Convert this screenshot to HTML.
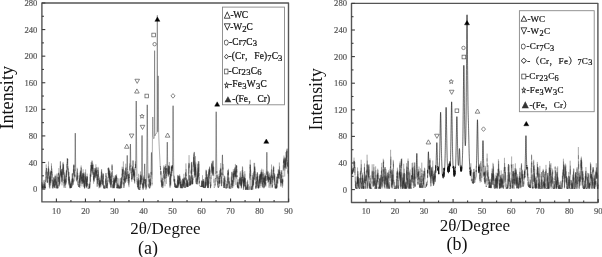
<!DOCTYPE html>
<html><head><meta charset="utf-8"><title>XRD patterns</title>
<style>
html,body{margin:0;padding:0;background:#fff;}
body{width:602px;height:257px;overflow:hidden;}
svg{display:block;}
text{font-family:'Liberation Serif','Noto Serif CJK SC',serif;}
.tk{font-size:8.6px;fill:#555;stroke:#555;stroke-width:0.18;}
.lg{fill:#111;stroke:#111;stroke-width:0.22;}
.ax{fill:#111;}
.dl{fill:none;stroke:#1a1a1a;stroke-width:0.5;stroke-linejoin:round;}
.mk{fill:none;stroke:#555;stroke-width:0.7;}
.pk2{fill:none;stroke:#222;stroke-width:0.3;stroke-linejoin:round;}
.pk3{fill:none;stroke:#222;stroke-width:0.18;stroke-linejoin:round;}
.dl2{fill:none;stroke:#2a2a2a;stroke-width:0.22;stroke-linejoin:round;}
.pk{fill:none;stroke:#111;stroke-width:0.5;stroke-linejoin:round;}
.sy{fill:#333;stroke:#333;stroke-width:3;}
</style></head>
<body>
<svg width="602" height="257" viewBox="0 0 602 257">
<rect width="602" height="257" fill="#fff"/>
<rect x="41.9" y="3.0" width="246.60" height="198.90" fill="none" stroke="#555" stroke-width="1.4" stroke-linejoin="round"/>
<line x1="41.9" y1="189.10" x2="45.30" y2="189.10" stroke="#3c3c3c" stroke-width="1.1"/>
<text x="37.40" y="192.10" text-anchor="end" class="tk">0</text>
<line x1="41.9" y1="175.81" x2="43.90" y2="175.81" stroke="#3c3c3c" stroke-width="1.1"/>
<line x1="41.9" y1="162.51" x2="45.30" y2="162.51" stroke="#3c3c3c" stroke-width="1.1"/>
<text x="37.40" y="165.51" text-anchor="end" class="tk">40</text>
<line x1="41.9" y1="149.22" x2="43.90" y2="149.22" stroke="#3c3c3c" stroke-width="1.1"/>
<line x1="41.9" y1="135.92" x2="45.30" y2="135.92" stroke="#3c3c3c" stroke-width="1.1"/>
<text x="37.40" y="138.92" text-anchor="end" class="tk">80</text>
<line x1="41.9" y1="122.63" x2="43.90" y2="122.63" stroke="#3c3c3c" stroke-width="1.1"/>
<line x1="41.9" y1="109.34" x2="45.30" y2="109.34" stroke="#3c3c3c" stroke-width="1.1"/>
<text x="37.40" y="112.34" text-anchor="end" class="tk">120</text>
<line x1="41.9" y1="96.04" x2="43.90" y2="96.04" stroke="#3c3c3c" stroke-width="1.1"/>
<line x1="41.9" y1="82.75" x2="45.30" y2="82.75" stroke="#3c3c3c" stroke-width="1.1"/>
<text x="37.40" y="85.75" text-anchor="end" class="tk">160</text>
<line x1="41.9" y1="69.45" x2="43.90" y2="69.45" stroke="#3c3c3c" stroke-width="1.1"/>
<line x1="41.9" y1="56.16" x2="45.30" y2="56.16" stroke="#3c3c3c" stroke-width="1.1"/>
<text x="37.40" y="59.16" text-anchor="end" class="tk">200</text>
<line x1="41.9" y1="42.87" x2="43.90" y2="42.87" stroke="#3c3c3c" stroke-width="1.1"/>
<line x1="41.9" y1="29.57" x2="45.30" y2="29.57" stroke="#3c3c3c" stroke-width="1.1"/>
<text x="37.40" y="32.57" text-anchor="end" class="tk">240</text>
<line x1="41.9" y1="16.28" x2="43.90" y2="16.28" stroke="#3c3c3c" stroke-width="1.1"/>
<line x1="41.9" y1="2.98" x2="45.30" y2="2.98" stroke="#3c3c3c" stroke-width="1.1"/>
<text x="37.40" y="5.98" text-anchor="end" class="tk">280</text>
<line x1="56.41" y1="201.9" x2="56.41" y2="198.50" stroke="#3c3c3c" stroke-width="1.1"/>
<text x="56.41" y="213.90" text-anchor="middle" class="tk">10</text>
<line x1="70.92" y1="201.9" x2="70.92" y2="199.90" stroke="#3c3c3c" stroke-width="1.1"/>
<line x1="85.44" y1="201.9" x2="85.44" y2="198.50" stroke="#3c3c3c" stroke-width="1.1"/>
<text x="85.44" y="213.90" text-anchor="middle" class="tk">20</text>
<line x1="99.95" y1="201.9" x2="99.95" y2="199.90" stroke="#3c3c3c" stroke-width="1.1"/>
<line x1="114.46" y1="201.9" x2="114.46" y2="198.50" stroke="#3c3c3c" stroke-width="1.1"/>
<text x="114.46" y="213.90" text-anchor="middle" class="tk">30</text>
<line x1="128.97" y1="201.9" x2="128.97" y2="199.90" stroke="#3c3c3c" stroke-width="1.1"/>
<line x1="143.49" y1="201.9" x2="143.49" y2="198.50" stroke="#3c3c3c" stroke-width="1.1"/>
<text x="143.49" y="213.90" text-anchor="middle" class="tk">40</text>
<line x1="158.00" y1="201.9" x2="158.00" y2="199.90" stroke="#3c3c3c" stroke-width="1.1"/>
<line x1="172.51" y1="201.9" x2="172.51" y2="198.50" stroke="#3c3c3c" stroke-width="1.1"/>
<text x="172.51" y="213.90" text-anchor="middle" class="tk">50</text>
<line x1="187.03" y1="201.9" x2="187.03" y2="199.90" stroke="#3c3c3c" stroke-width="1.1"/>
<line x1="201.54" y1="201.9" x2="201.54" y2="198.50" stroke="#3c3c3c" stroke-width="1.1"/>
<text x="201.54" y="213.90" text-anchor="middle" class="tk">60</text>
<line x1="216.05" y1="201.9" x2="216.05" y2="199.90" stroke="#3c3c3c" stroke-width="1.1"/>
<line x1="230.56" y1="201.9" x2="230.56" y2="198.50" stroke="#3c3c3c" stroke-width="1.1"/>
<text x="230.56" y="213.90" text-anchor="middle" class="tk">70</text>
<line x1="245.07" y1="201.9" x2="245.07" y2="199.90" stroke="#3c3c3c" stroke-width="1.1"/>
<line x1="259.59" y1="201.9" x2="259.59" y2="198.50" stroke="#3c3c3c" stroke-width="1.1"/>
<text x="259.59" y="213.90" text-anchor="middle" class="tk">80</text>
<line x1="274.10" y1="201.9" x2="274.10" y2="199.90" stroke="#3c3c3c" stroke-width="1.1"/>
<line x1="288.61" y1="201.9" x2="288.61" y2="198.50" stroke="#3c3c3c" stroke-width="1.1"/>
<text x="288.61" y="213.90" text-anchor="middle" class="tk">90</text>
<rect x="351.5" y="3.35" width="246.40" height="199.10" fill="none" stroke="#555" stroke-width="1.4" stroke-linejoin="round"/>
<line x1="351.5" y1="189.60" x2="354.90" y2="189.60" stroke="#3c3c3c" stroke-width="1.1"/>
<text x="347.00" y="192.60" text-anchor="end" class="tk">0</text>
<line x1="351.5" y1="176.30" x2="353.50" y2="176.30" stroke="#3c3c3c" stroke-width="1.1"/>
<line x1="351.5" y1="163.00" x2="354.90" y2="163.00" stroke="#3c3c3c" stroke-width="1.1"/>
<text x="347.00" y="166.00" text-anchor="end" class="tk">40</text>
<line x1="351.5" y1="149.70" x2="353.50" y2="149.70" stroke="#3c3c3c" stroke-width="1.1"/>
<line x1="351.5" y1="136.40" x2="354.90" y2="136.40" stroke="#3c3c3c" stroke-width="1.1"/>
<text x="347.00" y="139.40" text-anchor="end" class="tk">80</text>
<line x1="351.5" y1="123.10" x2="353.50" y2="123.10" stroke="#3c3c3c" stroke-width="1.1"/>
<line x1="351.5" y1="109.80" x2="354.90" y2="109.80" stroke="#3c3c3c" stroke-width="1.1"/>
<text x="347.00" y="112.80" text-anchor="end" class="tk">120</text>
<line x1="351.5" y1="96.50" x2="353.50" y2="96.50" stroke="#3c3c3c" stroke-width="1.1"/>
<line x1="351.5" y1="83.20" x2="354.90" y2="83.20" stroke="#3c3c3c" stroke-width="1.1"/>
<text x="347.00" y="86.20" text-anchor="end" class="tk">160</text>
<line x1="351.5" y1="69.90" x2="353.50" y2="69.90" stroke="#3c3c3c" stroke-width="1.1"/>
<line x1="351.5" y1="56.60" x2="354.90" y2="56.60" stroke="#3c3c3c" stroke-width="1.1"/>
<text x="347.00" y="59.60" text-anchor="end" class="tk">200</text>
<line x1="351.5" y1="43.30" x2="353.50" y2="43.30" stroke="#3c3c3c" stroke-width="1.1"/>
<line x1="351.5" y1="30.00" x2="354.90" y2="30.00" stroke="#3c3c3c" stroke-width="1.1"/>
<text x="347.00" y="33.00" text-anchor="end" class="tk">240</text>
<line x1="351.5" y1="16.70" x2="353.50" y2="16.70" stroke="#3c3c3c" stroke-width="1.1"/>
<line x1="351.5" y1="3.40" x2="354.90" y2="3.40" stroke="#3c3c3c" stroke-width="1.1"/>
<text x="347.00" y="6.40" text-anchor="end" class="tk">280</text>
<line x1="366.01" y1="202.45" x2="366.01" y2="199.05" stroke="#3c3c3c" stroke-width="1.1"/>
<text x="366.01" y="214.45" text-anchor="middle" class="tk">10</text>
<line x1="380.52" y1="202.45" x2="380.52" y2="200.45" stroke="#3c3c3c" stroke-width="1.1"/>
<line x1="395.04" y1="202.45" x2="395.04" y2="199.05" stroke="#3c3c3c" stroke-width="1.1"/>
<text x="395.04" y="214.45" text-anchor="middle" class="tk">20</text>
<line x1="409.55" y1="202.45" x2="409.55" y2="200.45" stroke="#3c3c3c" stroke-width="1.1"/>
<line x1="424.06" y1="202.45" x2="424.06" y2="199.05" stroke="#3c3c3c" stroke-width="1.1"/>
<text x="424.06" y="214.45" text-anchor="middle" class="tk">30</text>
<line x1="438.57" y1="202.45" x2="438.57" y2="200.45" stroke="#3c3c3c" stroke-width="1.1"/>
<line x1="453.09" y1="202.45" x2="453.09" y2="199.05" stroke="#3c3c3c" stroke-width="1.1"/>
<text x="453.09" y="214.45" text-anchor="middle" class="tk">40</text>
<line x1="467.60" y1="202.45" x2="467.60" y2="200.45" stroke="#3c3c3c" stroke-width="1.1"/>
<line x1="482.11" y1="202.45" x2="482.11" y2="199.05" stroke="#3c3c3c" stroke-width="1.1"/>
<text x="482.11" y="214.45" text-anchor="middle" class="tk">50</text>
<line x1="496.62" y1="202.45" x2="496.62" y2="200.45" stroke="#3c3c3c" stroke-width="1.1"/>
<line x1="511.14" y1="202.45" x2="511.14" y2="199.05" stroke="#3c3c3c" stroke-width="1.1"/>
<text x="511.14" y="214.45" text-anchor="middle" class="tk">60</text>
<line x1="525.65" y1="202.45" x2="525.65" y2="200.45" stroke="#3c3c3c" stroke-width="1.1"/>
<line x1="540.16" y1="202.45" x2="540.16" y2="199.05" stroke="#3c3c3c" stroke-width="1.1"/>
<text x="540.16" y="214.45" text-anchor="middle" class="tk">70</text>
<line x1="554.67" y1="202.45" x2="554.67" y2="200.45" stroke="#3c3c3c" stroke-width="1.1"/>
<line x1="569.19" y1="202.45" x2="569.19" y2="199.05" stroke="#3c3c3c" stroke-width="1.1"/>
<text x="569.19" y="214.45" text-anchor="middle" class="tk">80</text>
<line x1="583.70" y1="202.45" x2="583.70" y2="200.45" stroke="#3c3c3c" stroke-width="1.1"/>
<line x1="598.21" y1="202.45" x2="598.21" y2="199.05" stroke="#3c3c3c" stroke-width="1.1"/>
<text x="598.21" y="214.45" text-anchor="middle" class="tk">90</text>
<polyline points="41.90,182.65 41.94,182.29 41.99,182.86 42.03,186.07 42.07,184.27 42.12,188.04 42.16,188.25 42.20,182.42 42.25,188.16 42.29,188.17 42.34,185.95 42.38,188.39 42.42,187.90 42.47,187.94 42.51,185.83 42.55,188.05 42.60,188.11 42.64,185.15 42.68,188.11 42.73,186.23 42.77,188.10 42.81,188.21 42.86,183.42 42.90,188.32 42.94,186.62 42.99,188.22 43.03,188.27 43.08,188.12 43.12,187.95 43.16,188.27 43.21,188.31 43.25,188.29 43.29,188.40 43.34,188.25 43.38,188.25 43.42,187.95 43.47,188.38 43.51,188.06 43.55,187.97 43.60,186.14 43.64,187.15 43.69,188.25 43.73,187.99 43.77,181.44 43.82,180.35 43.86,187.95 43.90,184.17 43.95,186.79 43.99,186.95 44.03,186.44 44.08,184.37 44.12,185.81 44.16,188.27 44.21,187.99 44.25,188.08 44.29,179.75 44.34,188.16 44.38,182.15 44.43,184.76 44.47,187.68 44.51,188.11 44.56,188.21 44.60,187.96 44.64,183.68 44.69,187.94 44.73,188.13 44.77,185.45 44.82,188.32 44.86,185.92 44.90,188.37 44.95,188.16 44.99,188.21 45.03,188.34 45.08,188.31 45.12,187.22 45.17,187.96 45.21,188.13 45.25,187.98 45.30,182.49 45.34,188.14 45.38,187.95 45.43,186.85 45.47,188.24 45.51,179.53 45.56,182.07 45.60,180.72 45.64,181.73 45.69,177.38 45.73,178.37 45.77,172.35 45.82,173.49 45.86,180.21 45.91,177.90 45.95,173.83 45.99,170.27 46.04,172.53 46.08,174.95 46.12,173.46 46.17,170.87 46.21,164.38 46.25,173.00 46.30,171.79 46.34,168.35 46.38,169.35 46.43,168.88 46.47,169.25 46.51,169.12 46.56,168.07 46.60,173.96 46.65,168.24 46.69,174.55 46.73,176.71 46.78,177.66 46.82,173.87 46.86,173.38 46.91,180.82 46.95,175.79 46.99,177.48 47.04,182.49 47.08,179.82 47.12,177.52 47.17,174.23 47.21,179.46 47.26,181.95 47.30,182.49 47.34,182.85 47.39,176.79 47.43,183.08 47.47,180.92 47.52,182.14 47.56,178.35 47.60,176.31 47.65,173.84 47.69,171.96 47.73,177.66 47.78,178.92 47.82,171.67 47.86,173.10 47.91,173.58 47.95,173.93 48.00,171.43 48.04,175.78 48.08,173.79 48.13,171.72 48.17,169.57 48.21,168.64 48.26,171.68 48.30,169.54 48.34,168.92 48.39,166.32 48.43,167.14 48.47,172.02 48.52,166.78 48.56,161.55 48.60,175.25 48.65,167.88 48.69,172.08 48.74,176.48 48.78,170.81 48.82,168.90 48.87,178.21 48.91,174.47 48.95,171.65 49.00,178.66 49.04,176.36 49.08,178.24 49.13,184.89 49.17,176.96 49.21,182.50 49.26,178.04 49.30,186.61 49.34,187.13 49.39,184.55 49.43,175.60 49.48,181.04 49.52,180.51 49.56,184.61 49.61,188.07 49.65,188.38 49.69,186.32 49.74,181.70 49.78,176.13 49.82,187.95 49.87,188.37 49.91,179.49 49.95,178.28 50.00,181.59 50.04,186.09 50.09,177.68 50.13,185.10 50.17,172.11 50.22,181.82 50.26,183.45 50.30,182.65 50.35,170.49 50.39,177.10 50.43,177.37 50.48,182.81 50.52,177.38 50.56,178.70 50.61,172.80 50.65,180.72 50.69,172.18 50.74,180.93 50.78,180.56 50.83,176.43 50.87,176.30 50.91,182.82 50.96,181.65 51.00,179.41 51.04,172.94 51.09,170.95 51.13,171.27 51.17,172.20 51.22,170.65 51.26,174.60 51.30,171.07 51.35,172.33 51.39,172.51 51.43,163.32 51.48,170.05 51.52,165.82 51.57,173.84 51.61,171.28 51.65,172.79 51.70,172.42 51.74,172.10 51.78,170.79 51.83,172.41 51.87,175.47 51.91,168.48 51.96,177.88 52.00,172.15 52.04,178.95 52.09,181.63 52.13,174.06 52.17,184.73 52.22,184.07 52.26,179.47 52.31,183.59 52.35,187.87 52.39,183.78 52.44,179.89 52.48,183.66 52.52,185.65 52.57,185.15 52.61,188.24 52.65,184.91 52.70,188.28 52.74,188.22 52.78,188.31 52.83,187.99 52.87,187.94 52.91,188.23 52.96,188.04 53.00,188.07 53.05,187.97 53.09,188.07 53.13,188.27 53.18,182.69 53.22,183.12 53.26,186.72 53.31,182.43 53.35,183.47 53.39,187.54 53.44,181.67 53.48,184.62 53.52,184.49 53.57,180.82 53.61,185.97 53.66,181.07 53.70,177.26 53.74,177.58 53.79,182.06 53.83,177.66 53.87,186.71 53.92,179.56 53.96,184.07 54.00,177.60 54.05,182.39 54.09,181.88 54.13,181.86 54.18,187.36 54.22,188.08 54.26,187.49 54.31,185.24 54.35,180.09 54.40,186.15 54.44,183.98 54.48,186.96 54.53,186.56 54.57,184.42 54.61,187.82 54.66,183.13 54.70,179.33 54.74,181.13 54.79,188.11 54.83,181.29 54.87,180.85 54.92,178.79 54.96,182.53 55.00,176.38 55.05,178.74 55.09,180.48 55.14,174.61 55.18,178.28 55.22,182.44 55.27,176.44 55.31,181.27 55.35,178.83 55.40,175.90 55.44,184.35 55.48,179.52 55.53,179.16 55.57,181.90 55.61,182.65 55.66,185.97 55.70,183.95 55.74,185.07 55.79,181.18 55.83,184.30 55.88,180.63 55.92,182.83 55.96,184.87 56.01,184.40 56.05,188.24 56.09,181.29 56.14,184.20 56.18,187.95 56.22,188.00 56.27,187.58 56.31,188.28 56.35,182.67 56.40,188.36 56.44,182.43 56.49,182.17 56.53,183.13 56.57,179.57 56.62,178.03 56.66,184.59 56.70,186.82 56.75,180.83 56.79,176.39 56.83,177.58 56.88,177.42 56.92,177.98 56.96,174.41 57.01,184.01 57.05,181.91 57.09,173.35 57.14,187.90 57.18,188.25 57.23,188.05 57.27,186.71 57.31,186.55 57.36,188.42 57.40,186.79 57.44,184.60 57.49,187.97 57.53,188.22 57.57,188.04 57.62,188.01 57.66,188.37 57.70,188.06 57.75,186.02 57.79,188.12 57.83,184.48 57.88,188.26 57.92,188.28 57.97,176.95 58.01,188.26 58.05,186.31 58.10,184.87 58.14,185.36 58.18,186.01 58.23,177.41 58.27,181.71 58.31,181.66 58.36,177.60 58.40,178.71 58.44,181.51 58.49,181.91 58.53,175.98 58.57,172.94 58.62,175.55 58.66,173.26 58.71,173.19 58.75,178.97 58.79,172.59 58.84,175.09 58.88,168.06 58.92,174.20 58.97,179.41 59.01,177.07 59.05,185.47 59.10,180.38 59.14,177.29 59.18,177.48 59.23,176.60 59.27,181.59 59.31,183.75 59.36,183.21 59.40,185.29 59.45,175.85 59.49,185.63 59.53,186.51 59.58,174.98 59.62,183.28 59.66,179.29 59.71,179.86 59.75,182.73 59.79,179.61 59.84,174.22 59.88,179.53 59.92,184.01 59.97,184.17 60.01,178.90 60.06,174.15 60.10,169.05 60.14,166.95 60.19,165.07 60.23,164.49 60.27,161.45 60.32,167.86 60.36,166.18 60.40,175.53 60.45,166.97 60.49,161.30 60.53,168.33 60.58,165.32 60.62,168.96 60.66,168.10 60.71,172.34 60.75,169.34 60.80,174.69 60.84,170.92 60.88,175.61 60.93,175.23 60.97,169.79 61.01,177.08 61.06,172.00 61.10,171.18 61.14,177.68 61.19,178.33 61.23,177.98 61.27,172.00 61.32,175.56 61.36,174.14 61.40,169.19 61.45,177.26 61.49,171.95 61.54,176.52 61.58,177.62 61.62,181.86 61.67,180.52 61.71,169.05 61.75,177.22 61.80,181.41 61.84,173.82 61.88,176.29 61.93,175.84 61.97,175.58 62.01,185.37 62.06,184.62 62.10,179.11 62.14,176.67 62.19,177.15 62.23,173.52 62.28,180.46 62.32,171.39 62.36,182.50 62.41,173.43 62.45,171.13 62.49,170.28 62.54,169.34 62.58,170.69 62.62,170.39 62.67,174.89 62.71,169.30 62.75,170.05 62.80,167.70 62.84,170.93 62.89,173.37 62.93,163.16 62.97,174.61 63.02,168.82 63.06,162.26 63.10,161.93 63.15,173.72 63.19,164.34 63.23,169.44 63.28,165.85 63.32,164.99 63.36,164.39 63.41,175.05 63.45,171.74 63.49,166.69 63.54,167.48 63.58,164.38 63.63,168.43 63.67,167.88 63.71,169.31 63.76,171.74 63.80,180.86 63.84,169.84 63.89,176.63 63.93,180.87 63.97,181.10 64.02,183.53 64.06,182.03 64.10,187.99 64.15,179.73 64.19,187.40 64.23,179.94 64.28,185.86 64.32,181.26 64.37,178.39 64.41,181.28 64.45,182.38 64.50,181.19 64.54,182.05 64.58,181.34 64.63,172.30 64.67,183.42 64.71,181.51 64.76,179.85 64.80,177.89 64.84,175.13 64.89,177.80 64.93,173.60 64.97,181.53 65.02,176.60 65.06,177.66 65.11,182.77 65.15,179.99 65.19,181.55 65.24,183.35 65.28,184.55 65.32,178.75 65.37,185.51 65.41,179.60 65.45,179.51 65.50,181.34 65.54,181.39 65.58,188.02 65.63,183.07 65.67,180.85 65.72,180.25 65.76,178.31 65.80,180.17 65.85,182.88 65.89,184.25 65.93,184.64 65.98,181.49 66.02,182.20 66.06,175.92 66.11,182.47 66.15,183.64 66.19,182.06 66.24,170.41 66.28,177.92 66.32,182.27 66.37,171.42 66.41,177.00 66.46,174.42 66.50,176.81 66.54,171.00 66.59,169.69 66.63,174.53 66.67,170.57 66.72,175.07 66.76,164.11 66.80,172.12 66.85,171.11 66.89,170.87 66.93,170.57 66.98,165.56 67.02,167.82 67.06,162.62 67.11,162.54 67.15,159.55 67.20,158.12 67.24,165.22 67.28,161.90 67.33,165.05 67.37,162.07 67.41,158.53 67.46,159.20 67.50,162.97 67.54,158.78 67.59,160.48 67.63,158.89 67.67,170.22 67.72,165.38 67.76,158.96 67.80,169.34 67.85,166.00 67.89,166.31 67.94,169.04 67.98,168.70 68.02,167.76 68.07,169.93 68.11,172.28 68.15,168.97 68.20,168.71 68.24,169.53 68.28,180.32 68.33,168.88 68.37,172.90 68.41,175.63 68.46,171.69 68.50,172.85 68.54,173.07 68.59,179.65 68.63,183.56 68.68,172.19 68.72,176.14 68.76,180.35 68.81,180.71 68.85,180.28 68.89,176.97 68.94,184.72 68.98,183.66 69.02,171.91 69.07,185.64 69.11,179.14 69.15,180.19 69.20,180.51 69.24,176.33 69.29,182.50 69.33,176.72 69.37,181.07 69.42,183.75 69.46,184.27 69.50,183.83 69.55,178.85 69.59,178.78 69.63,182.87 69.68,186.60 69.72,187.56 69.76,185.40 69.81,180.27 69.85,182.97 69.89,187.32 69.94,181.07 69.98,188.33 70.03,187.97 70.07,188.26 70.11,183.88 70.16,187.91 70.20,188.32 70.24,187.15 70.29,188.03 70.33,183.99 70.37,185.68 70.42,187.83 70.46,184.17 70.50,187.94 70.55,182.73 70.59,187.98 70.63,187.88 70.68,187.26 70.72,185.23 70.77,187.36 70.81,186.11 70.85,187.92 70.90,188.03 70.94,182.27 70.98,184.26 71.03,188.08 71.07,186.50 71.11,187.92 71.16,188.02 71.20,187.40 71.24,185.34 71.29,183.09 71.33,184.85 71.37,187.45 71.42,187.78 71.46,187.86 71.51,187.33 71.55,181.21 71.59,185.23 71.64,185.08 71.68,187.49 71.72,183.55 71.77,186.44 71.81,184.09 71.85,181.18 71.90,179.27 71.94,183.69 71.98,183.46 72.03,179.66 72.07,181.95 72.12,173.56 72.16,180.26 72.20,184.73 72.25,178.20 72.29,180.19 72.33,178.43 72.38,177.77 72.42,173.94 72.46,173.65 72.51,179.86 72.55,185.31 72.59,186.20 72.64,172.93 72.68,180.33 72.72,178.07 72.77,182.24 72.81,180.27 72.86,178.54 72.90,183.11 72.94,181.90 72.99,179.68 73.03,184.99 73.07,184.49 73.12,178.73 73.16,181.78 73.20,180.37 73.25,184.47 73.29,176.41 73.33,175.59 73.38,168.86 73.42,175.12 73.46,174.78 73.51,169.94 73.55,171.85 73.60,165.56 73.64,170.39 73.68,170.29 73.73,166.55 73.77,164.77 73.81,167.26 73.86,164.36 73.90,173.96 73.94,169.69 73.99,168.67 74.03,165.06 74.07,176.11 74.12,166.52 74.16,173.11 74.20,170.52 74.25,172.81 74.29,181.39 74.34,177.00 74.38,174.54 74.42,177.40 74.47,177.17 74.51,174.44 74.55,175.50 74.60,175.13 74.64,171.89 74.68,174.75 74.73,176.69 74.77,174.28 74.81,169.29 74.86,171.46 74.90,166.98 74.94,162.28 74.99,159.62 75.03,154.80 75.08,149.93 75.12,144.83 75.16,139.98 75.21,135.99 75.25,133.55 75.29,133.15 75.34,134.89 75.38,138.37 75.42,142.94 75.47,147.95 75.51,152.88 75.55,157.83 75.60,161.99 75.64,167.15 75.69,170.98 75.73,173.67 75.77,175.50 75.82,174.63 75.86,177.18 75.90,175.27 75.95,176.77 75.99,178.47 76.03,179.00 76.08,179.14 76.12,179.45 76.16,179.35 76.21,179.77 76.25,180.03 76.29,179.97 76.34,180.25 76.38,180.08 76.43,180.30 76.47,177.75 76.51,180.67 76.56,180.80 76.60,180.91 76.64,180.99 76.69,179.57 76.73,176.54 76.77,178.40 76.82,177.95 76.86,174.83 76.90,171.52 76.95,172.68 76.99,182.04 77.03,174.68 77.08,173.54 77.12,174.05 77.17,172.97 77.21,167.79 77.25,172.48 77.30,173.57 77.34,174.10 77.38,179.43 77.43,178.80 77.47,180.39 77.51,168.97 77.56,174.75 77.60,179.61 77.64,177.12 77.69,176.29 77.73,178.88 77.77,173.16 77.82,176.76 77.86,175.33 77.91,181.94 77.95,184.65 77.99,181.99 78.04,182.41 78.08,180.16 78.12,185.34 78.17,181.37 78.21,185.43 78.25,185.41 78.30,184.24 78.34,185.83 78.38,186.08 78.43,185.93 78.47,186.24 78.52,185.97 78.56,186.21 78.60,186.11 78.65,186.27 78.69,186.67 78.73,186.67 78.78,185.81 78.82,186.87 78.86,184.53 78.91,186.68 78.95,187.01 78.99,186.84 79.04,186.80 79.08,186.86 79.12,185.69 79.17,184.35 79.21,186.42 79.26,187.14 79.30,185.53 79.34,175.58 79.39,183.02 79.43,177.73 79.47,184.40 79.52,187.57 79.56,180.42 79.60,179.19 79.65,180.33 79.69,182.02 79.73,182.15 79.78,178.70 79.82,183.87 79.86,181.23 79.91,174.77 79.95,187.89 80.00,179.52 80.04,172.76 80.08,185.90 80.13,185.44 80.17,181.09 80.21,178.89 80.26,171.78 80.30,179.60 80.34,182.65 80.39,170.41 80.43,176.33 80.47,174.79 80.52,175.07 80.56,179.11 80.60,177.14 80.65,172.30 80.69,171.46 80.74,179.81 80.78,173.48 80.82,177.60 80.87,170.83 80.91,174.40 80.95,174.93 81.00,172.55 81.04,167.39 81.08,173.13 81.13,165.51 81.17,172.16 81.21,173.58 81.26,173.98 81.30,174.37 81.34,175.48 81.39,167.68 81.43,181.02 81.48,176.99 81.52,177.95 81.56,177.51 81.61,178.94 81.65,175.67 81.69,183.78 81.74,175.32 81.78,175.12 81.82,181.76 81.87,178.41 81.91,186.42 81.95,176.39 82.00,176.65 82.04,174.73 82.09,180.88 82.13,173.08 82.17,177.79 82.22,176.88 82.26,178.12 82.30,181.13 82.35,184.16 82.39,179.91 82.43,182.48 82.48,176.24 82.52,183.70 82.56,183.53 82.61,177.47 82.65,181.15 82.69,175.45 82.74,175.94 82.78,173.51 82.83,174.18 82.87,176.54 82.91,177.41 82.96,176.68 83.00,173.19 83.04,176.30 83.09,169.90 83.13,169.29 83.17,179.20 83.22,173.89 83.26,182.07 83.30,179.24 83.35,172.76 83.39,182.72 83.43,179.71 83.48,179.15 83.52,184.27 83.57,182.30 83.61,175.98 83.65,177.69 83.70,174.10 83.74,179.30 83.78,186.66 83.83,178.46 83.87,182.97 83.91,176.17 83.96,182.65 84.00,172.56 84.04,186.94 84.09,182.99 84.13,173.69 84.17,180.12 84.22,182.72 84.26,181.42 84.31,180.09 84.35,188.27 84.39,185.56 84.44,181.13 84.48,182.97 84.52,188.42 84.57,184.99 84.61,183.17 84.65,188.36 84.70,180.48 84.74,179.47 84.78,188.09 84.83,184.38 84.87,184.96 84.92,186.52 84.96,183.25 85.00,186.18 85.05,176.39 85.09,177.28 85.13,184.25 85.18,183.36 85.22,174.81 85.26,179.30 85.31,172.38 85.35,179.37 85.39,178.72 85.44,177.17 85.48,181.54 85.52,179.49 85.57,176.96 85.61,169.39 85.66,180.12 85.70,178.42 85.74,183.45 85.79,180.70 85.83,183.60 85.87,183.68 85.92,183.54 85.96,184.65 86.00,177.31 86.05,178.38 86.09,186.51 86.13,176.16 86.18,179.30 86.22,182.35 86.26,185.69 86.31,181.23 86.35,180.52 86.40,187.54 86.44,188.17 86.48,178.52 86.53,186.90 86.57,182.73 86.61,186.70 86.66,186.91 86.70,180.73 86.74,187.73 86.79,178.75 86.83,182.10 86.87,176.58 86.92,184.08 86.96,183.96 87.00,183.38 87.05,181.23 87.09,176.01 87.14,185.76 87.18,173.65 87.22,179.48 87.27,181.78 87.31,181.84 87.35,176.56 87.40,177.92 87.44,178.10 87.48,180.28 87.53,177.03 87.57,181.26 87.61,185.44 87.66,183.19 87.70,185.15 87.74,186.42 87.79,183.83 87.83,188.14 87.88,188.37 87.92,187.94 87.96,187.90 88.01,188.37 88.05,188.12 88.09,188.15 88.14,187.93 88.18,188.11 88.22,188.23 88.27,187.93 88.31,188.10 88.35,188.32 88.40,188.34 88.44,188.00 88.49,187.94 88.53,188.38 88.57,188.34 88.62,188.41 88.66,188.17 88.70,188.08 88.75,188.26 88.79,188.31 88.83,188.21 88.88,188.04 88.92,188.26 88.96,188.13 89.01,185.99 89.05,188.27 89.09,188.00 89.14,183.90 89.18,187.94 89.23,188.13 89.27,188.32 89.31,188.11 89.36,187.97 89.40,184.35 89.44,188.41 89.49,186.83 89.53,187.98 89.57,183.68 89.62,185.50 89.66,188.35 89.70,183.50 89.75,182.47 89.79,188.30 89.83,186.53 89.88,185.29 89.92,185.46 89.97,186.57 90.01,177.15 90.05,184.96 90.10,183.60 90.14,182.41 90.18,181.79 90.23,174.42 90.27,177.49 90.31,172.90 90.36,181.30 90.40,174.37 90.44,176.56 90.49,174.84 90.53,182.09 90.57,177.17 90.62,174.96 90.66,175.52 90.71,171.92 90.75,170.62 90.79,169.16 90.84,169.89 90.88,174.69 90.92,167.84 90.97,172.99 91.01,165.16 91.05,172.20 91.10,164.87 91.14,176.74 91.18,162.08 91.23,166.55 91.27,164.96 91.32,167.82 91.36,167.42 91.40,168.37 91.45,162.62 91.49,166.55 91.53,166.71 91.58,167.76 91.62,170.98 91.66,168.99 91.71,166.59 91.75,170.25 91.79,160.61 91.84,168.47 91.88,166.23 91.92,165.19 91.97,170.91 92.01,165.04 92.06,168.37 92.10,166.87 92.14,168.39 92.19,167.63 92.23,164.98 92.27,167.49 92.32,168.96 92.36,160.69 92.40,168.39 92.45,167.83 92.49,169.13 92.53,167.60 92.58,173.56 92.62,164.69 92.66,162.70 92.71,172.49 92.75,165.00 92.80,166.86 92.84,169.72 92.88,174.03 92.93,174.70 92.97,169.66 93.01,164.02 93.06,166.51 93.10,165.25 93.14,174.97 93.19,174.66 93.23,174.29 93.27,167.65 93.32,176.97 93.36,177.29 93.40,172.46 93.45,175.39 93.49,180.00 93.54,172.14 93.58,183.70 93.62,177.73 93.67,176.99 93.71,179.09 93.75,177.41 93.80,175.70 93.84,181.35 93.88,176.08 93.93,179.57 93.97,179.04 94.01,180.87 94.06,178.59 94.10,179.17 94.14,178.51 94.19,181.84 94.23,178.57 94.28,177.98 94.32,171.87 94.36,175.65 94.41,178.32 94.45,173.98 94.49,173.66 94.54,176.69 94.58,176.93 94.62,167.96 94.67,174.38 94.71,172.59 94.75,177.37 94.80,173.79 94.84,178.95 94.89,172.47 94.93,170.06 94.97,176.77 95.02,175.09 95.06,171.38 95.10,168.46 95.15,170.13 95.19,173.95 95.23,172.55 95.28,170.18 95.32,168.96 95.36,171.67 95.41,172.20 95.45,168.74 95.49,167.89 95.54,169.87 95.58,172.08 95.63,177.71 95.67,170.28 95.71,170.82 95.76,173.09 95.80,175.89 95.84,172.61 95.89,164.30 95.93,177.87 95.97,175.34 96.02,170.85 96.06,176.40 96.10,173.77 96.15,170.75 96.19,172.63 96.23,172.32 96.28,171.12 96.32,173.79 96.37,167.31 96.41,173.59 96.45,173.49 96.50,171.66 96.54,171.62 96.58,167.51 96.63,169.78 96.67,172.32 96.71,173.51 96.76,175.95 96.80,169.56 96.84,176.32 96.89,170.71 96.93,180.11 96.97,173.87 97.02,178.12 97.06,181.95 97.11,186.98 97.15,178.04 97.19,176.50 97.24,179.70 97.28,186.34 97.32,173.92 97.37,182.33 97.41,184.02 97.45,179.01 97.50,183.49 97.54,175.13 97.58,179.63 97.63,180.16 97.67,178.30 97.72,179.45 97.76,176.46 97.80,169.91 97.85,170.87 97.89,170.27 97.93,170.74 97.98,173.01 98.02,166.86 98.06,171.22 98.11,167.80 98.15,171.32 98.19,174.05 98.24,176.89 98.28,170.73 98.32,177.80 98.37,174.48 98.41,171.75 98.46,175.12 98.50,179.97 98.54,178.83 98.59,173.57 98.63,182.15 98.67,178.43 98.72,181.07 98.76,178.41 98.80,185.09 98.85,180.79 98.89,184.53 98.93,183.14 98.98,188.35 99.02,187.68 99.06,186.75 99.11,185.12 99.15,184.80 99.20,185.95 99.24,181.95 99.28,185.62 99.33,181.34 99.37,186.79 99.41,183.14 99.46,183.54 99.50,180.57 99.54,187.72 99.59,181.83 99.63,187.11 99.67,179.93 99.72,185.17 99.76,176.55 99.80,181.31 99.85,177.93 99.89,180.78 99.94,179.75 99.98,186.06 100.02,183.66 100.07,187.62 100.11,181.59 100.15,184.85 100.20,180.27 100.24,180.63 100.28,182.01 100.33,184.52 100.37,182.04 100.41,183.87 100.46,184.67 100.50,183.67 100.55,180.90 100.59,183.12 100.63,183.64 100.68,184.94 100.72,187.31 100.76,183.58 100.81,182.68 100.85,180.58 100.89,184.81 100.94,184.60 100.98,186.26 101.02,179.34 101.07,184.03 101.11,175.41 101.15,181.91 101.20,180.53 101.24,179.24 101.29,176.56 101.33,171.71 101.37,179.47 101.42,179.06 101.46,169.86 101.50,169.68 101.55,169.96 101.59,178.24 101.63,169.12 101.68,177.29 101.72,171.73 101.76,181.20 101.81,178.88 101.85,183.90 101.89,179.23 101.94,175.31 101.98,178.48 102.03,178.38 102.07,177.79 102.11,178.84 102.16,184.24 102.20,184.23 102.24,183.51 102.29,184.54 102.33,180.07 102.37,181.63 102.42,182.55 102.46,181.28 102.50,182.60 102.55,184.88 102.59,179.82 102.63,181.26 102.68,178.92 102.72,183.34 102.77,173.26 102.81,178.16 102.85,179.06 102.90,175.83 102.94,183.76 102.98,186.29 103.03,181.34 103.07,174.15 103.11,178.99 103.16,185.22 103.20,180.75 103.24,180.29 103.29,173.35 103.33,179.28 103.37,174.28 103.42,182.06 103.46,181.95 103.51,182.29 103.55,184.84 103.59,188.34 103.64,188.08 103.68,180.97 103.72,188.04 103.77,184.90 103.81,188.08 103.85,187.96 103.90,188.32 103.94,187.99 103.98,188.34 104.03,188.11 104.07,188.20 104.12,185.57 104.16,187.95 104.20,188.22 104.25,185.39 104.29,187.90 104.33,187.96 104.38,188.07 104.42,188.18 104.46,187.67 104.51,188.26 104.55,186.13 104.59,187.13 104.64,188.25 104.68,188.17 104.72,188.39 104.77,188.08 104.81,188.38 104.86,187.91 104.90,188.34 104.94,188.14 104.99,187.69 105.03,188.37 105.07,187.93 105.12,188.33 105.16,188.03 105.20,184.75 105.25,187.56 105.29,186.64 105.33,186.66 105.38,186.08 105.42,188.15 105.46,188.03 105.51,185.52 105.55,178.43 105.60,184.27 105.64,183.29 105.68,179.54 105.73,185.57 105.77,178.17 105.81,176.41 105.86,173.17 105.90,176.98 105.94,175.49 105.99,179.71 106.03,180.68 106.07,185.73 106.12,172.96 106.16,181.69 106.20,183.30 106.25,182.35 106.29,180.79 106.34,182.15 106.38,181.82 106.42,181.47 106.47,176.39 106.51,188.06 106.55,182.79 106.60,187.91 106.64,184.68 106.68,185.59 106.73,184.81 106.77,187.93 106.81,188.02 106.86,185.36 106.90,187.91 106.95,188.22 106.99,188.12 107.03,187.94 107.08,185.46 107.12,188.41 107.16,182.78 107.21,185.13 107.25,185.68 107.29,183.66 107.34,184.90 107.38,188.01 107.42,188.30 107.47,181.47 107.51,182.35 107.55,185.40 107.60,182.46 107.64,184.40 107.69,180.86 107.73,180.00 107.77,180.13 107.82,181.90 107.86,177.09 107.90,181.48 107.95,179.08 107.99,172.71 108.03,173.78 108.08,171.23 108.12,168.08 108.16,170.10 108.21,168.12 108.25,169.43 108.29,170.51 108.34,171.38 108.38,167.78 108.43,167.49 108.47,174.75 108.51,169.49 108.56,167.77 108.60,170.82 108.64,177.57 108.69,171.15 108.73,178.06 108.77,169.98 108.82,174.76 108.86,168.91 108.90,175.29 108.95,168.03 108.99,167.77 109.03,176.54 109.08,171.74 109.12,169.59 109.17,177.91 109.21,182.23 109.25,174.59 109.30,177.54 109.34,176.75 109.38,174.83 109.43,183.63 109.47,172.97 109.51,179.16 109.56,177.49 109.60,170.87 109.64,174.45 109.69,176.23 109.73,182.56 109.77,170.65 109.82,178.49 109.86,173.14 109.91,176.11 109.95,171.29 109.99,179.96 110.04,176.66 110.08,175.92 110.12,178.37 110.17,184.90 110.21,173.69 110.25,175.32 110.30,181.48 110.34,178.88 110.38,177.27 110.43,178.11 110.47,175.88 110.52,181.02 110.56,183.13 110.60,186.59 110.65,182.85 110.69,184.11 110.73,179.00 110.78,187.94 110.82,184.40 110.86,179.65 110.91,179.08 110.95,184.50 110.99,179.80 111.04,186.88 111.08,176.04 111.12,185.03 111.17,179.14 111.21,182.16 111.26,187.90 111.30,182.74 111.34,172.42 111.39,178.29 111.43,183.42 111.47,182.43 111.52,175.81 111.56,176.22 111.60,175.05 111.65,175.58 111.69,172.89 111.73,172.45 111.78,173.30 111.82,179.42 111.86,172.66 111.91,170.34 111.95,167.22 112.00,164.69 112.04,169.61 112.08,164.39 112.13,170.01 112.17,165.87 112.21,170.15 112.26,169.51 112.30,177.21 112.34,175.30 112.39,170.73 112.43,171.97 112.47,173.94 112.52,179.08 112.56,181.73 112.60,182.13 112.65,182.07 112.69,181.04 112.74,186.19 112.78,184.41 112.82,186.68 112.87,188.31 112.91,188.12 112.95,185.88 113.00,187.51 113.04,184.54 113.08,188.11 113.13,184.51 113.17,188.23 113.21,186.56 113.26,187.93 113.30,182.54 113.35,185.47 113.39,180.39 113.43,188.09 113.48,182.34 113.52,180.25 113.56,178.02 113.61,178.50 113.65,180.58 113.69,180.98 113.74,185.97 113.78,187.25 113.82,175.68 113.87,177.19 113.91,184.04 113.95,188.02 114.00,178.49 114.04,179.88 114.09,184.56 114.13,182.90 114.17,183.73 114.22,180.22 114.26,184.20 114.30,179.33 114.35,182.00 114.39,180.36 114.43,186.39 114.48,182.32 114.52,188.27 114.56,180.37 114.61,187.95 114.65,182.71 114.69,183.16 114.74,178.98 114.78,183.51 114.83,177.02 114.87,177.82 114.91,182.88 114.96,178.45 115.00,178.01 115.04,178.11 115.09,185.29 115.13,178.20 115.17,178.46 115.22,179.65 115.26,182.69 115.30,175.68 115.35,175.36 115.39,181.51 115.43,181.24 115.48,176.96 115.52,175.57 115.57,177.74 115.61,181.44 115.65,179.16 115.70,178.19 115.74,181.65 115.78,182.34 115.83,176.41 115.87,175.54 115.91,176.01 115.96,177.51 116.00,178.99 116.04,177.50 116.09,178.50 116.13,180.76 116.17,174.74 116.22,176.37 116.26,181.26 116.31,180.19 116.35,178.20 116.39,176.30 116.44,183.18 116.48,180.06 116.52,176.07 116.57,178.92 116.61,174.41 116.65,179.04 116.70,187.97 116.74,188.16 116.78,176.91 116.83,187.31 116.87,188.12 116.92,187.08 116.96,187.89 117.00,188.01 117.05,187.65 117.09,188.17 117.13,183.38 117.18,187.94 117.22,188.29 117.26,188.35 117.31,188.18 117.35,188.34 117.39,188.19 117.44,187.45 117.48,188.08 117.52,184.55 117.57,187.94 117.61,188.05 117.66,188.03 117.70,187.47 117.74,178.00 117.79,186.80 117.83,183.26 117.87,184.57 117.92,188.18 117.96,186.99 118.00,184.52 118.05,188.03 118.09,187.86 118.13,185.04 118.18,188.02 118.22,188.18 118.26,188.07 118.31,188.37 118.35,188.35 118.40,188.14 118.44,187.88 118.48,185.12 118.53,184.76 118.57,187.95 118.61,188.35 118.66,188.16 118.70,188.31 118.74,187.52 118.79,188.29 118.83,185.91 118.87,187.96 118.92,181.94 118.96,181.63 119.00,178.51 119.05,185.81 119.09,188.19 119.14,187.50 119.18,187.63 119.22,188.36 119.27,185.32 119.31,185.50 119.35,188.24 119.40,188.37 119.44,186.63 119.48,188.32 119.53,188.02 119.57,187.93 119.61,187.91 119.66,185.91 119.70,188.23 119.75,188.33 119.79,187.97 119.83,187.16 119.88,188.37 119.92,188.29 119.96,188.23 120.01,187.97 120.05,188.11 120.09,187.93 120.14,188.31 120.18,187.96 120.22,184.16 120.27,188.31 120.31,187.91 120.35,188.17 120.40,188.14 120.44,188.28 120.49,182.11 120.53,188.13 120.57,188.20 120.62,188.22 120.66,188.34 120.70,180.84 120.75,177.99 120.79,181.26 120.83,187.96 120.88,183.46 120.92,181.23 120.96,187.56 121.01,178.55 121.05,181.22 121.09,188.02 121.14,186.06 121.18,185.62 121.23,188.25 121.27,187.93 121.31,181.06 121.36,177.48 121.40,180.27 121.44,181.99 121.49,177.13 121.53,178.55 121.57,183.57 121.62,185.57 121.66,181.31 121.70,188.14 121.75,187.80 121.79,185.65 121.83,183.87 121.88,173.67 121.92,181.02 121.97,184.47 122.01,178.89 122.05,183.70 122.10,174.58 122.14,166.66 122.18,170.19 122.23,169.19 122.27,175.22 122.31,175.12 122.36,170.66 122.40,175.33 122.44,179.31 122.49,169.80 122.53,174.41 122.57,177.48 122.62,173.97 122.66,168.86 122.71,173.32 122.75,173.76 122.79,175.39 122.84,176.45 122.88,168.69 122.92,171.43 122.97,170.17 123.01,170.57 123.05,170.86 123.10,173.76 123.14,171.58 123.18,167.24 123.23,168.22 123.27,168.47 123.32,167.38 123.36,161.40 123.40,173.40 123.45,168.72 123.49,179.66 123.53,173.04 123.58,177.10 123.62,180.56 123.66,179.09 123.71,181.64 123.75,187.98 123.79,183.00 123.84,184.77 123.88,182.09 123.92,183.90 123.97,181.71 124.01,187.87 124.06,179.09 124.10,184.16 124.14,184.44 124.19,185.20 124.23,186.26 124.27,181.69 124.32,179.89 124.36,175.99 124.40,178.53 124.45,180.70 124.49,179.41 124.53,180.15 124.58,180.20 124.62,177.94 124.66,170.47 124.71,181.91 124.75,178.88 124.80,178.42 124.84,182.28 124.88,172.24 124.93,181.02 124.97,174.26 125.01,170.58 125.06,179.79 125.10,177.32 125.14,183.35 125.19,177.96 125.23,182.00 125.27,176.21 125.32,183.02 125.36,178.95 125.40,179.12 125.45,176.04 125.49,171.86 125.54,171.26 125.58,175.34 125.62,168.19 125.67,170.42 125.71,168.54 125.75,167.68 125.80,163.69 125.84,170.63 125.88,175.68 125.93,168.18 125.97,172.43 126.01,174.09 126.06,174.56 126.10,166.92 126.15,170.36 126.19,178.75 126.23,178.29 126.28,179.26 126.32,176.52 126.36,172.66 126.41,179.10 126.45,175.04 126.49,177.16 126.54,178.29 126.58,176.17 126.62,180.42 126.67,181.55 126.71,180.56 126.75,176.94 126.80,174.94 126.84,176.51 126.89,173.13 126.93,170.62 126.97,166.46 127.02,163.83 127.06,161.30 127.10,158.98 127.15,157.08 127.19,155.82 127.23,155.38 127.28,155.82 127.32,157.07 127.36,158.96 127.41,161.28 127.45,163.80 127.49,165.94 127.54,168.40 127.58,169.67 127.63,169.11 127.67,172.64 127.71,175.75 127.76,173.53 127.80,170.52 127.84,171.66 127.89,179.06 127.93,173.97 127.97,171.52 128.02,173.59 128.06,182.94 128.10,179.83 128.15,180.96 128.19,174.07 128.23,178.11 128.28,179.92 128.32,174.19 128.37,178.17 128.41,178.31 128.45,174.90 128.50,174.03 128.54,181.55 128.58,185.47 128.63,184.79 128.67,180.22 128.71,180.52 128.76,181.01 128.80,176.88 128.84,181.26 128.89,184.47 128.93,176.58 128.97,186.37 129.02,187.21 129.06,176.88 129.11,175.79 129.15,175.49 129.19,182.47 129.24,176.91 129.28,177.68 129.32,173.26 129.37,173.07 129.41,177.18 129.45,177.16 129.50,177.99 129.54,174.63 129.58,175.72 129.63,170.29 129.67,168.54 129.72,163.35 129.76,168.03 129.80,169.57 129.85,169.16 129.89,166.18 129.93,170.71 129.98,168.07 130.02,165.87 130.06,165.32 130.11,164.37 130.15,161.11 130.19,157.46 130.24,153.76 130.28,150.27 130.32,147.29 130.37,145.13 130.41,144.08 130.46,144.29 130.50,145.73 130.54,148.20 130.59,151.38 130.63,154.97 130.67,158.67 130.72,162.27 130.76,164.53 130.80,164.55 130.85,166.67 130.89,165.46 130.93,168.77 130.98,169.26 131.02,173.18 131.06,169.30 131.11,169.80 131.15,173.57 131.20,168.50 131.24,167.84 131.28,170.55 131.33,174.86 131.37,173.69 131.41,172.22 131.46,176.29 131.50,176.04 131.54,179.06 131.59,177.32 131.63,174.53 131.67,180.13 131.72,177.89 131.76,181.03 131.80,181.79 131.85,178.07 131.89,178.80 131.94,175.94 131.98,174.12 132.02,179.15 132.07,174.71 132.11,172.59 132.15,173.03 132.20,167.88 132.24,179.44 132.28,167.40 132.33,167.06 132.37,169.91 132.41,178.15 132.46,167.34 132.50,172.11 132.55,166.18 132.59,168.51 132.63,172.24 132.68,171.46 132.72,169.08 132.76,166.44 132.81,166.44 132.85,165.57 132.89,163.90 132.94,162.27 132.98,161.10 133.02,160.52 133.07,160.64 133.11,161.43 133.15,162.78 133.20,164.48 133.24,166.13 133.29,167.88 133.33,168.48 133.37,170.13 133.42,175.20 133.46,174.57 133.50,175.19 133.55,170.32 133.59,177.57 133.63,169.76 133.68,179.98 133.72,169.27 133.76,171.25 133.81,176.56 133.85,168.63 133.89,175.00 133.94,173.01 133.98,175.94 134.03,171.00 134.07,169.99 134.11,168.70 134.16,173.15 134.20,175.81 134.24,173.67 134.29,175.39 134.33,170.28 134.37,173.61 134.42,181.39 134.46,171.60 134.50,178.34 134.55,180.98 134.59,178.90 134.63,182.71 134.68,176.05 134.72,183.65 134.77,179.99 134.81,180.32 134.85,171.58 134.90,173.44 134.94,176.63 134.98,170.31 135.03,167.04 135.07,167.78 135.11,167.44 135.16,168.34 135.20,170.37 135.24,168.54 135.29,167.46 135.33,163.74 135.38,165.20 135.42,163.26 135.46,161.32 135.51,168.08 135.55,164.77 135.59,166.76 135.64,167.91 135.68,164.30 135.72,164.54 135.77,160.39 135.81,155.45 135.85,149.71 135.90,143.26 135.94,136.24 135.98,128.89 136.03,121.53 136.07,114.60 136.12,108.58 136.16,104.02 136.20,101.39 136.25,101.02 136.29,102.96 136.33,106.96 136.38,112.59 136.42,119.32 136.46,126.62 136.51,134.05 136.55,141.24 136.59,147.95 136.64,153.97 136.68,159.22 136.72,163.67 136.77,167.21 136.81,170.50 136.86,171.74 136.90,176.25 136.94,178.97 136.99,179.75 137.03,179.28 137.07,181.89 137.12,177.01 137.16,179.66 137.20,184.31 137.25,181.08 137.29,184.54 137.33,179.79 137.38,182.70 137.42,186.92 137.46,186.33 137.51,184.09 137.55,187.47 137.60,186.75 137.64,181.83 137.68,186.60 137.73,187.23 137.77,186.51 137.81,186.92 137.86,186.55 137.90,188.58 137.94,188.47 137.99,188.56 138.03,188.50 138.07,188.72 138.12,179.14 138.16,184.83 138.20,184.62 138.25,186.58 138.29,187.29 138.34,184.28 138.38,181.86 138.42,183.83 138.47,178.02 138.51,180.42 138.55,189.47 138.60,173.80 138.64,186.29 138.68,182.46 138.73,180.76 138.77,187.65 138.81,189.00 138.86,180.55 138.90,189.76 138.95,179.77 138.99,184.78 139.03,189.76 139.08,187.13 139.12,187.54 139.16,189.76 139.21,189.76 139.25,189.76 139.29,189.76 139.34,189.76 139.38,189.76 139.42,189.76 139.47,189.76 139.51,189.76 139.55,189.76 139.60,189.11 139.64,189.44 139.69,189.76 139.73,189.76 139.77,189.13 139.82,189.76 139.86,189.05 139.90,188.35 139.95,186.49 139.99,189.76 140.03,188.09 140.08,183.97 140.12,179.93 140.16,184.07 140.21,175.65 140.25,174.98 140.29,184.87 140.34,179.84 140.38,178.20 140.43,182.03 140.47,171.43 140.51,187.85 140.56,179.83 140.60,179.68 140.64,181.83 140.69,181.62 140.73,184.28 140.77,179.48 140.82,174.96 140.86,183.83 140.90,179.03 140.95,175.86 140.99,174.32 141.03,180.51 141.08,175.79 141.12,185.19 141.17,175.80 141.21,183.81 141.25,176.92 141.30,176.72 141.34,180.57 141.38,182.00 141.43,180.31 141.47,180.18 141.51,179.98 141.56,178.08 141.60,175.34 141.64,170.46 141.69,166.51 141.73,162.11 141.78,157.28 141.82,152.21 141.86,147.18 141.91,142.57 141.95,138.81 141.99,136.33 142.04,135.47 142.08,136.38 142.12,138.91 142.17,142.73 142.21,147.39 142.25,152.46 142.30,157.58 142.34,162.47 142.38,166.92 142.43,171.22 142.47,175.98 142.52,177.42 142.56,179.90 142.60,185.16 142.65,184.07 142.69,185.07 142.73,187.90 142.78,183.11 142.82,189.76 142.86,183.35 142.91,187.98 142.95,182.24 142.99,177.79 143.04,181.30 143.08,188.99 143.12,182.91 143.17,186.12 143.21,181.91 143.26,179.20 143.30,188.77 143.34,189.76 143.39,184.99 143.43,184.46 143.47,186.59 143.52,182.01 143.56,182.36 143.60,181.04 143.65,181.16 143.69,184.93 143.73,175.56 143.78,179.09 143.82,183.03 143.86,176.98 143.91,184.25 143.95,188.05 144.00,181.73 144.04,185.37 144.08,186.59 144.13,180.36 144.17,183.67 144.21,181.78 144.26,178.76 144.30,180.88 144.34,176.55 144.39,174.69 144.43,171.46 144.47,169.09 144.52,167.05 144.56,165.38 144.60,164.26 144.65,163.85 144.69,164.20 144.74,165.26 144.78,166.87 144.82,168.84 144.87,171.37 144.91,173.33 144.95,177.09 145.00,179.38 145.04,180.24 145.08,182.04 145.13,184.01 145.17,179.73 145.21,182.92 145.26,179.14 145.30,182.09 145.35,184.54 145.39,179.32 145.43,185.50 145.48,182.24 145.52,179.10 145.56,180.57 145.61,186.49 145.65,183.57 145.69,183.68 145.74,185.60 145.78,186.63 145.82,185.46 145.87,189.76 145.91,182.03 145.95,183.32 146.00,184.55 146.04,185.47 146.09,189.38 146.13,188.55 146.17,179.38 146.22,188.26 146.26,185.11 146.30,187.73 146.35,186.99 146.39,186.37 146.43,184.52 146.48,183.90 146.52,182.10 146.56,180.01 146.61,176.45 146.65,173.70 146.69,169.39 146.74,165.47 146.78,161.23 146.83,156.32 146.87,150.79 146.91,144.70 146.96,138.20 147.00,131.49 147.04,124.83 147.09,118.54 147.13,113.01 147.17,108.64 147.22,105.82 147.26,104.82 147.30,105.74 147.35,108.47 147.39,112.76 147.43,118.20 147.48,124.40 147.52,130.98 147.57,137.61 147.61,144.03 147.65,150.03 147.70,155.48 147.74,160.31 147.78,164.47 147.83,168.18 147.87,172.58 147.91,175.04 147.96,177.51 148.00,177.95 148.04,180.70 148.09,183.57 148.13,184.58 148.18,185.23 148.22,183.79 148.26,186.40 148.31,186.83 148.35,186.68 148.39,185.31 148.44,184.83 148.48,185.95 148.52,187.47 148.57,183.08 148.61,180.90 148.65,176.82 148.70,178.12 148.74,176.20 148.78,177.12 148.83,176.56 148.87,174.26 148.92,172.94 148.96,178.65 149.00,181.56 149.05,174.70 149.09,177.49 149.13,173.75 149.18,176.51 149.22,178.53 149.26,182.14 149.31,179.41 149.35,182.57 149.39,186.59 149.44,188.59 149.48,188.24 149.52,185.94 149.57,179.40 149.61,184.54 149.66,188.11 149.70,188.08 149.74,187.13 149.79,188.31 149.83,186.19 149.87,188.14 149.92,187.71 149.96,181.92 150.00,179.09 150.05,182.26 150.09,186.59 150.13,181.58 150.18,185.66 150.22,175.45 150.26,184.81 150.31,181.84 150.35,185.79 150.40,178.18 150.44,181.76 150.48,184.36 150.53,184.34 150.57,185.11 150.61,184.88 150.66,182.25 150.70,186.61 150.74,185.65 150.79,182.37 150.83,179.33 150.87,181.51 150.92,174.99 150.96,177.30 151.00,176.81 151.05,171.93 151.09,174.74 151.14,169.57 151.18,167.68 151.22,163.96 151.27,161.05 151.31,158.24 151.35,155.73 151.40,153.80 151.44,152.66 151.48,152.48 151.53,153.29 151.57,154.97 151.61,157.30 151.66,160.02 151.70,162.90 151.75,166.29 151.79,170.12 151.83,173.06 151.88,176.67 151.92,179.03 151.96,181.08 152.01,182.83 152.05,183.95 152.09,182.74 152.14,185.38 152.18,175.22 152.22,169.69 152.27,162.52 152.31,156.84 152.35,151.01 152.40,144.97 152.44,138.56 152.49,131.62 152.53,129.88 152.57,127.44 152.62,124.46 152.66,121.34 152.70,118.68 152.75,117.08 152.79,116.97 152.83,118.41 152.88,121.09 152.92,124.44 152.96,127.84 153.01,130.81 153.05,133.11 153.09,134.72 153.14,135.75 153.18,136.39 153.23,136.77 153.27,137.02 153.31,137.21 153.36,137.37 153.40,137.51 153.44,137.65 153.49,137.79 153.53,137.93 153.57,138.07 153.62,138.20 153.66,138.34 153.70,138.48 153.75,138.61 153.79,138.75 153.83,138.65 153.88,138.54 153.92,138.44 153.97,138.33 154.01,138.23 154.05,138.13 154.10,138.02 154.14,137.92 154.18,137.80 154.23,137.65 154.27,137.32 154.31,136.36 154.36,133.59 154.40,126.87 154.44,113.70 154.49,93.54 154.53,70.55 154.58,53.49 154.62,50.63 154.66,63.44 154.71,85.34 154.75,106.97 154.79,122.38 154.84,130.80 154.88,134.39 154.92,135.57 154.97,135.82 155.01,135.80 155.05,135.71 155.10,135.61 155.14,135.50 155.18,135.40 155.23,135.29 155.27,135.18 155.32,135.08 155.36,134.97 155.40,134.87 155.45,134.76 155.49,134.66 155.53,134.55 155.58,134.45 155.62,134.34 155.66,134.23 155.71,134.13 155.75,134.02 155.79,133.92 155.84,133.81 155.88,133.71 155.92,133.60 155.97,133.49 156.01,133.47 156.06,133.45 156.10,133.43 156.14,133.41 156.19,133.39 156.23,133.36 156.27,133.34 156.32,133.32 156.36,133.30 156.40,133.28 156.45,133.26 156.49,133.24 156.53,133.21 156.58,133.19 156.62,133.17 156.66,133.15 156.71,133.13 156.75,133.10 156.80,133.06 156.84,132.96 156.88,132.69 156.93,131.93 156.97,129.97 157.01,125.58 157.06,116.99 157.10,102.52 157.14,81.76 157.19,56.96 157.23,33.37 157.27,17.76 157.32,15.32 157.36,26.90 157.40,48.53 157.45,73.60 157.49,96.06 157.54,112.65 157.58,122.99 157.62,128.50 157.67,130.98 157.71,131.83 157.75,131.80 157.80,131.13 157.84,129.71 157.88,127.22 157.93,123.26 157.97,117.54 158.01,110.02 158.06,101.15 158.10,91.90 158.15,83.66 158.19,77.93 158.23,75.86 158.28,77.89 158.32,83.58 158.36,91.77 158.41,100.98 158.45,109.80 158.49,117.27 158.54,122.95 158.58,126.87 158.62,130.34 158.67,132.77 158.71,134.53 158.75,135.90 158.80,137.06 158.84,138.13 158.89,139.15 158.93,140.16 158.97,141.16 159.02,142.16 159.06,143.16 159.10,144.15 159.15,145.15 159.19,146.15 159.23,147.14 159.28,148.14 159.32,149.07 159.36,149.87 159.41,150.67 159.45,151.47 159.49,152.26 159.54,153.06 159.58,153.86 159.63,154.66 159.67,155.45 159.71,156.25 159.76,157.05 159.80,157.85 159.84,158.64 159.89,159.44 159.93,160.24 159.97,161.04 160.02,161.83 160.06,162.63 160.10,163.43 160.15,164.23 160.19,165.14 160.23,165.98 160.28,166.19 160.32,166.75 160.37,166.00 160.41,168.33 160.45,169.59 160.50,169.91 160.54,168.86 160.58,167.38 160.63,171.81 160.67,174.38 160.71,171.06 160.76,173.20 160.80,173.51 160.84,175.23 160.89,171.55 160.93,173.94 160.98,173.77 161.02,182.41 161.06,175.50 161.11,171.11 161.15,178.33 161.19,179.85 161.24,180.98 161.28,180.62 161.32,182.23 161.37,181.30 161.41,180.04 161.45,186.75 161.50,181.59 161.54,182.16 161.58,181.14 161.63,182.65 161.67,184.64 161.72,179.53 161.76,183.77 161.80,187.60 161.85,185.93 161.89,181.86 161.93,187.01 161.98,177.72 162.02,179.27 162.06,185.48 162.11,185.82 162.15,182.11 162.19,181.49 162.24,178.94 162.28,178.29 162.32,177.85 162.37,185.52 162.41,185.19 162.46,184.26 162.50,183.92 162.54,187.96 162.59,188.13 162.63,183.46 162.67,183.65 162.72,183.16 162.76,178.62 162.80,180.97 162.85,186.17 162.89,184.53 162.93,184.56 162.98,181.43 163.02,185.38 163.06,181.51 163.11,187.79 163.15,177.86 163.20,175.22 163.24,179.74 163.28,173.23 163.33,176.30 163.37,178.06 163.41,176.61 163.46,175.32 163.50,171.37 163.54,173.46 163.59,168.67 163.63,168.80 163.67,172.16 163.72,170.65 163.76,173.16 163.80,170.58 163.85,169.90 163.89,165.32 163.94,174.14 163.98,168.61 164.02,166.51 164.07,167.31 164.11,168.67 164.15,168.51 164.20,174.63 164.24,170.06 164.28,167.34 164.33,169.26 164.37,167.34 164.41,167.98 164.46,176.34 164.50,173.80 164.55,178.72 164.59,173.95 164.63,180.94 164.68,177.32 164.72,178.15 164.76,175.67 164.81,182.20 164.85,181.30 164.89,181.27 164.94,182.61 164.98,186.28 165.02,184.39 165.07,175.77 165.11,178.72 165.15,175.74 165.20,178.79 165.24,177.50 165.29,176.06 165.33,170.28 165.37,168.34 165.42,175.34 165.46,165.90 165.50,169.95 165.55,166.08 165.59,170.26 165.63,173.17 165.68,173.38 165.72,173.91 165.76,164.23 165.81,175.98 165.85,168.92 165.89,173.62 165.94,168.02 165.98,169.77 166.03,170.41 166.07,173.25 166.11,172.63 166.16,170.80 166.20,177.57 166.24,177.05 166.29,177.91 166.33,183.96 166.37,175.11 166.42,176.03 166.46,168.10 166.50,175.21 166.55,174.32 166.59,177.72 166.63,170.55 166.68,170.27 166.72,168.14 166.77,170.23 166.81,168.85 166.85,166.24 166.90,165.17 166.94,163.59 166.98,160.30 167.03,156.80 167.07,153.25 167.11,149.82 167.16,146.76 167.20,144.30 167.24,142.70 167.29,142.14 167.33,142.69 167.38,144.29 167.42,146.75 167.46,149.82 167.51,153.24 167.55,156.79 167.59,160.28 167.64,163.57 167.68,166.28 167.72,168.91 167.77,168.97 167.81,171.83 167.85,167.88 167.90,174.28 167.94,168.79 167.98,173.69 168.03,169.67 168.07,173.90 168.12,175.81 168.16,172.21 168.20,177.13 168.25,173.21 168.29,167.55 168.33,165.02 168.38,173.93 168.42,172.85 168.46,171.90 168.51,175.06 168.55,166.29 168.59,167.57 168.64,172.63 168.68,168.60 168.72,176.23 168.77,165.71 168.81,169.43 168.86,166.13 168.90,166.97 168.94,174.52 168.99,169.31 169.03,168.89 169.07,166.13 169.12,173.53 169.16,170.21 169.20,172.72 169.25,165.92 169.29,169.67 169.33,161.99 169.38,169.75 169.42,175.02 169.46,167.01 169.51,172.01 169.55,173.30 169.60,173.86 169.64,171.43 169.68,176.74 169.73,181.64 169.77,177.20 169.81,175.75 169.86,187.57 169.90,180.60 169.94,185.79 169.99,184.76 170.03,177.91 170.07,179.96 170.12,177.03 170.16,179.84 170.21,187.58 170.25,187.27 170.29,184.74 170.34,182.56 170.38,184.18 170.42,181.70 170.47,173.99 170.51,179.30 170.55,179.96 170.60,185.19 170.64,174.28 170.68,183.61 170.73,173.61 170.77,185.64 170.81,183.09 170.86,175.37 170.90,171.24 170.95,177.76 170.99,176.21 171.03,171.54 171.08,176.00 171.12,171.98 171.16,176.61 171.21,166.51 171.25,171.20 171.29,165.34 171.34,171.39 171.38,168.08 171.42,167.57 171.47,166.81 171.51,167.97 171.55,167.81 171.60,166.91 171.64,173.28 171.69,166.76 171.73,169.67 171.77,166.67 171.82,170.55 171.86,175.88 171.90,166.28 171.95,166.91 171.99,166.71 172.03,172.63 172.08,167.83 172.12,167.42 172.16,168.03 172.21,170.93 172.25,165.44 172.29,166.34 172.34,170.95 172.38,167.54 172.43,165.27 172.47,168.45 172.51,167.14 172.56,163.94 172.60,160.16 172.64,155.75 172.69,150.73 172.73,145.15 172.77,139.13 172.82,132.84 172.86,126.50 172.90,120.42 172.95,114.93 172.99,110.41 173.03,107.24 173.08,105.73 173.12,106.04 173.17,108.13 173.21,111.78 173.25,116.67 173.30,122.40 173.34,128.61 173.38,134.96 173.43,141.18 173.47,147.07 173.51,152.48 173.56,157.30 173.60,161.50 173.64,165.43 173.69,169.72 173.73,173.24 173.78,176.17 173.82,175.77 173.86,179.88 173.91,181.36 173.95,179.78 173.99,179.44 174.04,180.15 174.08,175.93 174.12,182.13 174.17,179.01 174.21,176.48 174.25,181.07 174.30,178.95 174.34,183.45 174.38,181.65 174.43,179.35 174.47,184.62 174.52,183.14 174.56,184.86 174.60,185.39 174.65,180.10 174.69,182.07 174.73,186.75 174.78,186.76 174.82,180.99 174.86,178.82 174.91,187.21 174.95,184.57 174.99,185.33 175.04,187.07 175.08,185.72 175.12,187.34 175.17,183.56 175.21,187.17 175.26,186.94 175.30,184.83 175.34,183.36 175.39,187.36 175.43,186.28 175.47,187.59 175.52,187.43 175.56,187.75 175.60,187.72 175.65,187.29 175.69,187.56 175.73,183.86 175.78,187.54 175.82,187.63 175.86,187.49 175.91,187.43 175.95,187.87 176.00,187.66 176.04,187.74 176.08,187.47 176.13,187.71 176.17,187.55 176.21,187.65 176.26,187.57 176.30,185.35 176.34,187.57 176.39,187.75 176.43,187.11 176.47,187.72 176.52,185.78 176.56,186.74 176.61,185.39 176.65,187.83 176.69,188.05 176.74,187.70 176.78,185.77 176.82,188.01 176.87,188.02 176.91,184.85 176.95,187.52 177.00,187.75 177.04,187.84 177.08,186.06 177.13,187.75 177.17,187.90 177.21,183.13 177.26,181.06 177.30,186.86 177.35,184.54 177.39,184.03 177.43,188.11 177.48,179.69 177.52,180.90 177.56,179.56 177.61,179.94 177.65,184.08 177.69,180.18 177.74,174.87 177.78,181.46 177.82,184.02 177.87,186.88 177.91,175.28 177.95,187.72 178.00,183.10 178.04,179.88 178.09,186.18 178.13,176.10 178.17,179.18 178.22,176.81 178.26,180.72 178.30,185.72 178.35,175.95 178.39,181.88 178.43,184.42 178.48,182.91 178.52,184.12 178.56,181.65 178.61,187.54 178.65,181.05 178.69,183.91 178.74,182.02 178.78,182.98 178.83,179.95 178.87,184.44 178.91,175.85 178.96,176.61 179.00,181.48 179.04,183.12 179.09,185.31 179.13,181.67 179.17,175.43 179.22,184.20 179.26,176.29 179.30,179.48 179.35,178.16 179.39,179.11 179.43,180.95 179.48,179.71 179.52,177.88 179.57,176.94 179.61,175.23 179.65,174.23 179.70,180.31 179.74,176.82 179.78,179.41 179.83,183.18 179.87,178.26 179.91,178.48 179.96,183.78 180.00,175.84 180.04,175.91 180.09,180.22 180.13,181.88 180.18,178.79 180.22,183.07 180.26,188.04 180.31,182.01 180.35,183.26 180.39,185.98 180.44,184.15 180.48,186.56 180.52,185.62 180.57,181.74 180.61,184.01 180.65,187.93 180.70,187.89 180.74,181.94 180.78,188.26 180.83,188.00 180.87,188.13 180.92,188.05 180.96,182.74 181.00,180.95 181.05,187.86 181.09,184.02 181.13,184.54 181.18,187.95 181.22,188.14 181.26,179.84 181.31,185.42 181.35,187.79 181.39,187.81 181.44,187.97 181.48,188.05 181.52,184.20 181.57,184.61 181.61,186.26 181.66,187.64 181.70,188.09 181.74,188.23 181.79,183.91 181.83,187.91 181.87,187.95 181.92,188.06 181.96,187.78 182.00,188.18 182.05,187.56 182.09,185.28 182.13,188.01 182.18,188.08 182.22,187.96 182.26,187.85 182.31,187.73 182.35,188.15 182.40,183.20 182.44,187.97 182.48,188.21 182.53,186.82 182.57,181.69 182.61,185.05 182.66,184.02 182.70,186.49 182.74,178.88 182.79,185.89 182.83,178.84 182.87,183.43 182.92,179.13 182.96,178.44 183.01,179.26 183.05,186.66 183.09,188.00 183.14,184.27 183.18,184.64 183.22,179.45 183.27,182.04 183.31,180.53 183.35,184.56 183.40,186.11 183.44,182.08 183.48,179.33 183.53,182.81 183.57,186.94 183.61,180.20 183.66,183.65 183.70,186.71 183.75,181.78 183.79,183.35 183.83,181.58 183.88,174.18 183.92,173.82 183.96,181.81 184.01,177.94 184.05,184.51 184.09,187.69 184.14,179.88 184.18,177.43 184.22,184.03 184.27,178.22 184.31,180.20 184.35,185.22 184.40,182.08 184.44,182.27 184.49,183.16 184.53,177.52 184.57,179.95 184.62,180.49 184.66,185.75 184.70,188.01 184.75,187.53 184.79,181.13 184.83,182.83 184.88,187.56 184.92,187.77 184.96,187.83 185.01,187.87 185.05,187.79 185.09,187.81 185.14,184.63 185.18,187.75 185.23,187.52 185.27,187.66 185.31,182.86 185.36,187.73 185.40,187.72 185.44,187.36 185.49,187.48 185.53,178.20 185.57,172.07 185.62,180.53 185.66,179.22 185.70,172.97 185.75,179.76 185.79,177.30 185.83,179.74 185.88,175.50 185.92,163.41 185.97,172.90 186.01,174.11 186.05,174.59 186.10,176.24 186.14,169.07 186.18,174.76 186.23,174.35 186.27,175.74 186.31,174.98 186.36,177.29 186.40,185.15 186.44,178.01 186.49,181.63 186.53,179.39 186.58,184.20 186.62,187.11 186.66,183.09 186.71,185.81 186.75,186.55 186.79,180.37 186.84,183.14 186.88,187.19 186.92,182.09 186.97,185.90 187.01,181.16 187.05,182.02 187.10,180.50 187.14,186.78 187.18,185.30 187.23,184.35 187.27,186.77 187.32,186.76 187.36,186.73 187.40,182.89 187.45,185.73 187.49,181.56 187.53,185.75 187.58,186.88 187.62,179.41 187.66,187.07 187.71,179.75 187.75,186.77 187.79,185.45 187.84,181.35 187.88,183.42 187.92,186.63 187.97,183.88 188.01,186.84 188.06,186.77 188.10,185.82 188.14,186.55 188.19,186.56 188.23,182.49 188.27,182.45 188.32,185.70 188.36,178.56 188.40,177.91 188.45,171.34 188.49,180.70 188.53,177.87 188.58,170.86 188.62,166.46 188.66,171.14 188.71,165.48 188.75,166.22 188.80,165.35 188.84,162.83 188.88,173.38 188.93,170.44 188.97,163.02 189.01,162.89 189.06,155.15 189.10,167.39 189.14,163.17 189.19,168.22 189.23,163.87 189.27,170.26 189.32,179.70 189.36,177.23 189.41,175.91 189.45,175.35 189.49,185.63 189.54,175.12 189.58,179.48 189.62,182.41 189.67,185.77 189.71,185.89 189.75,185.38 189.80,178.89 189.84,185.61 189.88,183.33 189.93,181.82 189.97,185.42 190.01,185.35 190.06,185.26 190.10,178.52 190.15,185.48 190.19,185.36 190.23,184.02 190.28,183.28 190.32,183.51 190.36,184.98 190.41,181.77 190.45,180.37 190.49,176.65 190.54,185.11 190.58,184.91 190.62,180.88 190.67,184.97 190.71,180.74 190.75,185.22 190.80,177.94 190.84,175.62 190.89,183.62 190.93,174.24 190.97,170.95 191.02,170.65 191.06,173.20 191.10,170.42 191.15,169.64 191.19,173.84 191.23,170.66 191.28,167.08 191.32,162.87 191.36,174.12 191.41,178.56 191.45,165.76 191.49,161.85 191.54,179.56 191.58,171.74 191.63,165.40 191.67,162.04 191.71,174.19 191.76,164.57 191.80,169.73 191.84,168.97 191.89,183.49 191.93,184.28 191.97,179.87 192.02,184.28 192.06,175.31 192.10,183.95 192.15,179.96 192.19,184.16 192.23,178.09 192.28,184.26 192.32,184.11 192.37,178.35 192.41,181.24 192.45,184.20 192.50,184.22 192.54,183.52 192.58,175.33 192.63,183.82 192.67,183.78 192.71,183.97 192.76,183.65 192.80,180.90 192.84,183.71 192.89,178.90 192.93,179.86 192.98,176.88 193.02,180.46 193.06,178.84 193.11,165.64 193.15,170.15 193.19,171.79 193.24,162.06 193.28,161.89 193.32,166.11 193.37,160.81 193.41,160.89 193.45,167.13 193.50,162.58 193.54,157.05 193.58,165.01 193.63,163.46 193.67,161.26 193.72,154.49 193.76,161.33 193.80,157.08 193.85,153.67 193.89,152.88 193.93,164.10 193.98,157.36 194.02,159.67 194.06,158.39 194.11,154.83 194.15,151.82 194.19,158.66 194.24,164.51 194.28,171.46 194.32,168.14 194.37,160.19 194.41,162.73 194.46,163.57 194.50,175.04 194.54,152.13 194.59,169.37 194.63,175.48 194.67,163.81 194.72,178.14 194.76,161.34 194.80,167.73 194.85,175.42 194.89,177.24 194.93,168.34 194.98,170.73 195.02,170.57 195.06,166.83 195.11,175.87 195.15,168.36 195.20,163.91 195.24,167.51 195.28,167.30 195.33,172.34 195.37,165.11 195.41,171.32 195.46,176.91 195.50,156.15 195.54,174.76 195.59,169.31 195.63,167.28 195.67,175.27 195.72,167.37 195.76,168.58 195.81,167.77 195.85,162.41 195.89,182.31 195.94,168.91 195.98,170.82 196.02,177.58 196.07,178.77 196.11,183.56 196.15,178.47 196.20,184.06 196.24,183.92 196.28,183.90 196.33,183.61 196.37,183.94 196.41,183.71 196.46,183.91 196.50,183.77 196.55,178.35 196.59,181.86 196.63,184.06 196.68,184.18 196.72,184.28 196.76,183.93 196.81,184.07 196.85,183.88 196.89,183.97 196.94,183.53 196.98,184.20 197.02,170.59 197.07,182.50 197.11,175.09 197.15,173.42 197.20,179.38 197.24,180.19 197.29,177.74 197.33,184.16 197.37,175.23 197.42,164.19 197.46,176.69 197.50,176.91 197.55,181.84 197.59,176.26 197.63,180.44 197.68,178.38 197.72,175.24 197.76,178.31 197.81,172.21 197.85,174.92 197.89,184.44 197.94,175.91 197.98,168.10 198.03,177.03 198.07,170.22 198.11,163.30 198.16,177.25 198.20,177.40 198.24,168.01 198.29,161.18 198.33,179.56 198.37,167.25 198.42,172.38 198.46,169.56 198.50,174.91 198.55,176.34 198.59,166.76 198.63,161.37 198.68,163.78 198.72,164.28 198.77,171.72 198.81,176.51 198.85,164.05 198.90,171.69 198.94,166.66 198.98,161.37 199.03,168.50 199.07,175.87 199.11,175.59 199.16,172.99 199.20,173.70 199.24,184.07 199.29,181.62 199.33,182.70 199.38,180.83 199.42,176.78 199.46,182.62 199.51,180.93 199.55,185.46 199.59,185.90 199.64,186.02 199.68,185.65 199.72,185.74 199.77,185.90 199.81,186.02 199.85,185.87 199.90,186.09 199.94,185.98 199.98,185.87 200.03,185.80 200.07,185.98 200.12,186.30 200.16,186.26 200.20,185.89 200.25,186.22 200.29,186.25 200.33,186.03 200.38,186.04 200.42,186.18 200.46,186.31 200.51,186.46 200.55,186.39 200.59,186.19 200.64,186.13 200.68,186.54 200.72,186.53 200.77,186.69 200.81,186.59 200.86,186.73 200.90,186.42 200.94,186.76 200.99,186.47 201.03,186.53 201.07,186.63 201.12,186.74 201.16,186.45 201.20,186.50 201.25,186.49 201.29,186.85 201.33,185.75 201.38,186.71 201.42,186.88 201.46,184.35 201.51,186.63 201.55,187.01 201.60,187.10 201.64,186.82 201.68,180.24 201.73,186.70 201.77,183.31 201.81,186.85 201.86,180.98 201.90,184.13 201.94,186.92 201.99,181.36 202.03,182.45 202.07,184.34 202.12,181.04 202.16,184.03 202.21,184.14 202.25,181.68 202.29,183.88 202.34,186.95 202.38,186.93 202.42,187.08 202.47,180.55 202.51,175.26 202.55,179.31 202.60,187.06 202.64,187.19 202.68,187.18 202.73,187.09 202.77,184.88 202.81,187.00 202.86,184.22 202.90,180.28 202.95,185.94 202.99,184.38 203.03,186.29 203.08,187.32 203.12,187.21 203.16,181.82 203.21,179.02 203.25,183.08 203.29,180.85 203.34,187.43 203.38,179.49 203.42,179.12 203.47,187.53 203.51,184.93 203.55,181.30 203.60,182.44 203.64,181.12 203.69,187.78 203.73,180.97 203.77,187.55 203.82,182.13 203.86,187.70 203.90,186.12 203.95,187.43 203.99,187.44 204.03,187.80 204.08,187.94 204.12,187.95 204.16,187.49 204.21,187.49 204.25,188.00 204.29,187.65 204.34,187.89 204.38,187.91 204.43,187.92 204.47,187.65 204.51,188.01 204.56,187.67 204.60,187.59 204.64,188.03 204.69,188.04 204.73,187.97 204.77,187.92 204.82,188.05 204.86,186.41 204.90,182.51 204.95,187.64 204.99,188.09 205.04,185.42 205.08,179.46 205.12,187.77 205.17,184.69 205.21,187.66 205.25,177.50 205.30,180.47 205.34,187.86 205.38,181.38 205.43,186.12 205.47,182.04 205.51,187.20 205.56,185.11 205.60,183.74 205.64,177.29 205.69,180.82 205.73,184.56 205.78,185.10 205.82,182.66 205.86,186.59 205.91,186.17 205.95,178.86 205.99,170.41 206.04,176.36 206.08,169.65 206.12,176.63 206.17,179.18 206.21,174.48 206.25,172.72 206.30,171.58 206.34,176.14 206.38,176.15 206.43,180.40 206.47,185.35 206.52,175.89 206.56,170.46 206.60,175.57 206.65,177.05 206.69,180.28 206.73,179.85 206.78,186.17 206.82,181.92 206.86,182.58 206.91,181.56 206.95,177.33 206.99,177.28 207.04,179.19 207.08,174.33 207.12,184.33 207.17,174.40 207.21,177.79 207.26,176.92 207.30,179.32 207.34,176.74 207.39,181.96 207.43,177.62 207.47,181.02 207.52,187.91 207.56,179.78 207.60,180.38 207.65,186.66 207.69,187.97 207.73,184.93 207.78,178.81 207.82,185.14 207.86,183.75 207.91,187.92 207.95,181.19 208.00,188.11 208.04,185.51 208.08,182.00 208.13,178.66 208.17,184.62 208.21,182.06 208.26,187.90 208.30,179.38 208.34,188.06 208.39,181.13 208.43,187.12 208.47,173.66 208.52,171.53 208.56,176.38 208.61,177.58 208.65,182.64 208.69,176.01 208.74,178.28 208.78,168.92 208.82,176.45 208.87,174.27 208.91,169.84 208.95,171.58 209.00,176.85 209.04,179.12 209.08,173.03 209.13,176.43 209.17,183.90 209.21,172.43 209.26,172.93 209.30,175.61 209.35,175.48 209.39,168.40 209.43,173.45 209.48,173.35 209.52,169.81 209.56,166.89 209.61,172.17 209.65,167.81 209.69,166.41 209.74,175.54 209.78,170.12 209.82,171.94 209.87,168.61 209.91,174.27 209.95,170.40 210.00,176.21 210.04,177.72 210.09,176.85 210.13,176.80 210.17,181.07 210.22,182.58 210.26,185.63 210.30,184.76 210.35,182.02 210.39,188.26 210.43,185.31 210.48,187.56 210.52,187.95 210.56,185.26 210.61,188.13 210.65,186.02 210.69,184.63 210.74,183.98 210.78,186.74 210.83,181.19 210.87,177.61 210.91,186.05 210.96,185.71 211.00,180.88 211.04,178.23 211.09,175.06 211.13,175.91 211.17,178.18 211.22,178.90 211.26,176.42 211.30,174.70 211.35,172.26 211.39,172.83 211.44,166.06 211.48,163.69 211.52,171.60 211.57,170.99 211.61,166.33 211.65,165.55 211.70,163.01 211.74,167.15 211.78,168.19 211.83,165.00 211.87,166.03 211.91,169.28 211.96,171.53 212.00,172.22 212.04,163.94 212.09,170.19 212.13,161.22 212.18,173.47 212.22,172.77 212.26,168.81 212.31,168.22 212.35,167.07 212.39,174.59 212.44,170.51 212.48,175.76 212.52,161.67 212.57,163.14 212.61,170.28 212.65,168.48 212.70,170.92 212.74,166.98 212.78,173.65 212.83,170.20 212.87,172.38 212.92,166.28 212.96,160.40 213.00,166.82 213.05,170.40 213.09,166.38 213.13,166.78 213.18,165.93 213.22,175.27 213.26,168.22 213.31,168.90 213.35,168.34 213.39,160.81 213.44,171.10 213.48,174.20 213.52,167.09 213.57,167.74 213.61,175.18 213.66,174.82 213.70,176.04 213.74,167.11 213.79,174.76 213.83,176.22 213.87,182.78 213.92,182.15 213.96,180.35 214.00,179.08 214.05,184.77 214.09,187.29 214.13,187.63 214.18,187.58 214.22,187.63 214.26,187.13 214.31,187.38 214.35,187.37 214.40,187.19 214.44,187.00 214.48,187.34 214.53,187.28 214.57,187.14 214.61,187.22 214.66,187.06 214.70,186.87 214.74,186.52 214.79,186.47 214.83,186.38 214.87,185.64 214.92,185.22 214.96,183.76 215.01,186.37 215.05,185.75 215.09,185.77 215.14,181.19 215.18,180.82 215.22,185.16 215.27,184.43 215.31,178.11 215.35,181.40 215.40,178.94 215.44,177.94 215.48,178.95 215.53,178.00 215.57,174.07 215.61,170.45 215.66,170.46 215.70,165.45 215.75,161.61 215.79,157.11 215.83,151.95 215.88,146.21 215.92,140.04 215.96,133.67 216.01,127.41 216.05,121.65 216.09,116.83 216.14,113.40 216.18,111.75 216.22,112.09 216.27,114.36 216.31,118.30 216.35,123.49 216.40,129.46 216.44,135.79 216.49,142.13 216.53,148.17 216.57,153.74 216.62,158.68 216.66,162.95 216.70,167.00 216.75,168.48 216.79,173.43 216.83,171.15 216.88,179.16 216.92,174.41 216.96,181.34 217.01,175.13 217.05,177.84 217.09,174.55 217.14,176.43 217.18,181.33 217.23,182.01 217.27,182.38 217.31,176.80 217.36,181.46 217.40,180.84 217.44,185.12 217.49,184.80 217.53,181.18 217.57,186.63 217.62,181.45 217.66,183.98 217.70,186.93 217.75,186.94 217.79,186.83 217.84,187.05 217.88,187.31 217.92,186.88 217.97,187.39 218.01,187.30 218.05,187.28 218.10,187.53 218.14,187.49 218.18,187.29 218.23,187.35 218.27,187.63 218.31,187.24 218.36,187.69 218.40,187.61 218.44,186.23 218.49,187.48 218.53,187.01 218.58,181.99 218.62,187.58 218.66,185.00 218.71,177.65 218.75,183.40 218.79,180.83 218.84,183.70 218.88,176.46 218.92,179.10 218.97,173.82 219.01,177.45 219.05,178.67 219.10,180.56 219.14,181.35 219.18,176.32 219.23,182.34 219.27,178.15 219.32,179.44 219.36,178.58 219.40,176.09 219.45,184.20 219.49,186.60 219.53,180.50 219.58,183.59 219.62,180.49 219.66,182.50 219.71,180.47 219.75,183.86 219.79,183.13 219.84,181.44 219.88,180.96 219.92,170.31 219.97,178.76 220.01,183.55 220.06,175.27 220.10,177.23 220.14,173.93 220.19,171.12 220.23,177.01 220.27,169.97 220.32,175.62 220.36,167.81 220.40,176.16 220.45,168.99 220.49,169.66 220.53,170.49 220.58,170.93 220.62,168.93 220.66,170.54 220.71,163.07 220.75,169.12 220.80,172.07 220.84,174.17 220.88,178.87 220.93,168.52 220.97,169.57 221.01,173.44 221.06,175.68 221.10,174.50 221.14,172.65 221.19,172.67 221.23,180.54 221.27,179.63 221.32,185.95 221.36,181.75 221.41,176.24 221.45,178.56 221.49,181.82 221.54,181.84 221.58,185.39 221.62,186.14 221.67,176.70 221.71,186.32 221.75,183.26 221.80,180.88 221.84,180.29 221.88,183.28 221.93,178.25 221.97,177.11 222.01,172.71 222.06,175.12 222.10,171.80 222.15,166.52 222.19,165.33 222.23,162.59 222.28,160.05 222.32,157.79 222.36,156.04 222.41,155.01 222.45,154.86 222.49,155.61 222.54,157.14 222.58,159.26 222.62,161.73 222.67,164.28 222.71,164.74 222.75,165.49 222.80,168.47 222.84,169.53 222.89,167.50 222.93,167.49 222.97,176.49 223.02,171.70 223.06,163.94 223.10,172.35 223.15,173.52 223.19,175.10 223.23,174.44 223.28,174.70 223.32,176.83 223.36,177.50 223.41,183.59 223.45,178.22 223.49,179.04 223.54,179.33 223.58,180.48 223.63,185.92 223.67,181.67 223.71,187.56 223.76,187.64 223.80,187.64 223.84,187.55 223.89,184.35 223.93,185.78 223.97,187.96 224.02,183.83 224.06,183.42 224.10,188.04 224.15,187.60 224.19,187.88 224.24,181.91 224.28,188.04 224.32,182.95 224.37,187.64 224.41,181.09 224.45,175.64 224.50,184.81 224.54,177.87 224.58,184.35 224.63,179.71 224.67,180.76 224.71,178.42 224.76,176.09 224.80,176.32 224.84,181.40 224.89,181.15 224.93,182.28 224.98,177.31 225.02,177.97 225.06,182.72 225.11,179.87 225.15,180.20 225.19,182.20 225.24,185.19 225.28,183.05 225.32,182.93 225.37,185.78 225.41,187.92 225.45,185.04 225.50,187.94 225.54,188.12 225.58,188.04 225.63,188.28 225.67,187.80 225.72,187.95 225.76,188.12 225.80,187.90 225.85,188.01 225.89,187.92 225.93,187.85 225.98,188.27 226.02,187.87 226.06,188.12 226.11,188.02 226.15,187.86 226.19,187.96 226.24,188.23 226.28,188.14 226.32,187.86 226.37,188.18 226.41,187.89 226.46,188.31 226.50,188.09 226.54,188.05 226.59,187.98 226.63,187.89 226.67,188.18 226.72,188.21 226.76,184.22 226.80,188.12 226.85,188.17 226.89,181.13 226.93,188.19 226.98,183.59 227.02,187.89 227.06,183.97 227.11,187.76 227.15,184.55 227.20,185.44 227.24,181.50 227.28,178.29 227.33,176.42 227.37,180.41 227.41,182.63 227.46,185.39 227.50,178.59 227.54,182.72 227.59,173.36 227.63,176.76 227.67,179.35 227.72,180.14 227.76,180.43 227.81,170.14 227.85,171.97 227.89,174.00 227.94,175.74 227.98,171.40 228.02,170.87 228.07,174.30 228.11,173.13 228.15,172.79 228.20,174.69 228.24,173.40 228.28,169.90 228.33,175.20 228.37,170.38 228.41,168.76 228.46,182.36 228.50,171.97 228.55,177.71 228.59,184.41 228.63,181.14 228.68,177.45 228.72,179.49 228.76,180.32 228.81,183.21 228.85,181.67 228.89,183.80 228.94,183.54 228.98,188.34 229.02,177.50 229.07,184.01 229.11,187.93 229.15,188.29 229.20,188.31 229.24,181.22 229.29,188.26 229.33,187.53 229.37,181.41 229.42,187.50 229.46,188.16 229.50,188.27 229.55,188.07 229.59,188.32 229.63,185.73 229.68,185.85 229.72,188.22 229.76,187.98 229.81,188.06 229.85,188.40 229.89,188.33 229.94,188.24 229.98,188.16 230.03,187.95 230.07,187.99 230.11,188.18 230.16,188.33 230.20,187.95 230.24,188.20 230.29,188.33 230.33,188.14 230.37,188.34 230.42,188.27 230.46,188.11 230.50,188.24 230.55,188.23 230.59,188.08 230.64,188.33 230.68,188.25 230.72,187.89 230.77,187.70 230.81,186.19 230.85,188.17 230.90,187.77 230.94,187.99 230.98,188.16 231.03,184.08 231.07,188.37 231.11,183.14 231.16,185.93 231.20,176.53 231.24,186.94 231.29,186.51 231.33,187.09 231.38,183.35 231.42,177.88 231.46,184.84 231.51,182.00 231.55,181.92 231.59,179.40 231.64,179.64 231.68,180.53 231.72,181.69 231.77,171.77 231.81,178.53 231.85,178.26 231.90,171.98 231.94,172.69 231.98,179.96 232.03,173.44 232.07,177.62 232.12,177.71 232.16,177.44 232.20,184.73 232.25,180.19 232.29,181.85 232.33,180.19 232.38,184.66 232.42,186.02 232.46,185.89 232.51,182.63 232.55,180.55 232.59,188.18 232.64,183.56 232.68,179.77 232.72,187.96 232.77,180.73 232.81,186.25 232.86,184.84 232.90,178.30 232.94,175.97 232.99,173.20 233.03,175.34 233.07,174.88 233.12,177.27 233.16,173.78 233.20,171.52 233.25,174.58 233.29,175.13 233.33,169.13 233.38,173.81 233.42,179.62 233.46,173.78 233.51,177.16 233.55,173.46 233.60,180.76 233.64,183.58 233.68,177.29 233.73,176.23 233.77,186.24 233.81,170.76 233.86,178.79 233.90,181.88 233.94,175.75 233.99,179.72 234.03,178.49 234.07,177.83 234.12,171.28 234.16,177.14 234.21,174.76 234.25,175.34 234.29,174.30 234.34,173.85 234.38,172.93 234.42,174.69 234.47,170.48 234.51,169.04 234.55,170.92 234.60,174.73 234.64,175.78 234.68,173.36 234.73,174.45 234.77,172.27 234.81,170.14 234.86,173.65 234.90,167.81 234.95,176.84 234.99,174.82 235.03,168.39 235.08,167.62 235.12,174.87 235.16,177.44 235.21,167.26 235.25,172.40 235.29,176.25 235.34,173.82 235.38,163.95 235.42,173.82 235.47,170.73 235.51,176.40 235.55,172.91 235.60,170.89 235.64,173.37 235.69,174.20 235.73,176.57 235.77,174.67 235.82,184.91 235.86,178.38 235.90,174.55 235.95,175.30 235.99,177.36 236.03,171.99 236.08,176.78 236.12,165.44 236.16,167.88 236.21,165.35 236.25,167.08 236.29,171.49 236.34,178.77 236.38,165.16 236.43,167.95 236.47,171.48 236.51,170.44 236.56,172.05 236.60,165.82 236.64,173.76 236.69,165.31 236.73,167.26 236.77,166.61 236.82,172.27 236.86,169.03 236.90,172.53 236.95,171.46 236.99,177.02 237.04,175.78 237.08,177.06 237.12,174.94 237.17,182.16 237.21,186.84 237.25,182.71 237.30,184.68 237.34,184.48 237.38,181.82 237.43,187.14 237.47,184.89 237.51,187.82 237.56,186.72 237.60,184.86 237.64,187.07 237.69,181.90 237.73,183.45 237.78,183.83 237.82,188.28 237.86,185.96 237.91,182.41 237.95,179.38 237.99,188.00 238.04,185.80 238.08,187.59 238.12,187.96 238.17,183.55 238.21,188.17 238.25,187.95 238.30,185.59 238.34,188.31 238.38,188.38 238.43,188.39 238.47,188.14 238.52,188.00 238.56,188.04 238.60,188.36 238.65,187.67 238.69,187.95 238.73,187.62 238.78,188.18 238.82,188.03 238.86,188.13 238.91,182.31 238.95,188.27 238.99,183.32 239.04,182.32 239.08,183.89 239.12,182.60 239.17,179.01 239.21,182.59 239.26,183.20 239.30,180.18 239.34,183.35 239.39,183.56 239.43,177.34 239.47,176.96 239.52,179.61 239.56,182.56 239.60,185.19 239.65,182.72 239.69,182.68 239.73,182.59 239.78,178.04 239.82,180.02 239.87,178.73 239.91,182.47 239.95,183.85 240.00,182.47 240.04,181.22 240.08,179.68 240.13,178.39 240.17,176.54 240.21,172.67 240.26,181.49 240.30,177.40 240.34,171.17 240.39,179.81 240.43,180.58 240.47,177.85 240.52,184.64 240.56,185.68 240.61,183.39 240.65,179.58 240.69,185.18 240.74,184.73 240.78,181.01 240.82,176.53 240.87,183.22 240.91,184.27 240.95,182.01 241.00,185.93 241.04,184.27 241.08,177.82 241.13,181.87 241.17,187.00 241.21,187.53 241.26,181.35 241.30,188.69 241.35,180.78 241.39,182.93 241.43,183.34 241.48,186.82 241.52,177.06 241.56,187.94 241.61,180.38 241.65,181.54 241.69,178.49 241.74,185.92 241.78,182.50 241.82,185.03 241.87,181.96 241.91,179.11 241.95,176.96 242.00,180.76 242.04,170.37 242.09,183.99 242.13,179.00 242.17,181.12 242.22,174.65 242.26,177.58 242.30,172.70 242.35,178.06 242.39,175.12 242.43,166.25 242.48,169.83 242.52,171.76 242.56,171.18 242.61,167.31 242.65,170.58 242.69,175.53 242.74,176.35 242.78,170.31 242.83,175.36 242.87,174.70 242.91,178.23 242.96,172.01 243.00,182.55 243.04,177.42 243.09,182.67 243.13,176.87 243.17,181.67 243.22,181.03 243.26,178.69 243.30,182.49 243.35,178.61 243.39,189.76 243.44,184.67 243.48,179.87 243.52,182.92 243.57,180.96 243.61,175.46 243.65,188.16 243.70,182.34 243.74,189.76 243.78,181.31 243.83,185.65 243.87,181.67 243.91,180.65 243.96,181.12 244.00,187.17 244.04,176.49 244.09,186.21 244.13,184.77 244.18,186.62 244.22,184.65 244.26,182.29 244.31,179.84 244.35,182.36 244.39,186.02 244.44,180.31 244.48,182.01 244.52,177.02 244.57,183.67 244.61,178.31 244.65,181.91 244.70,177.94 244.74,180.51 244.78,171.16 244.83,176.94 244.87,185.20 244.92,173.80 244.96,180.50 245.00,177.99 245.05,182.60 245.09,178.22 245.13,179.86 245.18,183.72 245.22,179.35 245.26,179.70 245.31,180.04 245.35,185.87 245.39,186.63 245.44,184.12 245.48,181.41 245.52,189.74 245.57,185.20 245.61,189.76 245.66,183.37 245.70,186.63 245.74,189.76 245.79,185.05 245.83,189.76 245.87,189.76 245.92,189.76 245.96,189.76 246.00,187.39 246.05,189.76 246.09,189.76 246.13,189.76 246.18,189.76 246.22,189.76 246.27,189.76 246.31,189.76 246.35,189.76 246.40,189.76 246.44,187.64 246.48,187.42 246.53,187.85 246.57,189.76 246.61,187.32 246.66,188.78 246.70,187.84 246.74,187.43 246.79,188.64 246.83,181.72 246.87,187.27 246.92,186.17 246.96,185.97 247.01,187.46 247.05,187.13 247.09,189.19 247.14,189.71 247.18,189.76 247.22,189.76 247.27,189.76 247.31,189.04 247.35,188.58 247.40,189.76 247.44,186.45 247.48,185.39 247.53,189.59 247.57,179.80 247.61,187.57 247.66,181.46 247.70,187.86 247.75,188.21 247.79,189.76 247.83,187.22 247.88,186.99 247.92,189.76 247.96,184.00 248.01,186.57 248.05,187.63 248.09,189.76 248.14,189.71 248.18,189.76 248.22,184.57 248.27,189.76 248.31,189.76 248.35,189.76 248.40,189.76 248.44,189.76 248.49,189.76 248.53,189.76 248.57,189.76 248.62,189.76 248.66,189.76 248.70,189.76 248.75,189.76 248.79,189.76 248.83,189.76 248.88,189.76 248.92,189.76 248.96,189.76 249.01,189.76 249.05,189.76 249.09,189.76 249.14,189.76 249.18,189.76 249.23,189.76 249.27,189.76 249.31,189.76 249.36,189.76 249.40,189.76 249.44,189.76 249.49,186.36 249.53,187.18 249.57,189.74 249.62,184.66 249.66,179.64 249.70,179.18 249.75,173.19 249.79,179.68 249.84,170.97 249.88,174.67 249.92,178.07 249.97,164.37 250.01,166.01 250.05,168.43 250.10,167.09 250.14,170.71 250.18,169.18 250.23,159.76 250.27,172.58 250.31,164.80 250.36,170.97 250.40,168.69 250.44,166.87 250.49,164.84 250.53,171.16 250.58,176.16 250.62,169.32 250.66,176.25 250.71,170.82 250.75,179.67 250.79,178.97 250.84,174.91 250.88,180.15 250.92,189.76 250.97,178.56 251.01,181.79 251.05,185.17 251.10,189.76 251.14,189.76 251.18,186.68 251.23,188.86 251.27,189.76 251.32,189.49 251.36,187.86 251.40,186.08 251.45,189.76 251.49,189.76 251.53,189.76 251.58,189.76 251.62,189.76 251.66,187.72 251.71,189.76 251.75,189.76 251.79,189.76 251.84,189.76 251.88,189.76 251.92,189.76 251.97,189.76 252.01,189.76 252.06,189.76 252.10,188.66 252.14,189.76 252.19,185.77 252.23,189.76 252.27,188.58 252.32,185.97 252.36,184.36 252.40,187.49 252.45,179.93 252.49,188.65 252.53,177.08 252.58,175.01 252.62,177.60 252.67,183.06 252.71,186.24 252.75,186.86 252.80,176.63 252.84,178.93 252.88,179.75 252.93,185.08 252.97,178.33 253.01,173.08 253.06,189.48 253.10,183.44 253.14,186.03 253.19,186.21 253.23,182.80 253.27,180.64 253.32,180.54 253.36,185.26 253.41,176.88 253.45,183.40 253.49,182.66 253.54,177.84 253.58,183.45 253.62,180.32 253.67,184.92 253.71,180.20 253.75,171.75 253.80,173.32 253.84,178.20 253.88,179.59 253.93,176.45 253.97,173.34 254.01,162.93 254.06,179.88 254.10,174.02 254.15,173.77 254.19,179.15 254.23,172.53 254.28,172.80 254.32,170.99 254.36,171.68 254.41,176.70 254.45,171.34 254.49,166.86 254.54,169.62 254.58,162.85 254.62,173.54 254.67,167.86 254.71,171.78 254.75,166.45 254.80,172.03 254.84,166.69 254.89,170.21 254.93,169.31 254.97,179.76 255.02,171.65 255.06,172.41 255.10,173.57 255.15,175.05 255.19,171.57 255.23,181.00 255.28,178.58 255.32,174.36 255.36,174.59 255.41,175.36 255.45,184.61 255.49,183.64 255.54,181.59 255.58,185.26 255.63,188.55 255.67,185.70 255.71,188.18 255.76,187.98 255.80,185.42 255.84,188.08 255.89,188.53 255.93,188.29 255.97,188.39 256.02,188.20 256.06,188.03 256.10,188.50 256.15,188.16 256.19,185.46 256.24,187.09 256.28,181.57 256.32,188.18 256.37,187.87 256.41,181.16 256.45,185.25 256.50,180.85 256.54,184.25 256.58,183.51 256.63,177.18 256.67,180.16 256.71,176.20 256.76,174.15 256.80,177.97 256.84,187.10 256.89,187.47 256.93,176.99 256.98,177.95 257.02,178.54 257.06,176.38 257.11,181.07 257.15,179.66 257.19,186.05 257.24,172.12 257.28,176.98 257.32,173.07 257.37,176.83 257.41,180.47 257.45,172.38 257.50,181.80 257.54,176.50 257.58,179.07 257.63,180.38 257.67,183.90 257.72,184.17 257.76,180.53 257.80,176.31 257.85,178.08 257.89,184.66 257.93,188.08 257.98,179.81 258.02,185.63 258.06,184.89 258.11,188.29 258.15,182.56 258.19,181.54 258.24,181.90 258.28,188.35 258.32,187.95 258.37,184.48 258.41,188.09 258.46,187.93 258.50,185.71 258.54,186.70 258.59,188.29 258.63,185.88 258.67,188.21 258.72,186.11 258.76,188.41 258.80,188.32 258.85,181.33 258.89,187.43 258.93,184.21 258.98,179.61 259.02,181.65 259.07,185.34 259.11,186.69 259.15,177.18 259.20,175.16 259.24,174.12 259.28,183.70 259.33,178.86 259.37,179.95 259.41,176.08 259.46,181.32 259.50,179.51 259.54,183.26 259.59,178.82 259.63,176.48 259.67,180.71 259.72,184.66 259.76,185.96 259.81,175.75 259.85,174.96 259.89,179.54 259.94,179.49 259.98,187.91 260.02,179.29 260.07,176.08 260.11,174.87 260.15,176.87 260.20,180.16 260.24,174.07 260.28,176.16 260.33,182.54 260.37,180.60 260.41,180.53 260.46,173.68 260.50,177.09 260.55,174.83 260.59,178.50 260.63,183.66 260.68,181.62 260.72,172.90 260.76,172.21 260.81,178.77 260.85,174.09 260.89,177.43 260.94,182.12 260.98,173.78 261.02,186.10 261.07,179.33 261.11,170.18 261.15,183.56 261.20,178.47 261.24,176.69 261.29,175.47 261.33,179.92 261.37,177.29 261.42,171.75 261.46,176.43 261.50,171.88 261.55,177.37 261.59,179.04 261.63,172.82 261.68,175.05 261.72,168.71 261.76,173.41 261.81,174.10 261.85,181.91 261.89,173.96 261.94,176.28 261.98,174.38 262.03,174.47 262.07,177.39 262.11,179.77 262.16,179.63 262.20,184.25 262.24,180.63 262.29,186.48 262.33,187.89 262.37,182.17 262.42,186.66 262.46,182.77 262.50,186.90 262.55,181.12 262.59,180.20 262.64,177.24 262.68,184.38 262.72,183.82 262.77,172.24 262.81,174.39 262.85,182.53 262.90,181.04 262.94,172.45 262.98,179.24 263.03,172.04 263.07,172.00 263.11,169.55 263.16,176.46 263.20,179.10 263.24,177.16 263.29,174.06 263.33,182.33 263.38,180.28 263.42,178.09 263.46,181.07 263.51,181.69 263.55,181.57 263.59,181.15 263.64,182.51 263.68,177.25 263.72,188.24 263.77,179.78 263.81,185.05 263.85,184.70 263.90,187.10 263.94,178.77 263.98,188.20 264.03,186.34 264.07,187.82 264.12,183.64 264.16,186.85 264.20,178.38 264.25,179.40 264.29,180.16 264.33,178.11 264.38,184.12 264.42,176.33 264.46,183.57 264.51,177.62 264.55,180.67 264.59,184.29 264.64,186.80 264.68,181.20 264.72,183.93 264.77,179.92 264.81,173.19 264.86,180.06 264.90,182.65 264.94,182.37 264.99,178.77 265.03,175.47 265.07,179.25 265.12,177.10 265.16,178.44 265.20,180.80 265.25,175.56 265.29,184.85 265.33,176.01 265.38,185.29 265.42,182.56 265.47,182.91 265.51,181.61 265.55,174.66 265.60,177.41 265.64,186.43 265.68,182.78 265.73,184.39 265.77,182.19 265.81,183.40 265.86,186.31 265.90,183.87 265.94,179.90 265.99,175.90 266.03,181.05 266.07,180.20 266.12,180.69 266.16,176.08 266.21,180.25 266.25,179.58 266.29,171.57 266.34,172.99 266.38,174.93 266.42,174.52 266.47,168.41 266.51,168.05 266.55,165.51 266.60,163.69 266.64,160.79 266.68,157.98 266.73,155.49 266.77,153.56 266.81,152.43 266.86,152.26 266.90,153.08 266.95,154.77 266.99,157.11 267.03,159.83 267.08,162.72 267.12,165.34 267.16,169.48 267.21,172.13 267.25,173.48 267.29,176.98 267.34,170.70 267.38,176.47 267.42,180.43 267.47,177.18 267.51,178.32 267.55,179.56 267.60,178.19 267.64,177.68 267.69,172.30 267.73,178.80 267.77,176.01 267.82,176.04 267.86,180.41 267.90,172.31 267.95,177.46 267.99,183.00 268.03,177.22 268.08,176.37 268.12,176.25 268.16,173.73 268.21,171.27 268.25,181.92 268.29,181.61 268.34,180.69 268.38,180.88 268.43,180.99 268.47,176.71 268.51,181.60 268.56,177.62 268.60,176.85 268.64,178.77 268.69,181.87 268.73,174.44 268.77,179.37 268.82,179.44 268.86,177.72 268.90,187.72 268.95,177.21 268.99,178.15 269.04,174.55 269.08,177.32 269.12,176.58 269.17,177.45 269.21,179.79 269.25,179.57 269.30,177.51 269.34,178.34 269.38,177.21 269.43,179.71 269.47,179.60 269.51,179.28 269.56,177.80 269.60,179.10 269.64,172.78 269.69,180.16 269.73,178.04 269.78,179.78 269.82,179.88 269.86,179.52 269.91,183.93 269.95,183.36 269.99,186.19 270.04,181.71 270.08,178.95 270.12,188.13 270.17,185.26 270.21,178.11 270.25,180.99 270.30,182.76 270.34,177.26 270.38,179.08 270.43,180.39 270.47,181.49 270.52,183.88 270.56,176.08 270.60,176.58 270.65,181.01 270.69,181.04 270.73,182.44 270.78,183.71 270.82,174.68 270.86,176.10 270.91,184.78 270.95,176.31 270.99,184.10 271.04,180.74 271.08,179.60 271.12,176.32 271.17,173.92 271.21,172.22 271.26,177.94 271.30,172.32 271.34,170.26 271.39,172.04 271.43,175.60 271.47,169.16 271.52,164.50 271.56,170.10 271.60,171.61 271.65,170.48 271.69,169.04 271.73,178.46 271.78,174.76 271.82,177.85 271.87,174.87 271.91,182.00 271.95,179.70 272.00,176.03 272.04,175.54 272.08,187.65 272.13,179.00 272.17,188.05 272.21,187.88 272.26,184.62 272.30,186.53 272.34,185.20 272.39,186.82 272.43,183.88 272.47,181.67 272.52,181.74 272.56,176.64 272.61,180.03 272.65,176.21 272.69,179.80 272.74,177.61 272.78,177.11 272.82,177.21 272.87,182.91 272.91,170.28 272.95,175.25 273.00,177.92 273.04,174.85 273.08,173.16 273.13,174.57 273.17,179.52 273.21,176.46 273.26,169.04 273.30,166.72 273.35,168.37 273.39,172.40 273.43,173.47 273.48,167.99 273.52,171.78 273.56,165.77 273.61,170.34 273.65,171.07 273.69,170.16 273.74,171.43 273.78,173.60 273.82,174.50 273.87,166.95 273.91,177.55 273.95,173.01 274.00,172.98 274.04,180.64 274.09,179.48 274.13,177.28 274.17,178.74 274.22,175.02 274.26,185.49 274.30,176.65 274.35,176.32 274.39,176.47 274.43,173.48 274.48,175.63 274.52,181.60 274.56,175.59 274.61,179.59 274.65,181.79 274.70,176.97 274.74,175.84 274.78,178.52 274.83,174.00 274.87,185.14 274.91,182.34 274.96,185.21 275.00,178.52 275.04,186.16 275.09,188.27 275.13,186.11 275.17,187.35 275.22,185.29 275.26,188.42 275.30,185.46 275.35,187.47 275.39,187.39 275.44,188.16 275.48,187.86 275.52,188.03 275.57,188.27 275.61,184.83 275.65,184.14 275.70,188.40 275.74,187.91 275.78,188.28 275.83,188.07 275.87,188.15 275.91,186.73 275.96,188.16 276.00,187.11 276.04,188.17 276.09,188.01 276.13,188.30 276.18,185.39 276.22,187.75 276.26,188.08 276.31,181.65 276.35,184.76 276.39,187.91 276.44,183.74 276.48,187.95 276.52,186.60 276.57,188.38 276.61,184.15 276.65,188.35 276.70,180.48 276.74,176.30 276.78,181.75 276.83,177.23 276.87,183.31 276.92,180.31 276.96,188.19 277.00,182.08 277.05,183.31 277.09,176.99 277.13,180.42 277.18,187.11 277.22,181.76 277.26,180.58 277.31,180.54 277.35,181.39 277.39,173.90 277.44,175.62 277.48,175.13 277.52,178.09 277.57,176.69 277.61,177.51 277.66,183.18 277.70,182.54 277.74,178.11 277.79,174.34 277.83,183.76 277.87,177.33 277.92,175.50 277.96,173.50 278.00,173.82 278.05,174.76 278.09,173.44 278.13,177.91 278.18,174.95 278.22,173.00 278.27,168.94 278.31,170.21 278.35,172.59 278.40,170.13 278.44,176.78 278.48,178.29 278.53,174.51 278.57,175.44 278.61,177.35 278.66,176.40 278.70,179.26 278.74,171.64 278.79,174.57 278.83,173.34 278.87,177.78 278.92,174.07 278.96,175.12 279.01,175.08 279.05,172.48 279.09,173.15 279.14,169.69 279.18,178.64 279.22,170.60 279.27,172.66 279.31,171.97 279.35,162.47 279.40,167.40 279.44,175.22 279.48,172.41 279.53,169.63 279.57,166.34 279.61,173.36 279.66,172.07 279.70,172.26 279.75,173.16 279.79,172.34 279.83,179.06 279.88,172.71 279.92,175.14 279.96,175.20 280.01,173.79 280.05,173.73 280.09,170.16 280.14,177.25 280.18,181.41 280.22,180.18 280.27,179.41 280.31,177.68 280.35,176.04 280.40,174.54 280.44,175.73 280.49,173.93 280.53,179.41 280.57,182.70 280.62,182.53 280.66,178.99 280.70,183.76 280.75,186.51 280.79,176.97 280.83,175.56 280.88,180.05 280.92,180.19 280.96,182.53 281.01,180.72 281.05,186.46 281.10,181.53 281.14,184.44 281.18,177.84 281.23,175.09 281.27,183.06 281.31,173.23 281.36,172.06 281.40,177.39 281.44,176.52 281.49,180.26 281.53,182.56 281.57,170.68 281.62,174.78 281.66,171.82 281.70,170.10 281.75,174.32 281.79,173.05 281.84,177.96 281.88,175.06 281.92,177.46 281.97,179.21 282.01,182.75 282.05,182.93 282.10,179.38 282.14,180.59 282.18,179.07 282.23,183.03 282.27,181.24 282.31,182.22 282.36,187.20 282.40,187.82 282.44,187.64 282.49,179.52 282.53,183.74 282.58,178.22 282.62,184.55 282.66,179.79 282.71,186.26 282.75,185.28 282.79,184.71 282.84,179.36 282.88,181.94 282.92,177.81 282.97,175.81 283.01,175.44 283.05,176.97 283.10,170.77 283.14,168.31 283.18,168.25 283.23,165.25 283.27,167.54 283.32,168.44 283.36,170.74 283.40,162.33 283.45,162.96 283.49,160.82 283.53,169.61 283.58,160.43 283.62,158.55 283.66,161.26 283.71,161.10 283.75,162.89 283.79,160.92 283.84,159.97 283.88,161.93 283.92,161.60 283.97,155.55 284.01,168.43 284.06,162.44 284.10,159.68 284.14,158.93 284.19,163.13 284.23,157.21 284.27,158.84 284.32,163.73 284.36,160.78 284.40,162.64 284.45,163.36 284.49,164.65 284.53,163.88 284.58,163.91 284.62,167.35 284.67,157.98 284.71,176.63 284.75,165.08 284.80,159.61 284.84,160.24 284.88,160.83 284.93,170.59 284.97,166.31 285.01,167.31 285.06,167.63 285.10,164.75 285.14,163.31 285.19,165.86 285.23,167.73 285.27,162.28 285.32,167.26 285.36,163.89 285.41,166.65 285.45,166.12 285.49,163.19 285.54,157.98 285.58,165.64 285.62,160.72 285.67,163.07 285.71,158.97 285.75,168.78 285.80,152.04 285.84,164.13 285.88,162.66 285.93,165.13 285.97,157.05 286.01,161.98 286.06,162.18 286.10,159.75 286.15,161.43 286.19,158.23 286.23,157.72 286.28,159.88 286.32,163.51 286.36,163.30 286.41,168.80 286.45,150.39 286.49,157.60 286.54,155.25 286.58,158.51 286.62,156.08 286.67,154.06 286.71,154.15 286.75,152.59 286.80,159.87 286.84,150.78 286.89,157.20 286.93,148.85 286.97,152.74 287.02,160.66 287.06,151.18 287.10,151.58 287.15,152.77 287.19,151.68 287.23,148.50 287.28,149.76 287.32,160.51 287.36,160.57 287.41,160.94 287.45,160.38 287.50,166.17 287.54,165.11 287.58,161.62 287.63,166.38 287.67,162.51 287.71,166.79 287.76,160.22 287.80,160.37 287.84,164.71 287.89,171.88 287.93,170.38 287.97,173.21 288.02,173.34 288.06,165.98 288.10,167.49 288.15,173.94 288.19,172.00 288.24,171.57 288.28,173.67 288.32,174.62 288.37,174.93 288.41,175.48 288.45,175.42 288.50,175.62 288.54,175.77 288.58,176.19" class="dl2"/>
<polyline points="351.50,175.20 351.54,173.03 351.59,171.09 351.63,171.82 351.67,170.12 351.72,168.96 351.76,171.21 351.80,165.76 351.85,172.18 351.89,170.77 351.94,170.52 351.98,171.52 352.02,174.15 352.07,172.12 352.11,174.37 352.15,173.14 352.20,172.14 352.24,171.97 352.28,173.43 352.33,174.19 352.37,170.11 352.41,173.45 352.46,170.53 352.50,173.95 352.54,172.25 352.59,170.15 352.63,172.90 352.68,172.82 352.72,169.74 352.76,168.59 352.81,169.07 352.85,169.13 352.89,169.93 352.94,168.70 352.98,167.98 353.02,169.37 353.07,170.88 353.11,167.88 353.15,170.81 353.20,171.35 353.24,170.64 353.29,169.00 353.33,172.37 353.37,170.83 353.42,168.39 353.46,170.34 353.50,171.04 353.55,171.58 353.59,172.26 353.63,166.69 353.68,170.41 353.72,166.83 353.76,164.17 353.81,166.04 353.85,164.26 353.89,160.78 353.94,161.88 353.98,158.88 354.03,158.66 354.07,157.63 354.11,164.85 354.16,160.91 354.20,161.99 354.24,163.32 354.29,168.17 354.33,164.57 354.37,161.07 354.42,162.50 354.46,168.08 354.50,166.73 354.55,167.19 354.59,164.56 354.63,169.85 354.68,170.06 354.72,173.06 354.77,165.66 354.81,161.98 354.85,167.66 354.90,167.36 354.94,167.17 354.98,175.25 355.03,169.59 355.07,167.29 355.11,170.57 355.16,177.04 355.20,181.06 355.24,182.56 355.29,176.75 355.33,185.69 355.37,184.09 355.42,184.69 355.46,187.63 355.51,188.17 355.55,185.07 355.59,188.14 355.64,188.10 355.68,180.81 355.72,182.16 355.77,188.24 355.81,188.42 355.85,181.61 355.90,188.66 355.94,182.82 355.98,182.86 356.03,184.26 356.07,182.63 356.11,188.54 356.16,188.64 356.20,188.63 356.25,188.77 356.29,188.34 356.33,188.79 356.38,188.63 356.42,188.78 356.46,188.83 356.51,188.78 356.55,188.66 356.59,186.86 356.64,188.89 356.68,188.58 356.72,188.39 356.77,188.58 356.81,188.47 356.86,188.71 356.90,188.48 356.94,182.37 356.99,188.39 357.03,188.75 357.07,188.78 357.12,188.56 357.16,176.32 357.20,183.99 357.25,176.77 357.29,186.19 357.33,176.37 357.38,183.05 357.42,179.96 357.46,177.76 357.51,184.19 357.55,167.48 357.60,183.53 357.64,180.91 357.68,171.14 357.73,174.69 357.77,188.86 357.81,177.04 357.86,174.01 357.90,183.48 357.94,178.82 357.99,182.26 358.03,182.44 358.07,171.39 358.12,175.03 358.16,183.60 358.20,185.76 358.25,177.08 358.29,179.78 358.34,182.63 358.38,180.34 358.42,187.65 358.47,185.35 358.51,185.55 358.55,176.79 358.60,182.76 358.64,187.55 358.68,186.66 358.73,178.70 358.77,182.38 358.81,186.92 358.86,186.62 358.90,182.21 358.94,187.63 358.99,188.10 359.03,188.70 359.08,188.43 359.12,186.87 359.16,188.50 359.21,187.64 359.25,178.11 359.29,188.78 359.34,188.55 359.38,188.71 359.42,188.78 359.47,188.63 359.51,188.82 359.55,188.67 359.60,188.20 359.64,188.67 359.69,188.82 359.73,188.86 359.77,188.52 359.82,187.84 359.86,188.18 359.90,188.40 359.95,183.30 359.99,178.32 360.03,178.74 360.08,188.60 360.12,186.78 360.16,178.25 360.21,178.36 360.25,183.18 360.29,173.18 360.34,174.63 360.38,171.79 360.43,176.67 360.47,170.82 360.51,182.36 360.56,181.81 360.60,177.46 360.64,178.88 360.69,187.46 360.73,183.64 360.77,176.52 360.82,177.54 360.86,180.16 360.90,176.76 360.95,174.71 360.99,173.64 361.03,169.49 361.08,167.79 361.12,173.91 361.17,159.78 361.21,169.36 361.25,172.16 361.30,164.21 361.34,174.26 361.38,181.43 361.43,184.00 361.47,182.68 361.51,184.74 361.56,188.78 361.60,186.95 361.64,188.46 361.69,181.46 361.73,185.78 361.77,188.42 361.82,183.04 361.86,188.11 361.91,188.83 361.95,185.69 361.99,177.97 362.04,183.12 362.08,185.32 362.12,181.30 362.17,183.61 362.21,177.79 362.25,178.95 362.30,181.59 362.34,176.49 362.38,172.70 362.43,179.24 362.47,175.25 362.51,177.67 362.56,182.59 362.60,181.79 362.65,175.47 362.69,180.56 362.73,178.05 362.78,188.65 362.82,179.25 362.86,188.54 362.91,174.24 362.95,182.10 362.99,179.93 363.04,187.52 363.08,185.36 363.12,188.54 363.17,188.80 363.21,185.90 363.26,188.88 363.30,188.40 363.34,188.43 363.39,182.65 363.43,184.65 363.47,180.85 363.52,188.76 363.56,188.43 363.60,188.51 363.65,186.24 363.69,188.47 363.73,186.30 363.78,188.65 363.82,186.10 363.86,186.10 363.91,187.83 363.95,188.62 364.00,185.34 364.04,177.64 364.08,188.76 364.13,178.70 364.17,178.59 364.21,177.31 364.26,174.24 364.30,172.15 364.34,173.42 364.39,167.03 364.43,174.43 364.47,163.50 364.52,182.74 364.56,167.59 364.60,177.64 364.65,182.69 364.69,182.42 364.74,181.63 364.78,179.47 364.82,181.31 364.87,175.37 364.91,182.27 364.95,182.97 365.00,183.10 365.04,178.80 365.08,180.75 365.13,173.77 365.17,183.17 365.21,182.20 365.26,182.70 365.30,184.20 365.34,182.56 365.39,184.83 365.43,188.49 365.48,188.60 365.52,185.71 365.56,188.79 365.61,183.53 365.65,176.30 365.69,177.23 365.74,185.47 365.78,184.62 365.82,179.90 365.87,181.05 365.91,175.07 365.95,177.62 366.00,177.86 366.04,181.21 366.09,176.84 366.13,181.31 366.17,171.19 366.22,180.69 366.26,184.02 366.30,186.23 366.35,188.02 366.39,188.58 366.43,183.70 366.48,181.27 366.52,175.39 366.56,179.76 366.61,175.41 366.65,176.56 366.69,177.32 366.74,172.19 366.78,170.33 366.83,172.62 366.87,171.25 366.91,169.32 366.96,177.00 367.00,165.18 367.04,172.41 367.09,154.71 367.13,165.81 367.17,163.96 367.22,164.07 367.26,174.53 367.30,160.57 367.35,171.91 367.39,165.62 367.43,166.29 367.48,170.19 367.52,188.79 367.57,183.78 367.61,182.41 367.65,187.88 367.70,183.64 367.74,177.22 367.78,179.47 367.83,187.53 367.87,188.51 367.91,181.62 367.96,181.05 368.00,184.76 368.04,186.23 368.09,173.47 368.13,171.23 368.17,171.66 368.22,172.30 368.26,176.63 368.31,172.20 368.35,177.71 368.39,164.55 368.44,176.59 368.48,175.03 368.52,172.84 368.57,172.58 368.61,165.31 368.65,168.76 368.70,176.74 368.74,171.81 368.78,172.20 368.83,166.60 368.87,181.34 368.91,176.24 368.96,178.47 369.00,172.75 369.05,169.56 369.09,175.06 369.13,164.37 369.18,179.89 369.22,175.64 369.26,180.58 369.31,185.25 369.35,181.95 369.39,180.98 369.44,185.79 369.48,186.97 369.52,185.25 369.57,188.37 369.61,182.53 369.66,184.80 369.70,187.94 369.74,183.76 369.79,188.80 369.83,188.70 369.87,182.67 369.92,188.69 369.96,183.81 370.00,186.08 370.05,187.54 370.09,188.41 370.13,188.39 370.18,188.41 370.22,188.53 370.26,186.87 370.31,188.65 370.35,187.72 370.40,188.44 370.44,188.41 370.48,183.72 370.53,188.68 370.57,188.64 370.61,188.53 370.66,178.06 370.70,182.36 370.74,178.55 370.79,175.37 370.83,188.53 370.87,186.82 370.92,188.69 370.96,188.38 371.00,188.67 371.05,188.60 371.09,188.56 371.14,188.62 371.18,188.79 371.22,188.62 371.27,188.63 371.31,188.41 371.35,188.47 371.40,188.46 371.44,188.59 371.48,188.71 371.53,188.51 371.57,188.59 371.61,188.61 371.66,188.60 371.70,188.41 371.74,188.72 371.79,188.84 371.83,184.27 371.88,181.53 371.92,183.59 371.96,177.43 372.01,177.06 372.05,171.45 372.09,179.40 372.14,172.10 372.18,164.32 372.22,176.45 372.27,174.08 372.31,170.55 372.35,178.25 372.40,173.11 372.44,172.93 372.49,171.60 372.53,175.14 372.57,175.22 372.62,179.20 372.66,176.47 372.70,176.94 372.75,176.58 372.79,175.99 372.83,176.72 372.88,177.86 372.92,180.72 372.96,182.36 373.01,185.85 373.05,180.89 373.09,178.51 373.14,186.68 373.18,181.22 373.23,184.30 373.27,183.85 373.31,186.87 373.36,182.29 373.40,176.86 373.44,176.24 373.49,173.39 373.53,179.39 373.57,185.60 373.62,170.88 373.66,173.79 373.70,169.96 373.75,164.23 373.79,167.94 373.83,183.29 373.88,176.03 373.92,175.83 373.97,167.27 374.01,179.18 374.05,177.91 374.10,171.88 374.14,186.28 374.18,181.09 374.23,185.66 374.27,184.83 374.31,177.99 374.36,180.44 374.40,181.62 374.44,181.52 374.49,183.54 374.53,181.96 374.57,179.34 374.62,185.65 374.66,181.48 374.71,184.73 374.75,178.58 374.79,177.95 374.84,181.48 374.88,180.71 374.92,188.71 374.97,188.68 375.01,187.80 375.05,188.61 375.10,187.38 375.14,188.73 375.18,188.53 375.23,188.63 375.27,188.31 375.32,177.33 375.36,186.83 375.40,188.79 375.45,183.18 375.49,185.95 375.53,187.24 375.58,166.78 375.62,166.37 375.66,176.72 375.71,175.68 375.75,176.24 375.79,170.75 375.84,170.90 375.88,170.34 375.92,181.71 375.97,179.14 376.01,175.57 376.06,180.37 376.10,188.87 376.14,184.43 376.19,181.16 376.23,188.73 376.27,180.78 376.32,188.57 376.36,182.04 376.40,184.51 376.45,187.05 376.49,188.57 376.53,188.49 376.58,188.60 376.62,185.45 376.66,183.72 376.71,188.47 376.75,186.80 376.80,188.56 376.84,188.72 376.88,185.94 376.93,179.39 376.97,181.08 377.01,180.00 377.06,182.02 377.10,184.50 377.14,174.50 377.19,174.54 377.23,182.82 377.27,178.30 377.32,174.81 377.36,181.59 377.40,180.37 377.45,174.61 377.49,176.35 377.54,172.65 377.58,178.87 377.62,174.62 377.67,175.30 377.71,168.73 377.75,181.36 377.80,177.85 377.84,182.22 377.88,174.57 377.93,174.23 377.97,169.98 378.01,179.24 378.06,174.99 378.10,178.80 378.14,172.91 378.19,181.96 378.23,184.49 378.28,181.06 378.32,187.06 378.36,188.52 378.41,188.55 378.45,188.36 378.49,187.02 378.54,188.75 378.58,188.50 378.62,188.54 378.67,188.53 378.71,188.66 378.75,188.46 378.80,188.68 378.84,188.74 378.89,188.74 378.93,188.71 378.97,188.65 379.02,186.51 379.06,188.56 379.10,188.64 379.15,188.59 379.19,188.58 379.23,185.16 379.28,184.41 379.32,184.21 379.36,188.63 379.41,187.66 379.45,185.57 379.49,186.43 379.54,188.29 379.58,184.41 379.63,179.06 379.67,188.68 379.71,178.21 379.76,188.10 379.80,187.60 379.84,187.60 379.89,178.98 379.93,180.49 379.97,178.01 380.02,187.32 380.06,188.49 380.10,175.30 380.15,183.73 380.19,188.72 380.23,188.60 380.28,188.48 380.32,183.32 380.37,181.85 380.41,188.72 380.45,187.98 380.50,188.83 380.54,188.84 380.58,188.80 380.63,188.45 380.67,188.42 380.71,188.45 380.76,183.75 380.80,188.43 380.84,176.95 380.89,184.56 380.93,178.17 380.97,185.75 381.02,186.03 381.06,174.39 381.11,176.29 381.15,187.45 381.19,175.09 381.24,184.16 381.28,173.40 381.32,170.79 381.37,173.32 381.41,173.74 381.45,171.96 381.50,170.49 381.54,173.43 381.58,167.13 381.63,171.95 381.67,177.62 381.72,168.69 381.76,162.82 381.80,167.70 381.85,175.22 381.89,179.73 381.93,180.53 381.98,173.54 382.02,177.89 382.06,186.95 382.11,182.89 382.15,177.72 382.19,184.95 382.24,184.96 382.28,188.20 382.32,188.38 382.37,180.76 382.41,181.25 382.46,180.05 382.50,176.54 382.54,181.81 382.59,182.16 382.63,176.93 382.67,183.54 382.72,185.77 382.76,177.13 382.80,177.44 382.85,177.81 382.89,172.55 382.93,169.13 382.98,175.25 383.02,181.41 383.06,179.67 383.11,175.53 383.15,171.77 383.20,170.15 383.24,166.94 383.28,158.75 383.33,172.26 383.37,162.02 383.41,167.24 383.46,165.36 383.50,167.86 383.54,161.67 383.59,163.61 383.63,161.69 383.67,160.18 383.72,177.71 383.76,173.36 383.80,170.00 383.85,170.76 383.89,174.09 383.94,180.98 383.98,168.98 384.02,183.77 384.07,175.80 384.11,183.05 384.15,183.07 384.20,178.22 384.24,186.87 384.28,179.62 384.33,183.13 384.37,188.57 384.41,183.93 384.46,182.12 384.50,179.51 384.54,176.79 384.59,187.64 384.63,183.87 384.68,182.62 384.72,184.65 384.76,167.54 384.81,177.79 384.85,175.85 384.89,175.33 384.94,176.60 384.98,167.34 385.02,170.38 385.07,173.91 385.11,172.16 385.15,169.02 385.20,169.96 385.24,168.04 385.29,166.99 385.33,176.27 385.37,179.56 385.42,178.19 385.46,176.31 385.50,180.62 385.55,176.98 385.59,184.75 385.63,179.60 385.68,178.09 385.72,183.65 385.76,176.02 385.81,171.62 385.85,188.58 385.89,182.19 385.94,178.80 385.98,173.70 386.03,181.49 386.07,175.54 386.11,169.36 386.16,174.66 386.20,178.92 386.24,179.60 386.29,176.53 386.33,176.49 386.37,177.89 386.42,180.70 386.46,188.41 386.50,186.46 386.55,184.60 386.59,182.64 386.63,180.98 386.68,186.35 386.72,179.85 386.77,175.51 386.81,180.18 386.85,178.67 386.90,184.27 386.94,187.09 386.98,180.35 387.03,181.15 387.07,178.36 387.11,185.23 387.16,188.48 387.20,188.62 387.24,182.76 387.29,188.80 387.33,176.89 387.37,184.38 387.42,181.65 387.46,182.07 387.51,172.59 387.55,185.52 387.59,175.43 387.64,176.61 387.68,173.09 387.72,174.97 387.77,184.62 387.81,188.18 387.85,188.40 387.90,184.20 387.94,181.47 387.98,183.89 388.03,187.19 388.07,183.25 388.12,188.42 388.16,179.14 388.20,177.26 388.25,177.31 388.29,178.26 388.33,171.93 388.38,185.53 388.42,182.43 388.46,176.35 388.51,175.89 388.55,177.32 388.59,173.62 388.64,178.37 388.68,170.29 388.72,179.26 388.77,188.48 388.81,185.25 388.86,188.35 388.90,188.59 388.94,184.20 388.99,188.58 389.03,188.78 389.07,188.34 389.12,185.80 389.16,188.58 389.20,187.44 389.25,188.52 389.29,188.44 389.33,188.44 389.38,188.55 389.42,188.52 389.46,188.52 389.51,188.70 389.55,188.74 389.60,185.41 389.64,184.03 389.68,182.11 389.73,188.55 389.77,185.06 389.81,179.04 389.86,173.96 389.90,174.40 389.94,178.64 389.99,180.87 390.03,168.78 390.07,178.32 390.12,174.33 390.16,173.43 390.20,170.97 390.25,176.40 390.29,177.78 390.34,171.74 390.38,173.56 390.42,166.87 390.47,173.08 390.51,165.72 390.55,168.10 390.60,149.82 390.64,167.78 390.68,160.71 390.73,159.40 390.77,160.74 390.81,164.95 390.86,164.67 390.90,162.64 390.94,156.64 390.99,159.92 391.03,160.06 391.08,174.08 391.12,173.39 391.16,170.42 391.21,176.43 391.25,179.96 391.29,182.12 391.34,179.51 391.38,186.87 391.42,182.82 391.47,187.95 391.51,179.52 391.55,179.46 391.60,181.15 391.64,186.38 391.69,179.33 391.73,169.85 391.77,179.78 391.82,174.98 391.86,184.97 391.90,181.64 391.95,176.77 391.99,172.43 392.03,173.15 392.08,180.51 392.12,168.52 392.16,188.78 392.21,185.86 392.25,173.41 392.29,172.60 392.34,170.72 392.38,184.01 392.43,187.11 392.47,187.98 392.51,186.01 392.56,179.57 392.60,184.20 392.64,184.58 392.69,179.75 392.73,183.94 392.77,181.84 392.82,174.85 392.86,185.06 392.90,180.16 392.95,183.35 392.99,174.36 393.03,182.32 393.08,179.34 393.12,169.43 393.17,181.02 393.21,159.83 393.25,164.17 393.30,166.74 393.34,166.48 393.38,161.37 393.43,161.58 393.47,168.84 393.51,163.83 393.56,170.18 393.60,170.17 393.64,169.88 393.69,172.00 393.73,176.83 393.77,178.92 393.82,183.79 393.86,186.51 393.91,180.15 393.95,183.71 393.99,188.67 394.04,188.78 394.08,188.64 394.12,188.53 394.17,188.75 394.21,188.69 394.25,188.80 394.30,188.78 394.34,188.55 394.38,188.36 394.43,188.68 394.47,188.39 394.52,188.51 394.56,188.74 394.60,182.02 394.65,186.90 394.69,186.40 394.73,188.79 394.78,188.35 394.82,188.73 394.86,188.61 394.91,188.64 394.95,187.21 394.99,186.85 395.04,188.37 395.08,188.65 395.12,188.66 395.17,188.36 395.21,188.45 395.26,188.64 395.30,188.69 395.34,188.61 395.39,188.47 395.43,188.30 395.47,188.46 395.52,188.32 395.56,188.49 395.60,188.42 395.65,185.92 395.69,188.78 395.73,188.76 395.78,188.36 395.82,188.37 395.86,185.39 395.91,188.42 395.95,188.51 396.00,188.39 396.04,188.54 396.08,188.61 396.13,188.79 396.17,188.65 396.21,188.09 396.26,188.50 396.30,187.24 396.34,188.59 396.39,181.10 396.43,178.95 396.47,185.28 396.52,188.68 396.56,185.43 396.60,188.45 396.65,187.82 396.69,176.00 396.74,179.01 396.78,182.98 396.82,186.50 396.87,179.28 396.91,172.72 396.95,176.34 397.00,177.91 397.04,177.39 397.08,170.97 397.13,173.10 397.17,176.15 397.21,187.73 397.26,171.98 397.30,174.01 397.34,174.54 397.39,167.62 397.43,177.61 397.48,171.41 397.52,172.32 397.56,181.11 397.61,174.87 397.65,173.81 397.69,169.65 397.74,173.97 397.78,178.57 397.82,176.13 397.87,188.33 397.91,186.44 397.95,188.71 398.00,185.14 398.04,180.11 398.09,187.20 398.13,187.01 398.17,188.80 398.22,185.15 398.26,188.52 398.30,188.72 398.35,188.77 398.39,188.80 398.43,188.63 398.48,188.66 398.52,188.78 398.56,186.02 398.61,188.41 398.65,188.46 398.69,188.27 398.74,188.02 398.78,180.64 398.83,179.61 398.87,186.09 398.91,183.11 398.96,182.96 399.00,175.46 399.04,174.94 399.09,172.77 399.13,180.57 399.17,172.03 399.22,176.63 399.26,179.00 399.30,173.07 399.35,175.51 399.39,171.20 399.43,171.64 399.48,174.64 399.52,171.43 399.57,172.51 399.61,174.09 399.65,177.67 399.70,166.69 399.74,166.20 399.78,164.62 399.83,175.27 399.87,174.53 399.91,167.22 399.96,163.05 400.00,167.62 400.04,161.45 400.09,173.88 400.13,165.26 400.17,180.20 400.22,174.72 400.26,177.37 400.31,169.05 400.35,177.44 400.39,175.48 400.44,172.03 400.48,182.20 400.52,174.77 400.57,186.85 400.61,174.77 400.65,188.70 400.70,188.69 400.74,181.29 400.78,175.45 400.83,188.75 400.87,176.50 400.92,174.34 400.96,177.87 401.00,186.63 401.05,182.84 401.09,172.19 401.13,186.28 401.18,164.81 401.22,159.06 401.26,175.58 401.31,173.15 401.35,160.71 401.39,168.05 401.44,159.07 401.48,165.39 401.52,165.69 401.57,163.61 401.61,159.35 401.66,160.51 401.70,165.68 401.74,158.25 401.79,158.95 401.83,165.20 401.87,180.51 401.92,178.15 401.96,177.59 402.00,175.36 402.05,172.61 402.09,186.41 402.13,176.84 402.18,188.56 402.22,185.26 402.26,188.28 402.31,188.66 402.35,181.47 402.40,188.62 402.44,188.28 402.48,177.94 402.53,186.56 402.57,188.72 402.61,188.24 402.66,188.24 402.70,184.42 402.74,183.57 402.79,188.48 402.83,188.28 402.87,188.73 402.92,183.50 402.96,180.69 403.00,184.21 403.05,179.76 403.09,184.21 403.14,182.72 403.18,174.41 403.22,179.02 403.27,187.76 403.31,186.81 403.35,177.63 403.40,184.97 403.44,188.72 403.48,181.00 403.53,188.28 403.57,180.42 403.61,183.69 403.66,177.02 403.70,163.78 403.74,174.98 403.79,182.27 403.83,185.59 403.88,173.31 403.92,175.64 403.96,182.48 404.01,177.56 404.05,174.47 404.09,182.16 404.14,176.49 404.18,172.94 404.22,181.25 404.27,168.74 404.31,183.80 404.35,186.24 404.40,172.96 404.44,183.84 404.49,187.07 404.53,188.66 404.57,182.36 404.62,188.26 404.66,188.45 404.70,188.48 404.75,188.44 404.79,188.23 404.83,188.70 404.88,188.26 404.92,183.75 404.96,188.54 405.01,182.45 405.05,188.43 405.09,184.22 405.14,188.43 405.18,182.37 405.23,188.50 405.27,186.67 405.31,181.50 405.36,187.09 405.40,187.13 405.44,188.52 405.49,188.33 405.53,188.49 405.57,188.46 405.62,185.38 405.66,188.39 405.70,188.41 405.75,185.65 405.79,188.50 405.83,188.38 405.88,183.43 405.92,188.34 405.97,173.87 406.01,185.74 406.05,188.65 406.10,185.44 406.14,188.57 406.18,188.28 406.23,188.58 406.27,186.92 406.31,188.57 406.36,188.70 406.40,182.44 406.44,182.05 406.49,188.48 406.53,171.26 406.57,179.69 406.62,163.19 406.66,164.28 406.71,173.87 406.75,166.48 406.79,178.31 406.84,169.97 406.88,184.11 406.92,179.45 406.97,172.92 407.01,169.05 407.05,168.24 407.10,167.11 407.14,168.81 407.18,179.74 407.23,178.12 407.27,182.67 407.32,179.02 407.36,188.53 407.40,186.50 407.45,172.13 407.49,181.12 407.53,187.19 407.58,177.90 407.62,180.17 407.66,181.55 407.71,182.47 407.75,185.27 407.79,176.74 407.84,173.79 407.88,172.46 407.92,160.75 407.97,169.13 408.01,165.86 408.06,158.54 408.10,161.07 408.14,180.73 408.19,167.84 408.23,175.10 408.27,174.42 408.32,164.00 408.36,161.09 408.40,170.67 408.45,188.24 408.49,180.42 408.53,181.20 408.58,184.31 408.62,172.08 408.66,181.90 408.71,182.58 408.75,188.63 408.80,185.42 408.84,188.45 408.88,188.53 408.93,188.58 408.97,188.31 409.01,188.51 409.06,188.50 409.10,188.32 409.14,188.62 409.19,183.94 409.23,188.62 409.27,188.20 409.32,188.43 409.36,183.28 409.40,188.48 409.45,186.96 409.49,175.18 409.54,171.54 409.58,186.85 409.62,188.53 409.67,181.61 409.71,181.92 409.75,173.06 409.80,174.37 409.84,180.16 409.88,186.50 409.93,178.94 409.97,187.32 410.01,188.29 410.06,182.75 410.10,169.52 410.15,171.17 410.19,173.68 410.23,188.54 410.28,179.90 410.32,188.30 410.36,181.73 410.41,179.72 410.45,181.82 410.49,188.25 410.54,188.18 410.58,185.74 410.62,183.69 410.67,188.29 410.71,188.11 410.75,188.50 410.80,188.35 410.84,188.42 410.89,188.49 410.93,188.44 410.97,188.27 411.02,188.49 411.06,188.12 411.10,188.39 411.15,188.14 411.19,188.51 411.23,188.30 411.28,188.49 411.32,186.42 411.36,188.45 411.41,188.31 411.45,180.77 411.49,175.51 411.54,175.69 411.58,185.73 411.63,175.49 411.67,177.28 411.71,179.32 411.76,178.77 411.80,181.28 411.84,181.93 411.89,175.34 411.93,176.80 411.97,175.19 412.02,182.46 412.06,172.65 412.10,163.02 412.15,179.21 412.19,171.28 412.23,171.66 412.28,169.93 412.32,167.49 412.37,176.59 412.41,168.10 412.45,170.42 412.50,177.39 412.54,172.34 412.58,169.38 412.63,168.54 412.67,179.05 412.71,172.64 412.76,177.87 412.80,182.49 412.84,162.47 412.89,170.59 412.93,172.19 412.97,178.78 413.02,176.00 413.06,180.69 413.11,166.91 413.15,183.27 413.19,181.00 413.24,177.55 413.28,185.66 413.32,181.20 413.37,187.16 413.41,187.86 413.45,187.89 413.50,188.08 413.54,187.71 413.58,187.91 413.63,188.01 413.67,187.67 413.72,187.98 413.76,187.73 413.80,187.71 413.85,187.77 413.89,187.57 413.93,187.56 413.98,181.31 414.02,182.99 414.06,187.52 414.11,187.20 414.15,173.85 414.19,180.02 414.24,171.94 414.28,165.86 414.32,168.36 414.37,179.47 414.41,185.59 414.46,162.53 414.50,179.28 414.54,179.36 414.59,174.27 414.63,173.34 414.67,168.39 414.72,176.36 414.76,178.52 414.80,169.96 414.85,181.57 414.89,162.51 414.93,186.85 414.98,180.98 415.02,176.73 415.06,184.88 415.11,186.65 415.15,186.71 415.20,183.77 415.24,186.27 415.28,186.32 415.33,186.40 415.37,186.27 415.41,185.72 415.46,185.65 415.50,185.38 415.54,185.55 415.59,185.22 415.63,184.74 415.67,184.76 415.72,184.30 415.76,184.03 415.80,183.80 415.85,183.20 415.89,182.53 415.94,182.05 415.98,181.24 416.02,180.71 416.07,179.65 416.11,178.58 416.15,177.43 416.20,175.89 416.24,174.45 416.28,172.69 416.33,170.71 416.37,168.57 416.41,166.27 416.46,164.34 416.50,162.51 416.55,160.65 416.59,158.82 416.63,157.12 416.68,155.63 416.72,154.46 416.76,153.71 416.81,153.45 416.85,153.71 416.89,154.45 416.94,155.62 416.98,157.11 417.02,158.82 417.07,160.64 417.11,162.50 417.15,164.33 417.20,166.12 417.24,168.57 417.29,170.60 417.33,171.82 417.37,174.42 417.42,174.89 417.46,174.64 417.50,177.57 417.55,179.56 417.59,178.86 417.63,181.38 417.68,181.66 417.72,182.76 417.76,182.19 417.81,183.04 417.85,183.95 417.89,184.35 417.94,181.87 417.98,184.73 418.03,177.97 418.07,180.35 418.11,171.96 418.16,184.62 418.20,177.37 418.24,173.00 418.29,172.78 418.33,175.98 418.37,169.21 418.42,176.40 418.46,171.84 418.50,174.83 418.55,176.03 418.59,178.65 418.63,178.20 418.68,177.44 418.72,172.85 418.77,177.17 418.81,179.18 418.85,170.87 418.90,173.13 418.94,171.25 418.98,173.91 419.03,166.55 419.07,172.03 419.11,175.13 419.16,175.44 419.20,174.23 419.24,179.69 419.29,178.16 419.33,184.05 419.37,176.45 419.42,186.06 419.46,187.35 419.51,183.46 419.55,187.77 419.59,187.42 419.64,184.25 419.68,187.37 419.72,187.63 419.77,187.75 419.81,187.75 419.85,185.08 419.90,185.63 419.94,187.59 419.98,183.84 420.03,187.64 420.07,187.61 420.12,182.02 420.16,178.73 420.20,181.71 420.25,176.02 420.29,180.34 420.33,182.17 420.38,179.21 420.42,168.32 420.46,169.44 420.51,178.45 420.55,178.26 420.59,178.74 420.64,187.89 420.68,185.33 420.72,182.86 420.77,187.67 420.81,186.10 420.86,187.71 420.90,186.70 420.94,181.84 420.99,186.60 421.03,183.09 421.07,187.90 421.12,188.04 421.16,186.03 421.20,187.75 421.25,187.94 421.29,186.39 421.33,186.58 421.38,181.05 421.42,185.53 421.46,176.23 421.51,175.55 421.55,177.89 421.60,180.68 421.64,182.19 421.68,173.10 421.73,176.99 421.77,162.64 421.81,171.76 421.86,169.77 421.90,181.81 421.94,179.04 421.99,182.64 422.03,187.65 422.07,182.94 422.12,187.70 422.16,187.69 422.20,187.83 422.25,186.25 422.29,188.04 422.34,184.57 422.38,187.63 422.42,187.63 422.47,188.09 422.51,187.92 422.55,185.27 422.60,186.65 422.64,186.38 422.68,184.80 422.73,180.93 422.77,176.29 422.81,177.65 422.86,180.98 422.90,173.66 422.95,176.55 422.99,174.32 423.03,174.40 423.08,170.64 423.12,174.38 423.16,177.85 423.21,183.68 423.25,184.37 423.29,177.92 423.34,183.90 423.38,178.16 423.42,183.12 423.47,183.04 423.51,185.30 423.55,173.90 423.60,181.59 423.64,183.73 423.69,182.89 423.73,187.87 423.77,187.86 423.82,178.78 423.86,177.46 423.90,185.70 423.95,187.51 423.99,185.60 424.03,175.93 424.08,177.94 424.12,170.93 424.16,176.04 424.21,172.94 424.25,171.18 424.29,173.70 424.34,174.89 424.38,175.48 424.43,173.37 424.47,172.18 424.51,167.68 424.56,171.73 424.60,174.42 424.64,176.85 424.69,175.66 424.73,170.83 424.77,172.87 424.82,168.39 424.86,176.41 424.90,179.33 424.95,173.00 424.99,176.84 425.03,177.78 425.08,187.54 425.12,186.98 425.17,187.20 425.21,187.56 425.25,187.56 425.30,187.28 425.34,187.52 425.38,187.21 425.43,187.46 425.47,187.35 425.51,187.22 425.56,187.22 425.60,187.23 425.64,187.10 425.69,186.84 425.73,186.92 425.77,186.82 425.82,186.84 425.86,186.78 425.91,186.73 425.95,186.93 425.99,187.02 426.04,186.79 426.08,186.58 426.12,186.72 426.17,184.86 426.21,186.65 426.25,186.29 426.30,184.68 426.34,184.10 426.38,186.43 426.43,184.68 426.47,186.28 426.52,185.95 426.56,185.85 426.60,185.89 426.65,182.04 426.69,185.68 426.73,185.54 426.78,182.96 426.82,185.26 426.86,185.04 426.91,183.91 426.95,184.80 426.99,184.42 427.04,184.51 427.08,184.33 427.12,183.80 427.17,181.61 427.21,183.12 427.26,182.76 427.30,182.71 427.34,180.65 427.39,181.70 427.43,181.02 427.47,180.30 427.52,179.45 427.56,175.29 427.60,177.72 427.65,171.87 427.69,169.88 427.73,173.35 427.78,172.57 427.82,170.76 427.86,168.63 427.91,167.15 427.95,165.27 428.00,163.70 428.04,162.08 428.08,160.41 428.13,158.74 428.17,157.12 428.21,155.59 428.26,154.23 428.30,153.11 428.34,152.30 428.39,151.84 428.43,151.77 428.47,152.09 428.52,152.79 428.56,153.81 428.60,155.09 428.65,156.56 428.69,158.15 428.74,159.80 428.78,161.47 428.82,163.10 428.87,164.68 428.91,165.69 428.95,166.51 429.00,167.86 429.04,168.88 429.08,169.55 429.13,169.43 429.17,169.35 429.21,165.91 429.26,168.74 429.30,165.13 429.35,174.82 429.39,170.42 429.43,175.80 429.48,176.39 429.52,167.85 429.56,174.17 429.61,166.78 429.65,169.30 429.69,160.87 429.74,159.77 429.78,169.59 429.82,160.04 429.87,162.68 429.91,160.51 429.95,164.80 430.00,158.26 430.04,159.88 430.09,164.97 430.13,172.41 430.17,177.07 430.22,164.70 430.26,169.66 430.30,178.26 430.35,178.30 430.39,165.55 430.43,183.32 430.48,179.53 430.52,177.68 430.56,175.44 430.61,185.80 430.65,186.16 430.69,186.09 430.74,185.93 430.78,186.03 430.83,186.39 430.87,185.99 430.91,182.87 430.96,182.22 431.00,173.59 431.04,184.82 431.09,186.11 431.13,171.03 431.17,175.61 431.22,169.47 431.26,178.70 431.30,176.38 431.35,167.16 431.39,176.51 431.43,172.79 431.48,172.24 431.52,168.02 431.57,167.34 431.61,175.46 431.65,168.31 431.70,173.85 431.74,173.92 431.78,173.45 431.83,170.66 431.87,175.84 431.91,173.83 431.96,179.68 432.00,182.81 432.04,181.51 432.09,175.42 432.13,175.91 432.17,175.23 432.22,181.27 432.26,178.23 432.31,174.20 432.35,170.71 432.39,171.04 432.44,174.19 432.48,175.39 432.52,178.55 432.57,174.04 432.61,166.62 432.65,172.57 432.70,174.12 432.74,170.77 432.78,160.53 432.83,174.82 432.87,177.60 432.92,181.44 432.96,183.60 433.00,174.05 433.05,175.22 433.09,180.16 433.13,176.73 433.18,176.75 433.22,183.42 433.26,179.83 433.31,178.12 433.35,185.74 433.39,183.64 433.44,183.22 433.48,185.77 433.52,174.09 433.57,179.90 433.61,176.32 433.66,185.57 433.70,183.82 433.74,178.08 433.79,184.18 433.83,172.58 433.87,184.72 433.92,179.31 433.96,179.70 434.00,184.01 434.05,177.43 434.09,175.77 434.13,179.62 434.18,176.92 434.22,170.97 434.26,171.35 434.31,173.06 434.35,172.24 434.40,170.22 434.44,176.29 434.48,178.70 434.53,175.83 434.57,175.88 434.61,179.20 434.66,175.97 434.70,175.78 434.74,173.07 434.79,180.59 434.83,172.57 434.87,177.89 434.92,182.34 434.96,173.50 435.00,175.75 435.05,177.37 435.09,181.93 435.14,175.33 435.18,181.54 435.22,181.44 435.27,178.41 435.31,174.88 435.35,177.21 435.40,176.25 435.44,178.37 435.48,172.26 435.53,174.78 435.57,171.37 435.61,165.36 435.66,170.77 435.70,172.71 435.75,172.72 435.79,171.22 435.83,170.58 435.88,168.34 435.92,166.86 435.96,167.38 436.01,166.67 436.05,165.62 436.09,164.40 436.14,163.10 436.18,161.73 436.22,160.28 436.27,158.77 436.31,157.20 436.35,155.59 436.40,153.95 436.44,152.30 436.49,150.68 436.53,149.10 436.57,147.61 436.62,146.24 436.66,145.03 436.70,144.04 436.75,143.28 436.79,142.80 436.83,142.61 436.88,142.72 436.92,143.12 436.96,143.79 437.01,144.70 437.05,145.82 437.09,147.11 437.14,148.51 437.18,150.01 437.23,151.55 437.27,153.11 437.31,154.66 437.36,156.18 437.40,157.66 437.44,159.08 437.49,160.43 437.53,161.71 437.57,162.91 437.62,164.03 437.66,165.07 437.70,165.98 437.75,166.68 437.79,166.97 437.83,166.07 437.88,167.01 437.92,167.62 437.97,169.66 438.01,170.06 438.05,167.78 438.10,170.41 438.14,167.26 438.18,170.82 438.23,169.26 438.27,168.56 438.31,169.31 438.36,170.92 438.40,167.03 438.44,172.04 438.49,171.51 438.53,173.53 438.57,171.27 438.62,171.31 438.66,171.75 438.71,173.82 438.75,172.85 438.79,174.27 438.84,173.90 438.88,173.50 438.92,173.11 438.97,172.60 439.01,172.04 439.05,171.47 439.10,170.69 439.14,169.99 439.18,169.08 439.23,168.15 439.27,167.10 439.32,165.94 439.36,164.95 439.40,163.95 439.45,162.86 439.49,161.67 439.53,160.38 439.58,158.98 439.62,157.48 439.66,155.85 439.71,154.12 439.75,152.27 439.79,150.30 439.84,148.21 439.88,146.02 439.92,143.71 439.97,141.31 440.01,138.82 440.06,136.27 440.10,133.66 440.14,131.02 440.19,128.39 440.23,125.80 440.27,123.29 440.32,120.92 440.36,118.73 440.40,116.77 440.45,115.11 440.49,113.80 440.53,112.87 440.58,112.36 440.62,112.28 440.66,112.65 440.71,113.45 440.75,114.64 440.80,116.19 440.84,118.06 440.88,120.18 440.93,122.50 440.97,124.97 441.01,127.54 441.06,130.16 441.10,132.81 441.14,135.43 441.19,138.01 441.23,140.53 441.27,142.97 441.32,145.31 441.36,147.55 441.40,149.68 441.45,151.69 441.49,153.59 441.54,155.38 441.58,157.05 441.62,158.60 441.67,160.05 441.71,161.39 441.75,162.63 441.80,163.77 441.84,164.81 441.88,165.74 441.93,166.34 441.97,166.90 442.01,167.63 442.06,168.76 442.10,170.68 442.15,171.73 442.19,172.13 442.23,173.08 442.28,173.69 442.32,174.16 442.36,174.55 442.41,175.04 442.45,175.46 442.49,175.83 442.54,176.15 442.58,173.93 442.62,176.55 442.67,176.86 442.71,177.16 442.75,177.21 442.80,177.47 442.84,177.47 442.89,177.69 442.93,177.92 442.97,177.05 443.02,177.07 443.06,175.04 443.10,178.09 443.15,178.16 443.19,172.89 443.23,178.31 443.28,178.07 443.32,177.04 443.36,176.28 443.41,178.34 443.45,178.21 443.49,178.34 443.54,177.87 443.58,178.11 443.63,173.86 443.67,176.04 443.71,177.80 443.76,171.44 443.80,174.55 443.84,176.48 443.89,172.50 443.93,174.22 443.97,176.80 444.02,171.72 444.06,167.96 444.10,174.53 444.15,171.33 444.19,168.70 444.23,169.36 444.28,168.19 444.32,170.36 444.37,167.80 444.41,170.09 444.45,170.27 444.50,169.53 444.54,170.18 444.58,169.76 444.63,169.26 444.67,168.72 444.71,167.70 444.76,166.85 444.80,165.68 444.84,164.74 444.89,163.70 444.93,162.57 444.98,161.34 445.02,160.01 445.06,158.58 445.11,157.02 445.15,155.35 445.19,153.56 445.24,151.65 445.28,149.61 445.32,147.45 445.37,145.17 445.41,142.77 445.45,140.26 445.50,137.65 445.54,134.95 445.58,132.19 445.63,129.38 445.67,126.55 445.72,123.74 445.76,120.99 445.80,118.34 445.85,115.86 445.89,113.59 445.93,111.59 445.98,109.93 446.02,108.65 446.06,107.79 446.11,107.40 446.15,107.47 446.19,108.02 446.24,109.01 446.28,110.41 446.32,112.19 446.37,114.27 446.41,116.61 446.46,119.15 446.50,121.83 446.54,124.60 446.59,127.41 446.63,130.23 446.67,133.02 446.72,135.76 446.76,138.42 446.80,140.99 446.85,143.46 446.89,145.81 446.93,148.04 446.98,150.16 447.02,152.14 447.06,154.01 447.11,155.75 447.15,157.37 447.20,158.88 447.24,160.27 447.28,161.56 447.33,162.74 447.37,163.83 447.41,164.83 447.46,165.77 447.50,166.93 447.54,167.46 447.59,167.84 447.63,169.27 447.67,168.21 447.72,171.33 447.76,172.02 447.80,171.09 447.85,169.24 447.89,168.76 447.94,170.08 447.98,167.60 448.02,169.21 448.07,170.30 448.11,166.86 448.15,169.03 448.20,171.26 448.24,168.78 448.28,171.66 448.33,166.82 448.37,169.71 448.41,173.16 448.46,166.11 448.50,168.08 448.55,170.14 448.59,168.47 448.63,167.14 448.68,168.69 448.72,167.89 448.76,165.72 448.81,169.14 448.85,168.08 448.89,163.73 448.94,168.84 448.98,169.95 449.02,168.38 449.07,166.62 449.11,171.16 449.15,170.18 449.20,171.31 449.24,166.02 449.29,167.22 449.33,169.06 449.37,166.93 449.42,171.86 449.46,169.83 449.50,166.86 449.55,164.00 449.59,168.82 449.63,164.56 449.68,165.13 449.72,164.64 449.76,163.61 449.81,165.38 449.85,161.45 449.89,164.51 449.94,163.49 449.98,165.55 450.03,165.35 450.07,166.54 450.11,164.39 450.16,164.35 450.20,165.78 450.24,165.70 450.29,165.02 450.33,164.06 450.37,163.02 450.42,161.87 450.46,160.63 450.50,159.28 450.55,157.81 450.59,156.23 450.63,154.52 450.68,152.69 450.72,150.72 450.77,148.62 450.81,146.39 450.85,144.03 450.90,141.54 450.94,138.92 450.98,136.19 451.03,133.36 451.07,130.44 451.11,127.45 451.16,124.43 451.20,121.40 451.24,118.40 451.29,115.48 451.33,112.69 451.38,110.09 451.42,107.75 451.46,105.72 451.51,104.06 451.55,102.84 451.59,102.09 451.64,101.83 451.68,102.08 451.72,102.83 451.77,104.05 451.81,105.69 451.85,107.72 451.90,110.06 451.94,112.65 451.98,115.43 452.03,118.35 452.07,121.34 452.12,124.37 452.16,127.39 452.20,130.37 452.25,133.28 452.29,136.11 452.33,138.83 452.38,141.44 452.42,143.93 452.46,146.28 452.51,148.51 452.55,150.60 452.59,152.56 452.64,154.38 452.68,156.08 452.72,157.66 452.77,159.12 452.81,160.47 452.86,161.70 452.90,162.84 452.94,163.88 452.99,164.83 453.03,165.71 453.07,166.47 453.12,167.79 453.16,167.65 453.20,167.04 453.25,168.19 453.29,166.67 453.33,167.06 453.38,166.62 453.42,168.43 453.46,167.50 453.51,169.13 453.55,168.91 453.60,168.84 453.64,167.38 453.68,165.88 453.73,171.89 453.77,166.90 453.81,175.00 453.86,175.08 453.90,167.70 453.94,169.09 453.99,171.56 454.03,171.73 454.07,172.33 454.12,176.35 454.16,171.10 454.20,173.76 454.25,176.63 454.29,171.72 454.34,171.31 454.38,170.09 454.42,170.90 454.47,174.04 454.51,172.18 454.55,174.05 454.60,173.93 454.64,170.55 454.68,175.52 454.73,175.97 454.77,175.92 454.81,175.70 454.86,175.35 454.90,172.86 454.95,174.77 454.99,174.62 455.03,174.30 455.08,172.99 455.12,173.63 455.16,170.94 455.21,172.67 455.25,171.69 455.29,171.02 455.34,170.97 455.38,169.02 455.42,167.91 455.47,166.90 455.51,167.61 455.55,166.11 455.60,165.48 455.64,164.58 455.69,163.59 455.73,162.52 455.77,161.36 455.82,160.10 455.86,158.74 455.90,157.29 455.95,155.72 455.99,154.06 456.03,152.28 456.08,150.40 456.12,148.42 456.16,146.33 456.21,144.16 456.25,141.90 456.29,139.57 456.34,137.19 456.38,134.77 456.43,132.35 456.47,129.96 456.51,127.62 456.56,125.40 456.60,123.32 456.64,121.44 456.69,119.81 456.73,118.48 456.77,117.49 456.82,116.87 456.86,116.64 456.90,116.82 456.95,117.39 456.99,118.33 457.03,119.61 457.08,121.19 457.12,123.02 457.17,125.05 457.21,127.22 457.25,129.50 457.30,131.84 457.34,134.20 457.38,136.56 457.43,138.88 457.47,141.14 457.51,143.34 457.56,145.44 457.60,147.45 457.64,149.36 457.69,151.16 457.73,152.84 457.78,154.42 457.82,155.88 457.86,157.23 457.91,158.47 457.95,159.60 457.99,160.62 458.04,161.54 458.08,162.35 458.12,163.07 458.17,163.69 458.21,164.21 458.25,164.64 458.30,164.98 458.34,165.23 458.38,165.38 458.43,165.45 458.47,165.43 458.52,165.31 458.56,165.11 458.60,164.81 458.65,164.43 458.69,163.95 458.73,163.37 458.78,162.71 458.82,161.96 458.86,161.11 458.91,160.19 458.95,159.19 458.99,158.12 459.04,156.99 459.08,155.82 459.12,154.64 459.17,153.47 459.21,152.33 459.26,151.27 459.30,150.34 459.34,149.56 459.39,148.99 459.43,148.65 459.47,148.57 459.52,148.75 459.56,149.19 459.60,149.86 459.65,150.74 459.69,151.78 459.73,152.94 459.78,154.19 459.82,155.48 459.86,156.78 459.91,158.07 459.95,159.33 460.00,160.54 460.04,161.69 460.08,162.78 460.13,163.79 460.17,164.73 460.21,165.59 460.26,166.00 460.30,166.79 460.34,167.31 460.39,167.68 460.43,167.72 460.47,167.47 460.52,168.93 460.56,167.41 460.60,169.94 460.65,171.22 460.69,170.87 460.74,170.85 460.78,167.76 460.82,168.60 460.87,169.19 460.91,169.88 460.95,169.20 461.00,171.53 461.04,165.47 461.08,168.43 461.13,167.59 461.17,167.28 461.21,169.16 461.26,169.22 461.30,170.36 461.35,169.01 461.39,169.12 461.43,171.44 461.48,168.59 461.52,170.57 461.56,169.40 461.61,166.68 461.65,167.60 461.69,170.68 461.74,169.47 461.78,169.30 461.82,168.26 461.87,167.84 461.91,168.23 461.95,167.60 462.00,166.91 462.04,166.19 462.09,165.46 462.13,164.83 462.17,164.14 462.22,163.38 462.26,162.55 462.30,161.65 462.35,160.66 462.39,159.58 462.43,158.40 462.48,157.10 462.52,155.70 462.56,154.16 462.61,152.49 462.65,150.67 462.69,148.70 462.74,146.58 462.78,144.28 462.83,141.80 462.87,139.15 462.91,136.31 462.96,133.28 463.00,130.07 463.04,126.66 463.09,123.07 463.13,119.30 463.17,115.37 463.22,111.30 463.26,107.09 463.30,102.79 463.35,98.44 463.39,94.07 463.43,89.74 463.48,85.52 463.52,81.49 463.57,77.72 463.61,74.31 463.65,71.33 463.70,68.88 463.74,67.04 463.78,65.85 463.83,65.36 463.87,65.58 463.91,66.49 463.96,68.06 464.00,70.23 464.04,72.92 464.09,76.06 464.13,79.54 464.18,83.29 464.22,87.21 464.26,91.24 464.31,95.30 464.35,99.35 464.39,103.33 464.44,107.20 464.48,110.94 464.52,114.52 464.57,117.93 464.61,121.15 464.65,124.17 464.70,126.98 464.74,129.59 464.78,132.00 464.83,134.19 464.87,136.19 464.92,137.98 464.96,139.57 465.00,140.97 465.05,142.18 465.09,143.21 465.13,144.06 465.18,144.73 465.22,145.23 465.26,145.55 465.31,145.71 465.35,145.70 465.39,145.52 465.44,145.17 465.48,144.64 465.52,143.94 465.57,143.05 465.61,141.97 465.66,140.70 465.70,139.22 465.74,137.53 465.79,135.62 465.83,133.47 465.87,131.08 465.92,128.45 465.96,125.55 466.00,122.38 466.05,118.94 466.09,115.22 466.13,111.21 466.18,106.91 466.22,102.33 466.26,97.47 466.31,92.35 466.35,86.96 466.40,81.35 466.44,75.53 466.48,69.55 466.53,63.46 466.57,57.31 466.61,51.19 466.66,45.18 466.70,39.39 466.74,33.93 466.79,28.92 466.83,24.50 466.87,20.77 466.92,17.87 466.96,15.87 467.00,14.84 467.05,14.81 467.09,15.78 467.14,17.69 467.18,20.47 467.22,24.02 467.27,28.21 467.31,32.92 467.35,38.02 467.40,43.38 467.44,48.89 467.48,54.44 467.53,59.96 467.57,65.37 467.61,70.61 467.66,75.63 467.70,80.41 467.75,84.90 467.79,89.11 467.83,93.01 467.88,96.61 467.92,99.90 467.96,102.91 468.01,105.64 468.05,108.10 468.09,110.34 468.14,112.37 468.18,114.22 468.22,115.93 468.27,117.54 468.31,119.08 468.35,120.59 468.40,122.10 468.44,123.63 468.49,125.22 468.53,126.86 468.57,128.57 468.62,130.34 468.66,132.17 468.70,134.04 468.75,135.94 468.79,137.86 468.83,139.77 468.88,141.67 468.92,143.53 468.96,145.36 469.01,147.13 469.05,148.84 469.09,150.48 469.14,152.06 469.18,153.56 469.23,155.00 469.27,156.36 469.31,157.64 469.36,158.86 469.40,160.00 469.44,161.08 469.49,162.09 469.53,163.04 469.57,163.93 469.62,164.76 469.66,165.53 469.70,166.12 469.75,166.06 469.79,166.38 469.83,166.96 469.88,167.36 469.92,169.33 469.97,167.78 470.01,167.38 470.05,171.63 470.10,172.26 470.14,171.21 470.18,173.83 470.23,174.00 470.27,173.66 470.31,175.08 470.36,175.48 470.40,171.58 470.44,175.67 470.49,171.25 470.53,174.56 470.58,170.59 470.62,172.68 470.66,174.54 470.71,169.01 470.75,170.02 470.79,171.04 470.84,163.26 470.88,164.21 470.92,172.11 470.97,169.64 471.01,170.97 471.05,172.91 471.10,169.88 471.14,169.86 471.18,169.90 471.23,177.50 471.27,173.39 471.32,172.31 471.36,180.62 471.40,179.37 471.45,181.03 471.49,178.44 471.53,181.23 471.58,181.24 471.62,181.36 471.66,181.33 471.71,181.43 471.75,181.45 471.79,181.79 471.84,181.77 471.88,181.95 471.92,182.05 471.97,182.08 472.01,182.08 472.06,182.41 472.10,182.46 472.14,182.36 472.19,182.25 472.23,182.44 472.27,182.51 472.32,182.66 472.36,182.61 472.40,182.85 472.45,182.85 472.49,183.03 472.53,182.98 472.58,182.79 472.62,183.17 472.66,178.93 472.71,180.89 472.75,183.31 472.80,175.41 472.84,172.36 472.88,183.38 472.93,183.15 472.97,181.31 473.01,179.38 473.06,183.35 473.10,178.34 473.14,180.00 473.19,181.91 473.23,183.49 473.27,183.54 473.32,182.81 473.36,183.67 473.40,180.72 473.45,182.80 473.49,183.50 473.54,171.84 473.58,168.99 473.62,183.00 473.67,175.74 473.71,179.90 473.75,172.69 473.80,178.33 473.84,172.95 473.88,176.45 473.93,171.90 473.97,180.74 474.01,172.36 474.06,173.08 474.10,172.27 474.15,173.11 474.19,168.78 474.23,169.31 474.28,176.46 474.32,174.65 474.36,178.43 474.41,178.36 474.45,171.50 474.49,182.79 474.54,177.76 474.58,176.83 474.62,181.69 474.67,181.90 474.71,182.78 474.75,182.57 474.80,182.58 474.84,182.65 474.89,182.49 474.93,182.40 474.97,182.38 475.02,182.12 475.06,182.02 475.10,181.86 475.15,181.66 475.19,181.84 475.23,181.67 475.28,181.40 475.32,181.20 475.36,180.95 475.41,180.78 475.45,180.64 475.49,180.41 475.54,180.21 475.58,177.41 475.63,179.70 475.67,179.23 475.71,179.05 475.76,178.70 475.80,178.24 475.84,177.45 475.89,177.48 475.93,176.89 475.97,176.37 476.02,175.72 476.06,175.02 476.10,174.19 476.15,172.12 476.19,170.51 476.23,171.47 476.28,170.31 476.32,166.76 476.37,167.15 476.41,166.17 476.45,164.84 476.50,163.54 476.54,162.12 476.58,160.59 476.63,158.93 476.67,157.14 476.71,155.22 476.76,153.18 476.80,151.01 476.84,148.72 476.89,146.32 476.93,143.82 476.98,141.25 477.02,138.62 477.06,135.97 477.11,133.34 477.15,130.77 477.19,128.32 477.24,126.06 477.28,124.05 477.32,122.36 477.37,121.04 477.41,120.17 477.45,119.76 477.50,119.85 477.54,120.42 477.58,121.45 477.63,122.90 477.67,124.72 477.72,126.82 477.76,129.16 477.80,131.66 477.85,134.26 477.89,136.91 477.93,139.56 477.98,142.18 478.02,144.74 478.06,147.21 478.11,149.58 478.15,151.83 478.19,153.97 478.24,155.97 478.28,157.85 478.32,159.60 478.37,161.22 478.41,162.72 478.46,164.11 478.50,165.37 478.54,166.44 478.59,166.37 478.63,167.50 478.67,167.96 478.72,167.17 478.76,170.44 478.80,167.24 478.85,173.11 478.89,168.31 478.93,166.53 478.98,169.76 479.02,171.71 479.06,169.62 479.11,165.18 479.15,165.51 479.20,165.90 479.24,167.73 479.28,164.81 479.33,166.64 479.37,170.37 479.41,169.26 479.46,163.84 479.50,171.96 479.54,174.74 479.59,176.15 479.63,179.11 479.67,178.05 479.72,170.55 479.76,173.76 479.81,175.12 479.85,175.09 479.89,180.79 479.94,180.50 479.98,179.21 480.02,174.89 480.07,181.33 480.11,182.59 480.15,182.16 480.20,173.39 480.24,177.99 480.28,181.11 480.33,174.56 480.37,171.71 480.41,175.70 480.46,173.71 480.50,173.38 480.55,174.20 480.59,168.45 480.63,163.33 480.68,162.73 480.72,164.47 480.76,168.81 480.81,163.54 480.85,160.97 480.89,161.62 480.94,168.51 480.98,171.28 481.02,166.61 481.07,171.39 481.11,168.95 481.15,172.79 481.20,174.09 481.24,179.61 481.29,182.06 481.33,181.66 481.37,181.61 481.42,181.32 481.46,181.07 481.50,180.92 481.55,180.62 481.59,180.14 481.63,179.84 481.68,179.35 481.72,179.15 481.76,178.49 481.81,177.90 481.85,177.24 481.89,176.43 481.94,175.58 481.98,174.59 482.03,173.61 482.07,172.35 482.11,171.08 482.16,169.15 482.20,168.11 482.24,166.39 482.29,164.84 482.33,163.38 482.37,161.82 482.42,160.15 482.46,158.39 482.50,156.55 482.55,154.64 482.59,152.68 482.63,150.72 482.68,148.78 482.72,146.92 482.77,145.19 482.81,143.65 482.85,142.37 482.90,141.41 482.94,140.81 482.98,140.62 483.03,140.83 483.07,141.45 483.11,142.44 483.16,143.74 483.20,145.30 483.24,147.06 483.29,148.94 483.33,150.91 483.38,152.90 483.42,154.87 483.46,156.81 483.51,158.68 483.55,160.46 483.59,162.15 483.64,163.74 483.68,165.22 483.72,166.43 483.77,165.82 483.81,168.58 483.85,169.81 483.90,171.51 483.94,171.38 483.98,173.49 484.03,176.48 484.07,172.30 484.12,174.96 484.16,172.97 484.20,176.57 484.25,179.42 484.29,177.45 484.33,181.07 484.38,177.85 484.42,181.71 484.46,180.97 484.51,182.26 484.55,182.72 484.59,180.48 484.64,181.04 484.68,181.65 484.72,177.06 484.77,176.80 484.81,183.94 484.86,180.54 484.90,178.66 484.94,172.01 484.99,178.11 485.03,180.07 485.07,177.65 485.12,171.30 485.16,184.21 485.20,169.55 485.25,167.59 485.29,171.87 485.33,165.90 485.38,173.07 485.42,174.67 485.46,177.36 485.51,172.69 485.55,171.77 485.60,174.61 485.64,182.88 485.68,179.29 485.73,179.39 485.77,182.06 485.81,179.98 485.86,186.35 485.90,186.51 485.94,186.38 485.99,186.26 486.03,186.56 486.07,186.34 486.12,186.51 486.16,186.45 486.21,186.77 486.25,186.67 486.29,186.76 486.34,186.69 486.38,186.86 486.42,185.81 486.47,186.65 486.51,186.64 486.55,186.90 486.60,182.02 486.64,181.26 486.68,178.20 486.73,180.83 486.77,170.47 486.81,175.57 486.86,173.06 486.90,167.34 486.95,166.49 486.99,158.28 487.03,158.67 487.08,161.44 487.12,153.59 487.16,155.40 487.21,160.22 487.25,163.98 487.29,166.98 487.34,163.36 487.38,166.92 487.42,167.65 487.47,169.35 487.51,171.40 487.55,176.94 487.60,173.43 487.64,175.61 487.69,185.09 487.73,177.63 487.77,170.18 487.82,173.04 487.86,176.13 487.90,176.18 487.95,172.07 487.99,175.52 488.03,180.88 488.08,180.62 488.12,165.29 488.16,177.79 488.21,177.39 488.25,177.85 488.29,178.21 488.34,177.63 488.38,181.17 488.43,184.02 488.47,183.78 488.51,183.58 488.56,176.37 488.60,176.30 488.64,180.77 488.69,176.63 488.73,186.70 488.77,187.48 488.82,187.67 488.86,182.31 488.90,185.03 488.95,187.63 488.99,186.47 489.03,187.69 489.08,187.92 489.12,186.88 489.17,187.86 489.21,187.99 489.25,187.64 489.30,186.25 489.34,187.66 489.38,186.98 489.43,183.06 489.47,179.74 489.51,187.76 489.56,181.51 489.60,184.34 489.64,184.03 489.69,179.27 489.73,182.75 489.78,187.98 489.82,182.31 489.86,187.92 489.91,184.67 489.95,187.87 489.99,187.94 490.04,187.79 490.08,185.65 490.12,187.66 490.17,181.81 490.21,187.89 490.25,184.81 490.30,178.76 490.34,187.87 490.38,186.24 490.43,185.28 490.47,185.65 490.52,186.33 490.56,187.75 490.60,187.72 490.65,187.98 490.69,188.16 490.73,187.98 490.78,187.92 490.82,188.12 490.86,182.42 490.91,188.11 490.95,187.81 490.99,188.01 491.04,188.00 491.08,185.53 491.12,187.94 491.17,183.19 491.21,187.38 491.26,186.49 491.30,182.98 491.34,182.83 491.39,188.17 491.43,180.52 491.47,183.11 491.52,173.22 491.56,182.11 491.60,179.27 491.65,184.25 491.69,177.01 491.73,181.11 491.78,177.15 491.82,173.42 491.86,182.46 491.91,185.08 491.95,176.43 492.00,174.24 492.04,171.95 492.08,168.52 492.13,176.02 492.17,175.78 492.21,179.08 492.26,173.18 492.30,170.94 492.34,176.99 492.39,173.50 492.43,180.74 492.47,181.22 492.52,173.93 492.56,174.64 492.61,179.81 492.65,184.69 492.69,178.73 492.74,184.39 492.78,175.90 492.82,178.94 492.87,180.19 492.91,175.30 492.95,162.83 493.00,170.62 493.04,169.77 493.08,176.98 493.13,168.71 493.17,178.77 493.21,174.86 493.26,171.85 493.30,164.12 493.35,177.78 493.39,173.05 493.43,177.34 493.48,185.12 493.52,174.25 493.56,166.42 493.61,173.62 493.65,180.41 493.69,177.03 493.74,173.95 493.78,180.68 493.82,175.47 493.87,179.46 493.91,177.44 493.95,180.50 494.00,179.88 494.04,180.37 494.09,187.38 494.13,179.48 494.17,188.11 494.22,188.31 494.26,184.05 494.30,187.88 494.35,188.17 494.39,187.99 494.43,188.22 494.48,188.21 494.52,188.10 494.56,188.26 494.61,188.40 494.65,188.05 494.69,188.26 494.74,188.42 494.78,187.97 494.83,188.32 494.87,188.11 494.91,184.35 494.96,179.71 495.00,180.78 495.04,183.68 495.09,187.89 495.13,185.02 495.17,188.43 495.22,187.99 495.26,187.97 495.30,183.77 495.35,185.87 495.39,188.21 495.43,184.18 495.48,178.96 495.52,181.36 495.57,185.84 495.61,182.39 495.65,182.14 495.70,177.92 495.74,179.30 495.78,183.20 495.83,178.03 495.87,188.45 495.91,188.00 495.96,178.92 496.00,188.24 496.04,175.32 496.09,180.76 496.13,181.24 496.18,176.23 496.22,172.75 496.26,181.49 496.31,180.00 496.35,186.52 496.39,188.10 496.44,188.23 496.48,176.83 496.52,184.74 496.57,175.96 496.61,188.05 496.65,186.83 496.70,182.06 496.74,178.23 496.78,186.95 496.83,185.40 496.87,186.87 496.92,175.98 496.96,183.21 497.00,183.84 497.05,188.25 497.09,188.34 497.13,188.48 497.18,178.42 497.22,188.40 497.26,188.07 497.31,188.20 497.35,188.19 497.39,188.11 497.44,188.23 497.48,179.29 497.52,184.79 497.57,188.33 497.61,172.87 497.66,183.79 497.70,173.53 497.74,182.49 497.79,181.15 497.83,178.58 497.87,173.96 497.92,181.02 497.96,173.26 498.00,183.68 498.05,168.79 498.09,175.91 498.13,175.64 498.18,175.63 498.22,171.97 498.26,168.97 498.31,169.29 498.35,175.45 498.40,159.28 498.44,170.39 498.48,171.15 498.53,171.59 498.57,163.89 498.61,171.00 498.66,169.04 498.70,161.02 498.74,164.55 498.79,169.11 498.83,174.22 498.87,170.56 498.92,168.62 498.96,176.31 499.01,176.14 499.05,171.41 499.09,176.93 499.14,170.69 499.18,185.17 499.22,183.42 499.27,186.52 499.31,183.24 499.35,188.56 499.40,183.12 499.44,179.95 499.48,188.34 499.53,187.27 499.57,188.48 499.61,183.55 499.66,188.49 499.70,187.41 499.75,183.49 499.79,188.49 499.83,179.69 499.88,182.56 499.92,179.06 499.96,181.27 500.01,184.54 500.05,175.47 500.09,177.54 500.14,177.79 500.18,180.59 500.22,177.13 500.27,182.38 500.31,180.64 500.35,175.20 500.40,185.33 500.44,182.73 500.49,187.60 500.53,185.10 500.57,188.04 500.62,183.80 500.66,188.59 500.70,188.31 500.75,179.11 500.79,184.81 500.83,176.59 500.88,184.40 500.92,187.39 500.96,181.66 501.01,178.65 501.05,180.65 501.09,185.40 501.14,186.35 501.18,170.41 501.23,182.10 501.27,176.41 501.31,174.56 501.36,175.25 501.40,188.15 501.44,187.39 501.49,186.72 501.53,178.32 501.57,183.51 501.62,187.15 501.66,178.55 501.70,177.66 501.75,180.67 501.79,186.79 501.83,178.86 501.88,184.24 501.92,180.85 501.97,179.14 502.01,179.76 502.05,182.25 502.10,182.37 502.14,179.78 502.18,183.02 502.23,188.22 502.27,188.20 502.31,185.19 502.36,180.55 502.40,187.31 502.44,187.12 502.49,181.48 502.53,187.45 502.58,178.49 502.62,183.21 502.66,178.56 502.71,177.23 502.75,176.68 502.79,173.65 502.84,180.36 502.88,183.95 502.92,181.86 502.97,174.02 503.01,180.79 503.05,188.51 503.10,188.46 503.14,188.46 503.18,188.43 503.23,188.49 503.27,188.52 503.32,188.47 503.36,188.56 503.40,185.90 503.45,188.51 503.49,188.48 503.53,188.18 503.58,185.00 503.62,188.40 503.66,185.58 503.71,182.47 503.75,180.66 503.79,176.58 503.84,175.62 503.88,180.51 503.92,186.62 503.97,176.16 504.01,169.70 504.06,169.71 504.10,182.90 504.14,176.73 504.19,168.28 504.23,167.51 504.27,168.56 504.32,167.47 504.36,170.85 504.40,164.15 504.45,157.82 504.49,165.09 504.53,172.95 504.58,168.39 504.62,163.01 504.66,163.19 504.71,169.70 504.75,170.80 504.80,166.83 504.84,167.19 504.88,168.62 504.93,170.33 504.97,171.27 505.01,175.28 505.06,181.62 505.10,179.43 505.14,176.27 505.19,171.65 505.23,179.93 505.27,167.00 505.32,177.64 505.36,181.12 505.41,174.54 505.45,172.98 505.49,172.19 505.54,175.68 505.58,177.73 505.62,182.64 505.67,181.08 505.71,181.46 505.75,187.16 505.80,183.09 505.84,188.37 505.88,188.32 505.93,188.18 505.97,188.22 506.01,188.23 506.06,188.18 506.10,188.24 506.15,188.41 506.19,187.50 506.23,188.43 506.28,188.41 506.32,188.67 506.36,188.38 506.41,188.37 506.45,188.48 506.49,188.47 506.54,188.38 506.58,187.17 506.62,188.43 506.67,188.45 506.71,188.31 506.75,188.17 506.80,188.39 506.84,188.60 506.89,188.28 506.93,188.63 506.97,188.18 507.02,184.34 507.06,185.73 507.10,188.56 507.15,187.00 507.19,188.64 507.23,188.40 507.28,175.37 507.32,188.44 507.36,187.94 507.41,184.91 507.45,184.87 507.49,187.68 507.54,188.54 507.58,187.41 507.63,188.21 507.67,188.34 507.71,186.40 507.76,188.18 507.80,184.74 507.84,181.76 507.89,179.11 507.93,178.74 507.97,187.06 508.02,180.14 508.06,178.56 508.10,171.71 508.15,176.07 508.19,166.91 508.23,171.01 508.28,164.60 508.32,169.50 508.37,169.30 508.41,174.83 508.45,172.17 508.50,163.96 508.54,165.28 508.58,184.30 508.63,164.03 508.67,168.29 508.71,180.82 508.76,175.20 508.80,175.21 508.84,188.56 508.89,181.17 508.93,179.81 508.98,181.10 509.02,186.01 509.06,179.50 509.11,175.55 509.15,175.30 509.19,181.49 509.24,165.23 509.28,180.56 509.32,178.57 509.37,173.67 509.41,179.28 509.45,180.71 509.50,182.01 509.54,181.83 509.58,172.17 509.63,186.53 509.67,188.38 509.72,188.32 509.76,188.21 509.80,188.51 509.85,188.26 509.89,188.61 509.93,188.31 509.98,188.59 510.02,188.39 510.06,188.68 510.11,188.04 510.15,188.57 510.19,188.31 510.24,188.65 510.28,188.47 510.32,180.45 510.37,187.17 510.41,185.10 510.46,186.60 510.50,183.26 510.54,184.67 510.59,186.02 510.63,187.02 510.67,188.46 510.72,184.71 510.76,188.22 510.80,185.47 510.85,181.41 510.89,188.44 510.93,187.01 510.98,178.18 511.02,183.64 511.06,180.88 511.11,178.90 511.15,172.25 511.20,174.72 511.24,170.82 511.28,163.91 511.33,166.19 511.37,165.19 511.41,166.63 511.46,167.42 511.50,171.91 511.54,165.71 511.59,159.70 511.63,156.48 511.67,168.16 511.72,166.24 511.76,165.02 511.81,167.14 511.85,171.70 511.89,182.16 511.94,174.84 511.98,177.26 512.02,177.05 512.07,177.62 512.11,181.41 512.15,178.30 512.20,183.48 512.24,187.94 512.28,180.61 512.33,183.37 512.37,181.72 512.41,179.33 512.46,188.26 512.50,185.13 512.55,188.50 512.59,182.08 512.63,188.41 512.68,188.22 512.72,174.25 512.76,184.03 512.81,180.36 512.85,174.85 512.89,171.37 512.94,173.80 512.98,175.37 513.02,164.02 513.07,173.78 513.11,176.22 513.15,171.00 513.20,175.27 513.24,171.40 513.29,177.78 513.33,172.53 513.37,183.10 513.42,175.93 513.46,174.82 513.50,178.39 513.55,180.65 513.59,171.27 513.63,182.46 513.68,187.16 513.72,184.22 513.76,178.91 513.81,187.75 513.85,188.30 513.89,187.67 513.94,188.52 513.98,187.50 514.03,188.48 514.07,178.72 514.11,185.33 514.16,181.47 514.20,183.41 514.24,178.91 514.29,182.83 514.33,182.61 514.37,183.95 514.42,181.80 514.46,174.50 514.50,173.32 514.55,180.05 514.59,184.53 514.64,173.14 514.68,181.23 514.72,180.19 514.77,177.86 514.81,171.73 514.85,173.97 514.90,176.33 514.94,181.25 514.98,173.70 515.03,168.03 515.07,172.22 515.11,169.61 515.16,172.33 515.20,174.00 515.24,172.57 515.29,173.84 515.33,163.35 515.38,174.06 515.42,175.99 515.46,176.21 515.51,175.53 515.55,175.71 515.59,173.29 515.64,173.44 515.68,175.80 515.72,185.76 515.77,172.36 515.81,174.25 515.85,168.33 515.90,185.07 515.94,170.06 515.98,183.67 516.03,172.81 516.07,174.61 516.12,169.42 516.16,183.56 516.20,171.59 516.25,183.73 516.29,179.62 516.33,181.82 516.38,177.70 516.42,183.67 516.46,182.30 516.51,187.21 516.55,186.95 516.59,188.21 516.64,183.80 516.68,188.35 516.72,188.24 516.77,182.43 516.81,183.23 516.86,177.44 516.90,184.60 516.94,180.20 516.99,186.19 517.03,178.49 517.07,176.00 517.12,176.02 517.16,188.24 517.20,188.22 517.25,188.39 517.29,178.37 517.33,177.72 517.38,185.29 517.42,187.81 517.46,186.73 517.51,188.07 517.55,186.54 517.60,187.25 517.64,180.15 517.68,174.17 517.73,184.28 517.77,180.20 517.81,177.34 517.86,178.66 517.90,187.12 517.94,185.00 517.99,182.73 518.03,185.22 518.07,185.56 518.12,188.44 518.16,188.27 518.21,188.17 518.25,188.29 518.29,188.39 518.34,186.98 518.38,188.48 518.42,188.24 518.47,188.20 518.51,188.24 518.55,188.46 518.60,184.10 518.64,188.47 518.68,188.47 518.73,183.61 518.77,188.15 518.81,181.79 518.86,188.22 518.90,180.20 518.95,181.48 518.99,178.12 519.03,184.57 519.08,182.72 519.12,181.32 519.16,184.88 519.21,187.15 519.25,183.70 519.29,176.08 519.34,179.80 519.38,177.92 519.42,179.65 519.47,171.76 519.51,182.03 519.55,180.83 519.60,176.59 519.64,179.95 519.69,179.11 519.73,177.87 519.77,184.40 519.82,185.25 519.86,182.54 519.90,175.35 519.95,167.90 519.99,184.40 520.03,177.95 520.08,188.04 520.12,180.72 520.16,178.61 520.21,179.70 520.25,185.95 520.29,181.62 520.34,172.29 520.38,178.74 520.43,182.20 520.47,178.21 520.51,182.76 520.56,181.43 520.60,181.32 520.64,181.00 520.69,183.28 520.73,180.26 520.77,188.23 520.82,188.07 520.86,181.15 520.90,187.54 520.95,185.96 520.99,186.71 521.04,185.52 521.08,186.73 521.12,179.35 521.17,177.79 521.21,179.55 521.25,172.95 521.30,166.31 521.34,178.09 521.38,163.83 521.43,169.90 521.47,168.41 521.51,165.24 521.56,163.15 521.60,166.46 521.64,165.45 521.69,174.79 521.73,175.67 521.78,175.69 521.82,173.71 521.86,177.60 521.91,178.89 521.95,171.45 521.99,176.05 522.04,181.55 522.08,170.37 522.12,170.54 522.17,170.98 522.21,186.41 522.25,181.89 522.30,181.44 522.34,176.00 522.38,174.66 522.43,175.30 522.47,180.85 522.52,173.69 522.56,169.64 522.60,178.49 522.65,174.17 522.69,178.43 522.73,186.96 522.78,181.09 522.82,179.45 522.86,175.13 522.91,173.84 522.95,180.16 522.99,182.60 523.04,183.03 523.08,181.15 523.12,183.57 523.17,183.97 523.21,182.38 523.26,186.74 523.30,183.20 523.34,186.46 523.39,186.38 523.43,186.33 523.47,186.42 523.52,186.17 523.56,185.99 523.60,185.77 523.65,185.97 523.69,185.84 523.73,185.51 523.78,185.50 523.82,185.44 523.86,183.31 523.91,182.12 523.95,181.25 524.00,184.41 524.04,176.75 524.08,180.37 524.13,179.61 524.17,174.01 524.21,178.63 524.26,171.45 524.30,171.93 524.34,171.74 524.39,173.50 524.43,174.50 524.47,170.69 524.52,175.76 524.56,171.16 524.61,175.28 524.65,169.57 524.69,173.55 524.74,171.93 524.78,178.11 524.82,176.17 524.87,176.69 524.91,175.47 524.95,174.28 525.00,173.04 525.04,171.62 525.08,170.06 525.13,168.35 525.17,166.49 525.21,164.77 525.26,163.17 525.30,161.44 525.35,159.59 525.39,157.62 525.43,155.55 525.48,153.39 525.52,151.16 525.56,148.89 525.61,146.63 525.65,144.41 525.69,142.30 525.74,140.36 525.78,138.67 525.82,137.31 525.87,136.32 525.91,135.78 525.95,135.70 526.00,136.09 526.04,136.93 526.09,138.18 526.13,139.77 526.17,141.63 526.22,143.69 526.26,145.88 526.30,148.14 526.35,150.41 526.39,152.65 526.43,154.84 526.48,156.94 526.52,158.95 526.56,160.84 526.61,162.61 526.65,164.26 526.69,165.77 526.74,166.17 526.78,165.18 526.83,167.36 526.87,166.76 526.91,169.55 526.96,167.49 527.00,168.17 527.04,167.27 527.09,168.28 527.13,169.56 527.17,167.72 527.22,173.00 527.26,175.46 527.30,169.99 527.35,172.68 527.39,178.68 527.44,180.53 527.48,180.96 527.52,169.33 527.57,174.80 527.61,176.30 527.65,174.43 527.70,174.66 527.74,167.37 527.78,174.13 527.83,174.50 527.87,177.72 527.91,173.47 527.96,176.31 528.00,178.00 528.04,185.31 528.09,182.15 528.13,185.80 528.18,181.45 528.22,185.80 528.26,185.87 528.31,185.91 528.35,185.90 528.39,186.20 528.44,186.51 528.48,186.35 528.52,186.34 528.57,186.51 528.61,186.77 528.65,186.47 528.70,181.79 528.74,177.01 528.78,186.90 528.83,185.48 528.87,187.02 528.92,186.75 528.96,184.94 529.00,184.29 529.05,187.19 529.09,184.73 529.13,186.92 529.18,187.07 529.22,184.71 529.26,187.49 529.31,187.17 529.35,187.36 529.39,187.13 529.44,187.46 529.48,187.59 529.52,187.27 529.57,187.45 529.61,187.63 529.66,187.30 529.70,184.53 529.74,187.45 529.79,184.82 529.83,187.74 529.87,187.87 529.92,187.41 529.96,182.28 530.00,187.15 530.05,187.59 530.09,179.36 530.13,187.30 530.18,187.11 530.22,187.02 530.26,187.95 530.31,187.62 530.35,188.04 530.40,188.06 530.44,186.86 530.48,187.14 530.53,187.73 530.57,187.81 530.61,180.22 530.66,185.49 530.70,187.13 530.74,188.16 530.79,188.19 530.83,184.85 530.87,187.73 530.92,186.47 530.96,186.33 531.01,181.45 531.05,177.34 531.09,177.95 531.14,176.64 531.18,171.85 531.22,167.77 531.27,182.70 531.31,172.29 531.35,167.12 531.40,162.57 531.44,172.75 531.48,163.14 531.53,154.54 531.57,159.75 531.61,158.71 531.66,155.26 531.70,156.96 531.75,164.14 531.79,161.27 531.83,167.04 531.88,163.05 531.92,163.97 531.96,164.65 532.01,169.27 532.05,184.78 532.09,175.14 532.14,180.19 532.18,174.57 532.22,174.23 532.27,179.24 532.31,184.11 532.35,180.87 532.40,180.29 532.44,179.80 532.49,181.34 532.53,188.05 532.57,187.16 532.62,188.50 532.66,184.31 532.70,188.09 532.75,188.48 532.79,186.74 532.83,187.07 532.88,188.48 532.92,188.33 532.96,187.18 533.01,188.49 533.05,188.34 533.09,185.50 533.14,188.23 533.18,183.32 533.23,183.83 533.27,179.89 533.31,169.75 533.36,181.99 533.40,171.96 533.44,166.02 533.49,165.86 533.53,166.83 533.57,172.06 533.62,161.48 533.66,169.91 533.70,159.77 533.75,169.96 533.79,166.77 533.84,168.93 533.88,177.08 533.92,176.82 533.97,172.77 534.01,181.26 534.05,176.62 534.10,182.24 534.14,178.50 534.18,180.71 534.23,180.14 534.27,174.92 534.31,184.47 534.36,184.42 534.40,188.12 534.44,165.26 534.49,180.90 534.53,173.53 534.58,180.11 534.62,180.76 534.66,182.14 534.71,168.87 534.75,182.09 534.79,183.05 534.84,176.72 534.88,176.12 534.92,177.62 534.97,184.63 535.01,180.43 535.05,177.99 535.10,186.29 535.14,176.81 535.18,187.72 535.23,184.26 535.27,186.36 535.32,188.22 535.36,183.52 535.40,188.22 535.45,188.62 535.49,188.36 535.53,185.74 535.58,188.36 535.62,183.89 535.66,188.45 535.71,181.86 535.75,187.48 535.79,177.98 535.84,185.90 535.88,186.07 535.92,186.79 535.97,185.62 536.01,188.70 536.06,182.30 536.10,188.39 536.14,183.36 536.19,185.41 536.23,185.06 536.27,187.82 536.32,186.05 536.36,186.00 536.40,185.36 536.45,180.21 536.49,188.22 536.53,184.32 536.58,183.69 536.62,183.65 536.66,187.64 536.71,176.45 536.75,188.41 536.80,185.51 536.84,179.71 536.88,182.40 536.93,176.85 536.97,172.85 537.01,174.48 537.06,174.31 537.10,169.52 537.14,172.52 537.19,172.91 537.23,177.94 537.27,166.82 537.32,161.93 537.36,174.44 537.41,172.74 537.45,163.98 537.49,175.74 537.54,174.57 537.58,167.69 537.62,169.80 537.67,167.06 537.71,176.74 537.75,167.10 537.80,174.35 537.84,166.87 537.88,169.55 537.93,177.18 537.97,171.31 538.01,179.23 538.06,184.72 538.10,183.92 538.15,188.64 538.19,186.34 538.23,188.31 538.28,182.26 538.32,188.50 538.36,182.95 538.41,185.25 538.45,188.53 538.49,188.33 538.54,188.00 538.58,188.43 538.62,185.24 538.67,173.69 538.71,182.45 538.75,186.05 538.80,183.82 538.84,181.39 538.89,168.36 538.93,181.28 538.97,172.88 539.02,187.15 539.06,183.84 539.10,184.80 539.15,186.41 539.19,184.48 539.23,185.03 539.28,188.37 539.32,188.79 539.36,187.97 539.41,188.37 539.45,185.29 539.49,188.54 539.54,180.76 539.58,183.93 539.63,188.54 539.67,178.76 539.71,185.58 539.76,182.81 539.80,179.59 539.84,175.92 539.89,165.89 539.93,177.36 539.97,174.10 540.02,175.15 540.06,179.72 540.10,187.32 540.15,182.26 540.19,188.40 540.24,185.83 540.28,188.62 540.32,188.31 540.37,188.78 540.41,188.51 540.45,188.36 540.50,188.47 540.54,188.37 540.58,188.33 540.63,188.44 540.67,188.67 540.71,188.36 540.76,188.51 540.80,188.34 540.84,188.65 540.89,188.39 540.93,188.62 540.98,188.57 541.02,188.49 541.06,188.45 541.11,188.62 541.15,188.31 541.19,188.53 541.24,188.33 541.28,188.61 541.32,176.12 541.37,178.67 541.41,188.19 541.45,180.10 541.50,179.78 541.54,188.72 541.58,180.50 541.63,181.57 541.67,172.03 541.72,180.40 541.76,176.86 541.80,172.17 541.85,174.48 541.89,185.35 541.93,180.31 541.98,179.38 542.02,179.75 542.06,184.58 542.11,180.32 542.15,188.39 542.19,188.60 542.24,182.30 542.28,188.62 542.32,188.64 542.37,185.36 542.41,188.54 542.46,188.69 542.50,188.45 542.54,188.01 542.59,187.48 542.63,185.53 542.67,185.48 542.72,185.14 542.76,186.25 542.80,186.42 542.85,185.97 542.89,171.13 542.93,175.75 542.98,176.83 543.02,170.83 543.06,172.23 543.11,170.56 543.15,171.17 543.20,168.86 543.24,170.52 543.28,177.55 543.33,170.99 543.37,170.28 543.41,174.21 543.46,176.95 543.50,176.36 543.54,179.08 543.59,185.45 543.63,181.78 543.67,186.02 543.72,188.42 543.76,182.30 543.81,183.55 543.85,181.29 543.89,186.92 543.94,183.80 543.98,185.52 544.02,183.50 544.07,188.59 544.11,181.44 544.15,188.32 544.20,188.52 544.24,183.96 544.28,188.51 544.33,177.09 544.37,186.27 544.41,179.34 544.46,186.69 544.50,176.87 544.55,172.06 544.59,180.52 544.63,174.10 544.68,181.30 544.72,186.96 544.76,184.31 544.81,188.10 544.85,182.84 544.89,184.26 544.94,179.93 544.98,188.52 545.02,188.56 545.07,188.72 545.11,188.48 545.15,188.37 545.20,186.89 545.24,185.98 545.29,183.53 545.33,188.48 545.37,187.24 545.42,187.27 545.46,188.53 545.50,182.18 545.55,180.42 545.59,181.44 545.63,176.47 545.68,170.67 545.72,180.04 545.76,171.34 545.81,175.23 545.85,172.35 545.89,172.29 545.94,172.66 545.98,164.89 546.03,173.15 546.07,174.87 546.11,180.09 546.16,169.15 546.20,176.40 546.24,180.47 546.29,186.72 546.33,186.69 546.37,179.82 546.42,188.67 546.46,188.49 546.50,187.84 546.55,188.69 546.59,188.80 546.64,188.75 546.68,188.44 546.72,188.84 546.77,188.62 546.81,188.60 546.85,188.81 546.90,188.54 546.94,188.67 546.98,188.39 547.03,188.53 547.07,188.63 547.11,188.78 547.16,188.43 547.20,188.72 547.24,181.69 547.29,177.51 547.33,180.93 547.38,179.06 547.42,175.30 547.46,188.51 547.51,173.11 547.55,182.19 547.59,188.73 547.64,180.95 547.68,179.33 547.72,185.62 547.77,177.58 547.81,179.31 547.85,172.98 547.90,184.28 547.94,184.32 547.98,186.93 548.03,188.58 548.07,183.69 548.12,175.84 548.16,188.80 548.20,188.39 548.25,186.78 548.29,188.85 548.33,186.25 548.38,188.71 548.42,188.79 548.46,188.81 548.51,188.44 548.55,183.72 548.59,188.56 548.64,181.38 548.68,188.03 548.72,182.47 548.77,184.27 548.81,184.80 548.86,188.51 548.90,188.58 548.94,180.71 548.99,180.65 549.03,172.42 549.07,188.84 549.12,182.31 549.16,188.60 549.20,167.44 549.25,178.56 549.29,180.76 549.33,169.45 549.38,167.78 549.42,176.06 549.47,172.55 549.51,169.54 549.55,161.08 549.60,171.78 549.64,168.72 549.68,164.49 549.73,169.47 549.77,173.00 549.81,172.12 549.86,167.84 549.90,175.53 549.94,172.25 549.99,182.91 550.03,180.89 550.07,183.43 550.12,176.37 550.16,186.76 550.21,188.48 550.25,179.30 550.29,175.57 550.34,169.94 550.38,186.37 550.42,183.34 550.47,169.80 550.51,171.20 550.55,174.76 550.60,169.81 550.64,164.60 550.68,166.04 550.73,176.61 550.77,168.02 550.81,167.06 550.86,163.09 550.90,163.22 550.95,169.29 550.99,168.40 551.03,173.91 551.08,177.54 551.12,173.66 551.16,182.74 551.21,187.07 551.25,185.07 551.29,177.12 551.34,180.66 551.38,182.64 551.42,175.94 551.47,182.32 551.51,186.31 551.55,179.66 551.60,185.74 551.64,188.71 551.69,188.63 551.73,187.91 551.77,183.38 551.82,184.28 551.86,180.24 551.90,181.38 551.95,181.36 551.99,180.37 552.03,178.42 552.08,178.43 552.12,182.51 552.16,178.99 552.21,172.31 552.25,180.05 552.29,168.57 552.34,173.45 552.38,176.35 552.43,183.35 552.47,177.19 552.51,178.18 552.56,174.42 552.60,171.59 552.64,172.57 552.69,174.23 552.73,173.69 552.77,170.20 552.82,175.90 552.86,177.20 552.90,183.86 552.95,182.09 552.99,181.29 553.04,188.47 553.08,177.88 553.12,188.51 553.17,186.29 553.21,188.58 553.25,188.75 553.30,188.78 553.34,188.66 553.38,188.79 553.43,188.80 553.47,188.66 553.51,188.04 553.56,188.70 553.60,188.43 553.64,188.58 553.69,188.75 553.73,188.43 553.78,188.86 553.82,188.70 553.86,188.40 553.91,188.51 553.95,188.80 553.99,188.63 554.04,185.47 554.08,181.12 554.12,188.76 554.17,188.71 554.21,188.58 554.25,188.53 554.30,184.74 554.34,188.86 554.38,188.68 554.43,188.42 554.47,188.38 554.52,186.02 554.56,184.88 554.60,184.12 554.65,188.44 554.69,181.05 554.73,181.18 554.78,188.79 554.82,178.57 554.86,180.45 554.91,176.31 554.95,179.79 554.99,169.50 555.04,169.15 555.08,166.91 555.12,168.94 555.17,168.83 555.21,168.92 555.26,166.34 555.30,172.76 555.34,169.78 555.39,180.42 555.43,172.39 555.47,178.02 555.52,170.85 555.56,177.12 555.60,184.63 555.65,179.49 555.69,184.40 555.73,177.79 555.78,183.55 555.82,184.90 555.87,184.77 555.91,188.41 555.95,185.02 556.00,186.94 556.04,185.79 556.08,181.45 556.13,188.52 556.17,187.93 556.21,180.98 556.26,188.35 556.30,188.69 556.34,188.23 556.39,183.72 556.43,188.51 556.47,183.55 556.52,188.65 556.56,181.49 556.61,188.37 556.65,183.02 556.69,180.06 556.74,186.92 556.78,173.63 556.82,180.70 556.87,182.70 556.91,172.11 556.95,175.46 557.00,167.74 557.04,177.26 557.08,182.88 557.13,174.62 557.17,184.49 557.21,172.09 557.26,175.55 557.30,186.94 557.35,176.79 557.39,180.61 557.43,185.03 557.48,180.77 557.52,180.47 557.56,176.00 557.61,180.96 557.65,170.67 557.69,166.35 557.74,174.31 557.78,181.44 557.82,178.33 557.87,179.25 557.91,184.60 557.95,183.20 558.00,177.33 558.04,188.56 558.09,181.98 558.13,188.51 558.17,188.35 558.22,188.37 558.26,185.58 558.30,188.61 558.35,188.42 558.39,188.53 558.43,188.62 558.48,188.59 558.52,185.09 558.56,184.36 558.61,180.42 558.65,185.63 558.69,188.40 558.74,186.65 558.78,188.71 558.83,188.58 558.87,188.73 558.91,186.55 558.96,188.80 559.00,188.65 559.04,188.60 559.09,188.78 559.13,188.54 559.17,187.89 559.22,182.35 559.26,188.64 559.30,184.84 559.35,188.48 559.39,185.00 559.44,188.53 559.48,188.66 559.52,184.82 559.57,188.85 559.61,188.51 559.65,188.59 559.70,188.80 559.74,188.63 559.78,188.85 559.83,188.86 559.87,188.36 559.91,188.77 559.96,188.51 560.00,188.54 560.04,188.39 560.09,188.55 560.13,188.67 560.18,188.64 560.22,188.56 560.26,188.20 560.31,185.15 560.35,188.57 560.39,188.48 560.44,188.43 560.48,188.45 560.52,188.61 560.57,188.71 560.61,188.84 560.65,186.90 560.70,188.85 560.74,181.50 560.78,188.60 560.83,188.41 560.87,188.47 560.92,188.66 560.96,188.73 561.00,188.67 561.05,180.66 561.09,188.37 561.13,188.50 561.18,188.36 561.22,188.74 561.26,188.37 561.31,188.64 561.35,188.85 561.39,188.55 561.44,188.71 561.48,188.72 561.52,188.70 561.57,188.79 561.61,188.78 561.66,188.86 561.70,188.85 561.74,188.54 561.79,188.67 561.83,188.56 561.87,187.68 561.92,182.88 561.96,187.58 562.00,188.61 562.05,184.48 562.09,188.56 562.13,188.52 562.18,185.29 562.22,182.33 562.27,182.28 562.31,175.61 562.35,182.42 562.40,187.18 562.44,184.57 562.48,182.38 562.53,180.04 562.57,184.46 562.61,176.15 562.66,176.16 562.70,182.20 562.74,172.98 562.79,178.86 562.83,182.40 562.87,180.16 562.92,180.42 562.96,171.85 563.01,178.61 563.05,169.23 563.09,172.14 563.14,173.25 563.18,169.91 563.22,172.51 563.27,172.90 563.31,176.40 563.35,165.91 563.40,158.72 563.44,174.88 563.48,170.17 563.53,161.97 563.57,161.46 563.61,163.09 563.66,171.04 563.70,164.47 563.75,170.56 563.79,175.74 563.83,169.70 563.88,169.37 563.92,164.77 563.96,174.74 564.01,176.70 564.05,171.64 564.09,171.25 564.14,167.04 564.18,174.12 564.22,179.19 564.27,177.86 564.31,165.65 564.35,188.50 564.40,181.29 564.44,174.08 564.49,182.00 564.53,187.36 564.57,186.13 564.62,179.78 564.66,187.75 564.70,181.75 564.75,182.18 564.79,178.73 564.83,177.28 564.88,176.35 564.92,178.07 564.96,174.91 565.01,177.64 565.05,180.46 565.09,175.72 565.14,171.54 565.18,168.71 565.23,163.52 565.27,172.83 565.31,175.09 565.36,174.43 565.40,168.22 565.44,178.19 565.49,175.22 565.53,167.44 565.57,167.19 565.62,175.71 565.66,165.87 565.70,168.58 565.75,165.72 565.79,164.63 565.84,170.67 565.88,170.61 565.92,169.35 565.97,177.50 566.01,171.28 566.05,182.24 566.10,171.29 566.14,175.21 566.18,182.12 566.23,180.15 566.27,183.63 566.31,179.99 566.36,176.29 566.40,183.39 566.44,180.96 566.49,176.40 566.53,182.24 566.58,177.25 566.62,184.90 566.66,182.59 566.71,177.91 566.75,176.44 566.79,188.32 566.84,183.95 566.88,178.37 566.92,183.85 566.97,188.71 567.01,186.24 567.05,188.57 567.10,184.10 567.14,188.83 567.18,188.48 567.23,188.43 567.27,188.40 567.32,188.42 567.36,188.84 567.40,188.37 567.45,188.44 567.49,188.74 567.53,177.65 567.58,188.76 567.62,188.66 567.66,188.03 567.71,188.61 567.75,187.82 567.79,187.73 567.84,188.75 567.88,188.88 567.92,188.68 567.97,188.34 568.01,182.09 568.06,188.56 568.10,188.43 568.14,188.42 568.19,188.52 568.23,188.60 568.27,188.82 568.32,188.76 568.36,186.22 568.40,186.21 568.45,187.63 568.49,178.43 568.53,175.86 568.58,181.82 568.62,183.90 568.67,185.66 568.71,171.94 568.75,185.87 568.80,179.99 568.84,185.55 568.88,185.96 568.93,186.42 568.97,175.91 569.01,185.39 569.06,188.48 569.10,188.49 569.14,188.47 569.19,187.50 569.23,188.30 569.27,179.12 569.32,188.60 569.36,188.38 569.41,185.02 569.45,176.86 569.49,186.87 569.54,188.01 569.58,177.33 569.62,188.78 569.67,182.07 569.71,182.72 569.75,176.38 569.80,175.73 569.84,177.18 569.88,176.54 569.93,173.09 569.97,173.33 570.01,173.11 570.06,169.35 570.10,168.04 570.15,160.72 570.19,166.90 570.23,173.65 570.28,169.34 570.32,175.19 570.36,165.67 570.41,174.35 570.45,181.14 570.49,185.24 570.54,180.01 570.58,188.74 570.62,188.51 570.67,188.59 570.71,188.87 570.75,188.64 570.80,188.65 570.84,188.38 570.89,188.46 570.93,188.78 570.97,188.39 571.02,188.49 571.06,188.48 571.10,188.59 571.15,188.46 571.19,188.49 571.23,188.79 571.28,184.82 571.32,186.78 571.36,188.61 571.41,183.23 571.45,185.14 571.49,180.52 571.54,186.38 571.58,183.37 571.63,188.38 571.67,179.94 571.71,187.33 571.76,188.51 571.80,188.43 571.84,188.86 571.89,188.82 571.93,188.52 571.97,188.76 572.02,188.73 572.06,188.39 572.10,188.41 572.15,188.38 572.19,185.35 572.24,188.51 572.28,181.88 572.32,188.59 572.37,188.52 572.41,188.42 572.45,174.58 572.50,188.45 572.54,188.53 572.58,186.09 572.63,183.32 572.67,188.79 572.71,188.46 572.76,188.58 572.80,183.95 572.84,184.69 572.89,187.94 572.93,188.85 572.98,185.78 573.02,185.75 573.06,182.91 573.11,188.50 573.15,177.47 573.19,187.24 573.24,184.27 573.28,182.49 573.32,176.48 573.37,180.38 573.41,171.34 573.45,172.87 573.50,180.56 573.54,172.58 573.58,182.04 573.63,182.73 573.67,168.32 573.72,173.89 573.76,169.13 573.80,178.69 573.85,181.59 573.89,184.29 573.93,174.40 573.98,180.94 574.02,188.81 574.06,188.55 574.11,188.43 574.15,188.84 574.19,187.81 574.24,188.84 574.28,188.82 574.32,188.65 574.37,188.84 574.41,188.53 574.46,188.70 574.50,188.62 574.54,188.64 574.59,188.67 574.63,183.79 574.67,177.57 574.72,188.53 574.76,188.67 574.80,185.09 574.85,183.35 574.89,188.59 574.93,188.48 574.98,188.84 575.02,181.65 575.07,183.35 575.11,188.37 575.15,188.61 575.20,188.65 575.24,184.17 575.28,173.87 575.33,176.24 575.37,178.32 575.41,187.11 575.46,175.41 575.50,183.05 575.54,182.19 575.59,172.20 575.63,177.54 575.67,172.12 575.72,172.67 575.76,178.25 575.81,174.62 575.85,173.16 575.89,177.01 575.94,183.31 575.98,172.64 576.02,182.55 576.07,184.68 576.11,184.59 576.15,178.54 576.20,182.60 576.24,175.64 576.28,188.83 576.33,186.58 576.37,183.67 576.41,185.11 576.46,188.70 576.50,187.24 576.55,184.09 576.59,182.75 576.63,180.14 576.68,179.53 576.72,182.05 576.76,184.09 576.81,168.93 576.85,167.47 576.89,174.09 576.94,169.16 576.98,170.06 577.02,170.80 577.07,178.97 577.11,176.47 577.15,180.70 577.20,187.38 577.24,187.45 577.29,181.52 577.33,183.83 577.37,182.61 577.42,185.22 577.46,185.20 577.50,184.67 577.55,188.61 577.59,188.85 577.63,174.05 577.68,182.13 577.72,176.84 577.76,183.91 577.81,179.63 577.85,171.73 577.89,174.84 577.94,171.66 577.98,167.77 578.03,169.83 578.07,173.13 578.11,171.03 578.16,168.56 578.20,166.93 578.24,168.14 578.29,162.20 578.33,158.80 578.37,147.01 578.42,159.01 578.46,155.26 578.50,157.91 578.55,159.53 578.59,166.95 578.64,161.37 578.68,169.19 578.72,164.21 578.77,171.10 578.81,181.41 578.85,173.37 578.90,185.48 578.94,188.39 578.98,173.05 579.03,181.00 579.07,179.69 579.11,186.97 579.16,187.42 579.20,188.40 579.24,187.81 579.29,187.75 579.33,188.83 579.38,177.30 579.42,187.29 579.46,177.33 579.51,185.93 579.55,178.76 579.59,182.67 579.64,179.37 579.68,176.83 579.72,177.88 579.77,175.19 579.81,175.61 579.85,178.32 579.90,174.18 579.94,174.08 579.98,170.87 580.03,176.56 580.07,181.87 580.12,179.98 580.16,178.01 580.20,179.51 580.25,175.61 580.29,172.27 580.33,177.97 580.38,178.10 580.42,177.30 580.46,181.52 580.51,179.62 580.55,175.59 580.59,175.74 580.64,185.57 580.68,177.69 580.72,176.59 580.77,172.77 580.81,164.98 580.86,163.49 580.90,172.36 580.94,159.78 580.99,167.78 581.03,159.88 581.07,161.79 581.12,162.80 581.16,166.13 581.20,157.97 581.25,159.36 581.29,169.86 581.33,156.64 581.38,163.91 581.42,160.91 581.47,167.61 581.51,164.69 581.55,165.52 581.60,179.40 581.64,159.70 581.68,165.11 581.73,169.77 581.77,161.81 581.81,165.04 581.86,167.45 581.90,180.22 581.94,166.86 581.99,175.58 582.03,171.09 582.07,183.72 582.12,180.84 582.16,184.78 582.21,183.78 582.25,185.54 582.29,185.61 582.34,176.64 582.38,181.09 582.42,180.93 582.47,187.88 582.51,177.20 582.55,182.33 582.60,171.40 582.64,176.75 582.68,172.26 582.73,175.64 582.77,178.12 582.81,180.31 582.86,170.58 582.90,175.28 582.95,181.99 582.99,176.76 583.03,174.07 583.08,179.45 583.12,177.39 583.16,183.91 583.21,188.75 583.25,188.89 583.29,186.22 583.34,184.51 583.38,182.14 583.42,178.05 583.47,187.91 583.51,188.38 583.55,185.71 583.60,188.66 583.64,188.48 583.69,188.85 583.73,185.37 583.77,188.90 583.82,188.86 583.86,187.52 583.90,188.51 583.95,188.78 583.99,188.42 584.03,188.82 584.08,188.53 584.12,188.39 584.16,188.67 584.21,188.69 584.25,188.56 584.30,186.59 584.34,188.86 584.38,188.83 584.43,188.65 584.47,186.63 584.51,188.11 584.56,188.44 584.60,181.42 584.64,188.74 584.69,188.47 584.73,183.81 584.77,188.72 584.82,180.69 584.86,182.02 584.90,180.29 584.95,178.57 584.99,176.18 585.04,177.73 585.08,177.97 585.12,187.22 585.17,179.63 585.21,182.67 585.25,181.55 585.30,188.52 585.34,183.73 585.38,180.40 585.43,172.75 585.47,184.68 585.51,187.39 585.56,178.99 585.60,170.94 585.64,175.43 585.69,180.24 585.73,176.68 585.78,181.44 585.82,176.16 585.86,178.16 585.91,167.05 585.95,180.38 585.99,174.32 586.04,175.36 586.08,178.90 586.12,178.90 586.17,170.82 586.21,188.88 586.25,185.14 586.30,184.21 586.34,188.56 586.38,188.73 586.43,188.38 586.47,187.89 586.52,188.66 586.56,188.79 586.60,188.52 586.65,188.47 586.69,188.60 586.73,188.78 586.78,188.41 586.82,188.59 586.86,187.77 586.91,188.84 586.95,187.57 586.99,186.89 587.04,181.55 587.08,182.28 587.12,184.21 587.17,184.06 587.21,182.47 587.26,178.09 587.30,181.47 587.34,177.32 587.39,180.38 587.43,176.64 587.47,177.55 587.52,176.54 587.56,172.85 587.60,178.61 587.65,187.68 587.69,177.03 587.73,180.01 587.78,179.92 587.82,181.79 587.87,185.01 587.91,188.45 587.95,180.23 588.00,179.18 588.04,188.47 588.08,186.73 588.13,188.54 588.17,188.64 588.21,181.62 588.26,187.01 588.30,179.56 588.34,188.45 588.39,184.96 588.43,180.11 588.47,179.21 588.52,173.02 588.56,178.66 588.61,177.18 588.65,176.09 588.69,174.01 588.74,175.49 588.78,177.01 588.82,178.35 588.87,175.25 588.91,181.78 588.95,185.10 589.00,178.19 589.04,185.44 589.08,187.16 589.13,185.37 589.17,188.77 589.21,188.69 589.26,184.78 589.30,183.99 589.35,188.51 589.39,188.43 589.43,186.97 589.48,183.36 589.52,185.29 589.56,185.04 589.61,188.62 589.65,187.05 589.69,182.89 589.74,188.70 589.78,182.94 589.82,185.74 589.87,188.40 589.91,182.88 589.95,182.86 590.00,186.86 590.04,183.91 590.09,185.68 590.13,181.81 590.17,184.64 590.22,184.93 590.26,172.99 590.30,182.94 590.35,180.84 590.39,177.86 590.43,162.36 590.48,178.13 590.52,172.49 590.56,173.13 590.61,165.78 590.65,172.85 590.70,163.72 590.74,170.05 590.78,164.38 590.83,169.98 590.87,172.65 590.91,179.27 590.96,177.26 591.00,176.17 591.04,177.65 591.09,174.18 591.13,177.61 591.17,173.89 591.22,178.69 591.26,179.42 591.30,173.98 591.35,176.73 591.39,174.35 591.44,176.40 591.48,180.82 591.52,177.47 591.57,176.68 591.61,178.37 591.65,172.24 591.70,188.60 591.74,178.38 591.78,179.19 591.83,175.46 591.87,182.61 591.91,179.50 591.96,184.37 592.00,188.71 592.04,187.02 592.09,176.76 592.13,188.56 592.18,182.12 592.22,188.59 592.26,180.55 592.31,180.79 592.35,182.32 592.39,184.37 592.44,180.50 592.48,177.47 592.52,178.98 592.57,185.34 592.61,170.88 592.65,172.59 592.70,172.31 592.74,172.94 592.78,186.19 592.83,170.59 592.87,171.50 592.92,167.29 592.96,168.46 593.00,173.34 593.05,167.63 593.09,171.29 593.13,169.80 593.18,172.01 593.22,169.28 593.26,169.67 593.31,171.29 593.35,167.22 593.39,170.38 593.44,174.48 593.48,180.10 593.52,180.52 593.57,180.08 593.61,181.25 593.66,186.46 593.70,188.45 593.74,182.24 593.79,184.70 593.83,184.74 593.87,188.72 593.92,188.69 593.96,183.44 594.00,179.38 594.05,178.46 594.09,180.09 594.13,178.15 594.18,187.84 594.22,176.39 594.27,178.07 594.31,188.39 594.35,175.16 594.40,176.19 594.44,184.76 594.48,188.71 594.53,179.22 594.57,186.30 594.61,188.63 594.66,188.73 594.70,186.84 594.74,188.82 594.79,181.75 594.83,188.67 594.87,184.17 594.92,181.28 594.96,184.29 595.01,180.70 595.05,184.87 595.09,173.99 595.14,178.13 595.18,180.36 595.22,176.40 595.27,170.54 595.31,176.85 595.35,183.48 595.40,181.74 595.44,172.40 595.48,179.99 595.53,185.12 595.57,180.93 595.61,181.25 595.66,181.49 595.70,187.00 595.75,184.39 595.79,183.98 595.83,183.66 595.88,182.50 595.92,182.25 595.96,180.97 596.01,186.35 596.05,183.35 596.09,172.13 596.14,177.11 596.18,178.62 596.22,171.11 596.27,163.49 596.31,163.24 596.35,174.00 596.40,172.32 596.44,177.52 596.49,169.01 596.53,167.86 596.57,174.72 596.62,178.83 596.66,175.85 596.70,170.58 596.75,178.48 596.79,167.07 596.83,172.09 596.88,175.20 596.92,173.23 596.96,178.35 597.01,172.20 597.05,178.43 597.10,176.26 597.14,173.45 597.18,183.60 597.23,183.28 597.27,188.67 597.31,182.68 597.36,184.48 597.40,184.77 597.44,188.61 597.49,188.78 597.53,188.75 597.57,187.24 597.62,188.79 597.66,187.13 597.70,187.32 597.75,187.20 597.79,188.42 597.84,184.87 597.88,186.15 597.92,188.80 597.97,188.68 598.01,188.89 598.05,188.78 598.10,184.41 598.14,186.34 598.18,175.24" class="dl2"/>
<polyline points="74.90,166.98 74.94,162.28 74.99,159.62 75.03,154.80 75.08,149.93 75.12,144.83 75.16,139.98 75.21,135.99 75.25,133.55 75.29,133.15 75.34,134.89 75.38,138.37 75.42,142.94 75.47,147.95 75.51,152.88 75.55,157.83 75.60,161.99 75.64,167.15 75.69,170.98" class="pk2"/>
<polyline points="126.84,176.51 126.89,173.13 126.93,170.62 126.97,166.46 127.02,163.83 127.06,161.30 127.10,158.98 127.15,157.08 127.19,155.82 127.23,155.38 127.28,155.82 127.32,157.07 127.36,158.96 127.41,161.28 127.45,163.80 127.49,165.94 127.54,168.40 127.58,169.67 127.63,169.11" class="pk2"/>
<polyline points="129.93,170.71 129.98,168.07 130.02,165.87 130.06,165.32 130.11,164.37 130.15,161.11 130.19,157.46 130.24,153.76 130.28,150.27 130.32,147.29 130.37,145.13 130.41,144.08 130.46,144.29 130.50,145.73 130.54,148.20 130.59,151.38 130.63,154.97 130.67,158.67 130.72,162.27 130.76,164.53 130.80,164.55 130.85,166.67 130.89,165.46" class="pk2"/>
<polyline points="132.68,171.46 132.72,169.08 132.76,166.44 132.81,166.44 132.85,165.57 132.89,163.90 132.94,162.27 132.98,161.10 133.02,160.52 133.07,160.64 133.11,161.43 133.15,162.78 133.20,164.48 133.24,166.13 133.29,167.88 133.33,168.48 133.37,170.13 133.42,175.20" class="pk2"/>
<polyline points="135.55,164.77 135.59,166.76 135.64,167.91 135.68,164.30 135.72,164.54 135.77,160.39 135.81,155.45 135.85,149.71 135.90,143.26 135.94,136.24 135.98,128.89 136.03,121.53 136.07,114.60 136.12,108.58 136.16,104.02 136.20,101.39 136.25,101.02 136.29,102.96 136.33,106.96 136.38,112.59 136.42,119.32 136.46,126.62 136.51,134.05 136.55,141.24 136.59,147.95 136.64,153.97 136.68,159.22 136.72,163.67 136.77,167.21 136.81,170.50 136.86,171.74 136.90,176.25" class="pk2"/>
<polyline points="141.51,179.98 141.56,178.08 141.60,175.34 141.64,170.46 141.69,166.51 141.73,162.11 141.78,157.28 141.82,152.21 141.86,147.18 141.91,142.57 141.95,138.81 141.99,136.33 142.04,135.47 142.08,136.38 142.12,138.91 142.17,142.73 142.21,147.39 142.25,152.46 142.30,157.58 142.34,162.47 142.38,166.92 142.43,171.22 142.47,175.98 142.52,177.42 142.56,179.90" class="pk2"/>
<polyline points="144.26,178.76 144.30,180.88 144.34,176.55 144.39,174.69 144.43,171.46 144.47,169.09 144.52,167.05 144.56,165.38 144.60,164.26 144.65,163.85 144.69,164.20 144.74,165.26 144.78,166.87 144.82,168.84 144.87,171.37 144.91,173.33 144.95,177.09 145.00,179.38 145.04,180.24" class="pk2"/>
<polyline points="146.52,182.10 146.56,180.01 146.61,176.45 146.65,173.70 146.69,169.39 146.74,165.47 146.78,161.23 146.83,156.32 146.87,150.79 146.91,144.70 146.96,138.20 147.00,131.49 147.04,124.83 147.09,118.54 147.13,113.01 147.17,108.64 147.22,105.82 147.26,104.82 147.30,105.74 147.35,108.47 147.39,112.76 147.43,118.20 147.48,124.40 147.52,130.98 147.57,137.61 147.61,144.03 147.65,150.03 147.70,155.48 147.74,160.31 147.78,164.47 147.83,168.18 147.87,172.58 147.91,175.04 147.96,177.51 148.00,177.95" class="pk2"/>
<polyline points="151.05,171.93 151.09,174.74 151.14,169.57 151.18,167.68 151.22,163.96 151.27,161.05 151.31,158.24 151.35,155.73 151.40,153.80 151.44,152.66 151.48,152.48 151.53,153.29 151.57,154.97 151.61,157.30 151.66,160.02 151.70,162.90 151.75,166.29 151.79,170.12 151.83,173.06 151.88,176.67 151.92,179.03" class="pk2"/>
<polyline points="166.77,170.23 166.81,168.85 166.85,166.24 166.90,165.17 166.94,163.59 166.98,160.30 167.03,156.80 167.07,153.25 167.11,149.82 167.16,146.76 167.20,144.30 167.24,142.70 167.29,142.14 167.33,142.69 167.38,144.29 167.42,146.75 167.46,149.82 167.51,153.24 167.55,156.79 167.59,160.28 167.64,163.57 167.68,166.28 167.72,168.91 167.77,168.97 167.81,171.83" class="pk2"/>
<polyline points="172.38,167.54 172.43,165.27 172.47,168.45 172.51,167.14 172.56,163.94 172.60,160.16 172.64,155.75 172.69,150.73 172.73,145.15 172.77,139.13 172.82,132.84 172.86,126.50 172.90,120.42 172.95,114.93 172.99,110.41 173.03,107.24 173.08,105.73 173.12,106.04 173.17,108.13 173.21,111.78 173.25,116.67 173.30,122.40 173.34,128.61 173.38,134.96 173.43,141.18 173.47,147.07 173.51,152.48 173.56,157.30 173.60,161.50 173.64,165.43 173.69,169.72 173.73,173.24 173.78,176.17 173.82,175.77" class="pk2"/>
<polyline points="215.57,174.07 215.61,170.45 215.66,170.46 215.70,165.45 215.75,161.61 215.79,157.11 215.83,151.95 215.88,146.21 215.92,140.04 215.96,133.67 216.01,127.41 216.05,121.65 216.09,116.83 216.14,113.40 216.18,111.75 216.22,112.09 216.27,114.36 216.31,118.30 216.35,123.49 216.40,129.46 216.44,135.79 216.49,142.13 216.53,148.17 216.57,153.74 216.62,158.68 216.66,162.95 216.70,167.00 216.75,168.48 216.79,173.43 216.83,171.15" class="pk2"/>
<polyline points="222.01,172.71 222.06,175.12 222.10,171.80 222.15,166.52 222.19,165.33 222.23,162.59 222.28,160.05 222.32,157.79 222.36,156.04 222.41,155.01 222.45,154.86 222.49,155.61 222.54,157.14 222.58,159.26 222.62,161.73 222.67,164.28 222.71,164.74 222.75,165.49 222.80,168.47 222.84,169.53" class="pk2"/>
<polyline points="266.42,174.52 266.47,168.41 266.51,168.05 266.55,165.51 266.60,163.69 266.64,160.79 266.68,157.98 266.73,155.49 266.77,153.56 266.81,152.43 266.86,152.26 266.90,153.08 266.95,154.77 266.99,157.11 267.03,159.83 267.08,162.72 267.12,165.34 267.16,169.48 267.21,172.13 267.25,173.48 267.29,176.98" class="pk2"/>
<polyline points="152.18,175.22 152.22,169.69 152.27,162.52 152.31,156.84 152.35,151.01 152.40,144.97 152.44,138.56 152.49,131.62 152.53,129.88 152.57,127.44 152.62,124.46 152.66,121.34 152.70,118.68 152.75,117.08 152.79,116.97 152.83,118.41 152.88,121.09 152.92,124.44 152.96,127.84 153.01,130.81 153.05,133.11 153.09,134.72 153.14,135.75 153.18,136.39 153.23,136.77 153.27,137.02 153.31,137.21 153.36,137.37 153.40,137.51 153.44,137.65 153.49,137.79 153.53,137.93 153.57,138.07 153.62,138.20 153.66,138.34 153.70,138.48 153.75,138.61 153.79,138.75 153.83,138.65 153.88,138.54 153.92,138.44 153.97,138.33 154.01,138.23 154.05,138.13 154.10,138.02 154.14,137.92 154.18,137.80 154.23,137.65 154.27,137.32 154.31,136.36 154.36,133.59 154.40,126.87 154.44,113.70 154.49,93.54 154.53,70.55 154.58,53.49 154.62,50.63 154.66,63.44 154.71,85.34 154.75,106.97 154.79,122.38 154.84,130.80 154.88,134.39 154.92,135.57 154.97,135.82 155.01,135.80 155.05,135.71 155.10,135.61 155.14,135.50 155.18,135.40 155.23,135.29 155.27,135.18 155.32,135.08 155.36,134.97 155.40,134.87 155.45,134.76 155.49,134.66 155.53,134.55 155.58,134.45 155.62,134.34 155.66,134.23 155.71,134.13 155.75,134.02 155.79,133.92 155.84,133.81 155.88,133.71 155.92,133.60 155.97,133.49 156.01,133.47 156.06,133.45 156.10,133.43 156.14,133.41 156.19,133.39 156.23,133.36 156.27,133.34 156.32,133.32 156.36,133.30 156.40,133.28 156.45,133.26 156.49,133.24 156.53,133.21 156.58,133.19 156.62,133.17 156.66,133.15 156.71,133.13 156.75,133.10 156.80,133.06 156.84,132.96 156.88,132.69 156.93,131.93 156.97,129.97 157.01,125.58 157.06,116.99 157.10,102.52 157.14,81.76 157.19,56.96 157.23,33.37 157.27,17.76 157.32,15.32 157.36,26.90 157.40,48.53 157.45,73.60 157.49,96.06 157.54,112.65 157.58,122.99 157.62,128.50 157.67,130.98 157.71,131.83 157.75,131.80 157.80,131.13 157.84,129.71 157.88,127.22 157.93,123.26 157.97,117.54 158.01,110.02 158.06,101.15 158.10,91.90 158.15,83.66 158.19,77.93 158.23,75.86 158.28,77.89 158.32,83.58 158.36,91.77 158.41,100.98 158.45,109.80 158.49,117.27 158.54,122.95 158.58,126.87 158.62,130.34 158.67,132.77 158.71,134.53 158.75,135.90 158.80,137.06 158.84,138.13 158.89,139.15 158.93,140.16 158.97,141.16 159.02,142.16 159.06,143.16 159.10,144.15 159.15,145.15 159.19,146.15 159.23,147.14 159.28,148.14 159.32,149.07 159.36,149.87 159.41,150.67 159.45,151.47 159.49,152.26 159.54,153.06 159.58,153.86 159.63,154.66 159.67,155.45 159.71,156.25 159.76,157.05 159.80,157.85 159.84,158.64 159.89,159.44 159.93,160.24 159.97,161.04 160.02,161.83 160.06,162.63 160.10,163.43 160.15,164.23 160.19,165.14 160.23,165.98 160.28,166.19 160.32,166.75 160.37,166.00 160.41,168.33 160.45,169.59 160.50,169.91 160.54,168.86 160.58,167.38 160.63,171.81" class="pk3"/>
<polyline points="416.11,178.58 416.15,177.43 416.20,175.89 416.24,174.45 416.28,172.69 416.33,170.71 416.37,168.57 416.41,166.27 416.46,164.34 416.50,162.51 416.55,160.65 416.59,158.82 416.63,157.12 416.68,155.63 416.72,154.46 416.76,153.71 416.81,153.45 416.85,153.71 416.89,154.45 416.94,155.62 416.98,157.11 417.02,158.82 417.07,160.64 417.11,162.50 417.15,164.33 417.20,166.12 417.24,168.57 417.29,170.60 417.33,171.82 417.37,174.42 417.42,174.89 417.46,174.64 417.50,177.57" class="pk"/>
<polyline points="427.60,177.72 427.65,171.87 427.69,169.88 427.73,173.35 427.78,172.57 427.82,170.76 427.86,168.63 427.91,167.15 427.95,165.27 428.00,163.70 428.04,162.08 428.08,160.41 428.13,158.74 428.17,157.12 428.21,155.59 428.26,154.23 428.30,153.11 428.34,152.30 428.39,151.84 428.43,151.77 428.47,152.09 428.52,152.79 428.56,153.81 428.60,155.09 428.65,156.56 428.69,158.15 428.74,159.80 428.78,161.47 428.82,163.10 428.87,164.68 428.91,165.69 428.95,166.51 429.00,167.86 429.04,168.88 429.08,169.55 429.13,169.43 429.17,169.35 429.21,165.91 429.26,168.74" class="pk"/>
<polyline points="435.57,171.37 435.61,165.36 435.66,170.77 435.70,172.71 435.75,172.72 435.79,171.22 435.83,170.58 435.88,168.34 435.92,166.86 435.96,167.38 436.01,166.67 436.05,165.62 436.09,164.40 436.14,163.10 436.18,161.73 436.22,160.28 436.27,158.77 436.31,157.20 436.35,155.59 436.40,153.95 436.44,152.30 436.49,150.68 436.53,149.10 436.57,147.61 436.62,146.24 436.66,145.03 436.70,144.04 436.75,143.28 436.79,142.80 436.83,142.61 436.88,142.72 436.92,143.12 436.96,143.79 437.01,144.70 437.05,145.82 437.09,147.11 437.14,148.51 437.18,150.01 437.23,151.55 437.27,153.11 437.31,154.66 437.36,156.18 437.40,157.66 437.44,159.08 437.49,160.43 437.53,161.71 437.57,162.91 437.62,164.03 437.66,165.07 437.70,165.98 437.75,166.68 437.79,166.97 437.83,166.07 437.88,167.01 437.92,167.62 437.97,169.66 438.01,170.06 438.05,167.78 438.10,170.41 438.14,167.26 438.18,170.82 438.23,169.26 438.27,168.56 438.31,169.31 438.36,170.92 438.40,167.03 438.44,172.04 438.49,171.51 438.53,173.53 438.57,171.27 438.62,171.31 438.66,171.75 438.71,173.82 438.75,172.85 438.79,174.27 438.84,173.90 438.88,173.50 438.92,173.11 438.97,172.60 439.01,172.04 439.05,171.47 439.10,170.69 439.14,169.99 439.18,169.08 439.23,168.15 439.27,167.10 439.32,165.94 439.36,164.95 439.40,163.95 439.45,162.86 439.49,161.67 439.53,160.38 439.58,158.98 439.62,157.48 439.66,155.85 439.71,154.12 439.75,152.27 439.79,150.30 439.84,148.21 439.88,146.02 439.92,143.71 439.97,141.31 440.01,138.82 440.06,136.27 440.10,133.66 440.14,131.02 440.19,128.39 440.23,125.80 440.27,123.29 440.32,120.92 440.36,118.73 440.40,116.77 440.45,115.11 440.49,113.80 440.53,112.87 440.58,112.36 440.62,112.28 440.66,112.65 440.71,113.45 440.75,114.64 440.80,116.19 440.84,118.06 440.88,120.18 440.93,122.50 440.97,124.97 441.01,127.54 441.06,130.16 441.10,132.81 441.14,135.43 441.19,138.01 441.23,140.53 441.27,142.97 441.32,145.31 441.36,147.55 441.40,149.68 441.45,151.69 441.49,153.59 441.54,155.38 441.58,157.05 441.62,158.60 441.67,160.05 441.71,161.39 441.75,162.63 441.80,163.77 441.84,164.81 441.88,165.74 441.93,166.34 441.97,166.90 442.01,167.63 442.06,168.76 442.10,170.68 442.15,171.73 442.19,172.13 442.23,173.08 442.28,173.69 442.32,174.16 442.36,174.55 442.41,175.04 442.45,175.46 442.49,175.83 442.54,176.15 442.58,173.93 442.62,176.55 442.67,176.86 442.71,177.16 442.75,177.21 442.80,177.47 442.84,177.47 442.89,177.69" class="pk"/>
<polyline points="443.76,171.44 443.80,174.55 443.84,176.48 443.89,172.50 443.93,174.22 443.97,176.80 444.02,171.72 444.06,167.96 444.10,174.53 444.15,171.33 444.19,168.70 444.23,169.36 444.28,168.19 444.32,170.36 444.37,167.80 444.41,170.09 444.45,170.27 444.50,169.53 444.54,170.18 444.58,169.76 444.63,169.26 444.67,168.72 444.71,167.70 444.76,166.85 444.80,165.68 444.84,164.74 444.89,163.70 444.93,162.57 444.98,161.34 445.02,160.01 445.06,158.58 445.11,157.02 445.15,155.35 445.19,153.56 445.24,151.65 445.28,149.61 445.32,147.45 445.37,145.17 445.41,142.77 445.45,140.26 445.50,137.65 445.54,134.95 445.58,132.19 445.63,129.38 445.67,126.55 445.72,123.74 445.76,120.99 445.80,118.34 445.85,115.86 445.89,113.59 445.93,111.59 445.98,109.93 446.02,108.65 446.06,107.79 446.11,107.40 446.15,107.47 446.19,108.02 446.24,109.01 446.28,110.41 446.32,112.19 446.37,114.27 446.41,116.61 446.46,119.15 446.50,121.83 446.54,124.60 446.59,127.41 446.63,130.23 446.67,133.02 446.72,135.76 446.76,138.42 446.80,140.99 446.85,143.46 446.89,145.81 446.93,148.04 446.98,150.16 447.02,152.14 447.06,154.01 447.11,155.75 447.15,157.37 447.20,158.88 447.24,160.27 447.28,161.56 447.33,162.74 447.37,163.83 447.41,164.83 447.46,165.77 447.50,166.93 447.54,167.46 447.59,167.84 447.63,169.27 447.67,168.21 447.72,171.33 447.76,172.02 447.80,171.09 447.85,169.24 447.89,168.76 447.94,170.08 447.98,167.60 448.02,169.21 448.07,170.30 448.11,166.86 448.15,169.03 448.20,171.26 448.24,168.78 448.28,171.66 448.33,166.82 448.37,169.71 448.41,173.16 448.46,166.11 448.50,168.08 448.55,170.14 448.59,168.47 448.63,167.14 448.68,168.69 448.72,167.89 448.76,165.72 448.81,169.14 448.85,168.08 448.89,163.73 448.94,168.84 448.98,169.95 449.02,168.38 449.07,166.62 449.11,171.16 449.15,170.18 449.20,171.31 449.24,166.02 449.29,167.22 449.33,169.06 449.37,166.93 449.42,171.86 449.46,169.83 449.50,166.86 449.55,164.00 449.59,168.82 449.63,164.56 449.68,165.13 449.72,164.64 449.76,163.61 449.81,165.38 449.85,161.45 449.89,164.51 449.94,163.49 449.98,165.55 450.03,165.35 450.07,166.54 450.11,164.39 450.16,164.35 450.20,165.78 450.24,165.70 450.29,165.02 450.33,164.06 450.37,163.02 450.42,161.87 450.46,160.63 450.50,159.28 450.55,157.81 450.59,156.23 450.63,154.52 450.68,152.69 450.72,150.72 450.77,148.62 450.81,146.39 450.85,144.03 450.90,141.54 450.94,138.92 450.98,136.19 451.03,133.36 451.07,130.44 451.11,127.45 451.16,124.43 451.20,121.40 451.24,118.40 451.29,115.48 451.33,112.69 451.38,110.09 451.42,107.75 451.46,105.72 451.51,104.06 451.55,102.84 451.59,102.09 451.64,101.83 451.68,102.08 451.72,102.83 451.77,104.05 451.81,105.69 451.85,107.72 451.90,110.06 451.94,112.65 451.98,115.43 452.03,118.35 452.07,121.34 452.12,124.37 452.16,127.39 452.20,130.37 452.25,133.28 452.29,136.11 452.33,138.83 452.38,141.44 452.42,143.93 452.46,146.28 452.51,148.51 452.55,150.60 452.59,152.56 452.64,154.38 452.68,156.08 452.72,157.66 452.77,159.12 452.81,160.47 452.86,161.70 452.90,162.84 452.94,163.88 452.99,164.83 453.03,165.71 453.07,166.47 453.12,167.79 453.16,167.65 453.20,167.04 453.25,168.19 453.29,166.67 453.33,167.06 453.38,166.62 453.42,168.43 453.46,167.50 453.51,169.13 453.55,168.91 453.60,168.84 453.64,167.38 453.68,165.88 453.73,171.89 453.77,166.90 453.81,175.00 453.86,175.08 453.90,167.70 453.94,169.09 453.99,171.56 454.03,171.73 454.07,172.33 454.12,176.35 454.16,171.10 454.20,173.76 454.25,176.63 454.29,171.72 454.34,171.31 454.38,170.09 454.42,170.90 454.47,174.04 454.51,172.18 454.55,174.05 454.60,173.93 454.64,170.55 454.68,175.52 454.73,175.97 454.77,175.92 454.81,175.70 454.86,175.35 454.90,172.86 454.95,174.77 454.99,174.62 455.03,174.30 455.08,172.99 455.12,173.63 455.16,170.94 455.21,172.67 455.25,171.69 455.29,171.02 455.34,170.97 455.38,169.02 455.42,167.91 455.47,166.90 455.51,167.61 455.55,166.11 455.60,165.48 455.64,164.58 455.69,163.59 455.73,162.52 455.77,161.36 455.82,160.10 455.86,158.74 455.90,157.29 455.95,155.72 455.99,154.06 456.03,152.28 456.08,150.40 456.12,148.42 456.16,146.33 456.21,144.16 456.25,141.90 456.29,139.57 456.34,137.19 456.38,134.77 456.43,132.35 456.47,129.96 456.51,127.62 456.56,125.40 456.60,123.32 456.64,121.44 456.69,119.81 456.73,118.48 456.77,117.49 456.82,116.87 456.86,116.64 456.90,116.82 456.95,117.39 456.99,118.33 457.03,119.61 457.08,121.19 457.12,123.02 457.17,125.05 457.21,127.22 457.25,129.50 457.30,131.84 457.34,134.20 457.38,136.56 457.43,138.88 457.47,141.14 457.51,143.34 457.56,145.44 457.60,147.45 457.64,149.36 457.69,151.16 457.73,152.84 457.78,154.42 457.82,155.88 457.86,157.23 457.91,158.47 457.95,159.60 457.99,160.62 458.04,161.54 458.08,162.35 458.12,163.07 458.17,163.69 458.21,164.21 458.25,164.64 458.30,164.98 458.34,165.23 458.38,165.38 458.43,165.45 458.47,165.43 458.52,165.31 458.56,165.11 458.60,164.81 458.65,164.43 458.69,163.95 458.73,163.37 458.78,162.71 458.82,161.96 458.86,161.11 458.91,160.19 458.95,159.19 458.99,158.12 459.04,156.99 459.08,155.82 459.12,154.64 459.17,153.47 459.21,152.33 459.26,151.27 459.30,150.34 459.34,149.56 459.39,148.99 459.43,148.65 459.47,148.57 459.52,148.75 459.56,149.19 459.60,149.86 459.65,150.74 459.69,151.78 459.73,152.94 459.78,154.19 459.82,155.48 459.86,156.78 459.91,158.07 459.95,159.33 460.00,160.54 460.04,161.69 460.08,162.78 460.13,163.79 460.17,164.73 460.21,165.59 460.26,166.00 460.30,166.79 460.34,167.31 460.39,167.68 460.43,167.72 460.47,167.47 460.52,168.93 460.56,167.41 460.60,169.94 460.65,171.22 460.69,170.87 460.74,170.85 460.78,167.76 460.82,168.60 460.87,169.19 460.91,169.88 460.95,169.20 461.00,171.53 461.04,165.47 461.08,168.43 461.13,167.59 461.17,167.28 461.21,169.16 461.26,169.22 461.30,170.36 461.35,169.01 461.39,169.12 461.43,171.44 461.48,168.59 461.52,170.57 461.56,169.40 461.61,166.68 461.65,167.60 461.69,170.68 461.74,169.47 461.78,169.30 461.82,168.26 461.87,167.84 461.91,168.23 461.95,167.60 462.00,166.91 462.04,166.19 462.09,165.46 462.13,164.83 462.17,164.14 462.22,163.38 462.26,162.55 462.30,161.65 462.35,160.66 462.39,159.58 462.43,158.40 462.48,157.10 462.52,155.70 462.56,154.16 462.61,152.49 462.65,150.67 462.69,148.70 462.74,146.58 462.78,144.28 462.83,141.80 462.87,139.15 462.91,136.31 462.96,133.28 463.00,130.07 463.04,126.66 463.09,123.07 463.13,119.30 463.17,115.37 463.22,111.30 463.26,107.09 463.30,102.79 463.35,98.44 463.39,94.07 463.43,89.74 463.48,85.52 463.52,81.49 463.57,77.72 463.61,74.31 463.65,71.33 463.70,68.88 463.74,67.04 463.78,65.85 463.83,65.36 463.87,65.58 463.91,66.49 463.96,68.06 464.00,70.23 464.04,72.92 464.09,76.06 464.13,79.54 464.18,83.29 464.22,87.21 464.26,91.24 464.31,95.30 464.35,99.35 464.39,103.33 464.44,107.20 464.48,110.94 464.52,114.52 464.57,117.93 464.61,121.15 464.65,124.17 464.70,126.98 464.74,129.59 464.78,132.00 464.83,134.19 464.87,136.19 464.92,137.98 464.96,139.57 465.00,140.97 465.05,142.18 465.09,143.21 465.13,144.06 465.18,144.73 465.22,145.23 465.26,145.55 465.31,145.71 465.35,145.70 465.39,145.52 465.44,145.17 465.48,144.64 465.52,143.94 465.57,143.05 465.61,141.97 465.66,140.70 465.70,139.22 465.74,137.53 465.79,135.62 465.83,133.47 465.87,131.08 465.92,128.45 465.96,125.55 466.00,122.38 466.05,118.94 466.09,115.22 466.13,111.21 466.18,106.91 466.22,102.33 466.26,97.47 466.31,92.35 466.35,86.96 466.40,81.35 466.44,75.53 466.48,69.55 466.53,63.46 466.57,57.31 466.61,51.19 466.66,45.18 466.70,39.39 466.74,33.93 466.79,28.92 466.83,24.50 466.87,20.77 466.92,17.87 466.96,15.87 467.00,14.84 467.05,14.81 467.09,15.78 467.14,17.69 467.18,20.47 467.22,24.02 467.27,28.21 467.31,32.92 467.35,38.02 467.40,43.38 467.44,48.89 467.48,54.44 467.53,59.96 467.57,65.37 467.61,70.61 467.66,75.63 467.70,80.41 467.75,84.90 467.79,89.11 467.83,93.01 467.88,96.61 467.92,99.90 467.96,102.91 468.01,105.64 468.05,108.10 468.09,110.34 468.14,112.37 468.18,114.22 468.22,115.93 468.27,117.54 468.31,119.08 468.35,120.59 468.40,122.10 468.44,123.63 468.49,125.22 468.53,126.86 468.57,128.57 468.62,130.34 468.66,132.17 468.70,134.04 468.75,135.94 468.79,137.86 468.83,139.77 468.88,141.67 468.92,143.53 468.96,145.36 469.01,147.13 469.05,148.84 469.09,150.48 469.14,152.06 469.18,153.56 469.23,155.00 469.27,156.36 469.31,157.64 469.36,158.86 469.40,160.00 469.44,161.08 469.49,162.09 469.53,163.04 469.57,163.93 469.62,164.76 469.66,165.53 469.70,166.12 469.75,166.06 469.79,166.38 469.83,166.96 469.88,167.36 469.92,169.33 469.97,167.78 470.01,167.38 470.05,171.63 470.10,172.26 470.14,171.21 470.18,173.83 470.23,174.00 470.27,173.66 470.31,175.08 470.36,175.48 470.40,171.58 470.44,175.67 470.49,171.25 470.53,174.56 470.58,170.59 470.62,172.68 470.66,174.54" class="pk"/>
<polyline points="475.84,177.45 475.89,177.48 475.93,176.89 475.97,176.37 476.02,175.72 476.06,175.02 476.10,174.19 476.15,172.12 476.19,170.51 476.23,171.47 476.28,170.31 476.32,166.76 476.37,167.15 476.41,166.17 476.45,164.84 476.50,163.54 476.54,162.12 476.58,160.59 476.63,158.93 476.67,157.14 476.71,155.22 476.76,153.18 476.80,151.01 476.84,148.72 476.89,146.32 476.93,143.82 476.98,141.25 477.02,138.62 477.06,135.97 477.11,133.34 477.15,130.77 477.19,128.32 477.24,126.06 477.28,124.05 477.32,122.36 477.37,121.04 477.41,120.17 477.45,119.76 477.50,119.85 477.54,120.42 477.58,121.45 477.63,122.90 477.67,124.72 477.72,126.82 477.76,129.16 477.80,131.66 477.85,134.26 477.89,136.91 477.93,139.56 477.98,142.18 478.02,144.74 478.06,147.21 478.11,149.58 478.15,151.83 478.19,153.97 478.24,155.97 478.28,157.85 478.32,159.60 478.37,161.22 478.41,162.72 478.46,164.11 478.50,165.37 478.54,166.44 478.59,166.37 478.63,167.50 478.67,167.96 478.72,167.17 478.76,170.44 478.80,167.24 478.85,173.11 478.89,168.31 478.93,166.53 478.98,169.76 479.02,171.71 479.06,169.62" class="pk"/>
<polyline points="481.81,177.90 481.85,177.24 481.89,176.43 481.94,175.58 481.98,174.59 482.03,173.61 482.07,172.35 482.11,171.08 482.16,169.15 482.20,168.11 482.24,166.39 482.29,164.84 482.33,163.38 482.37,161.82 482.42,160.15 482.46,158.39 482.50,156.55 482.55,154.64 482.59,152.68 482.63,150.72 482.68,148.78 482.72,146.92 482.77,145.19 482.81,143.65 482.85,142.37 482.90,141.41 482.94,140.81 482.98,140.62 483.03,140.83 483.07,141.45 483.11,142.44 483.16,143.74 483.20,145.30 483.24,147.06 483.29,148.94 483.33,150.91 483.38,152.90 483.42,154.87 483.46,156.81 483.51,158.68 483.55,160.46 483.59,162.15 483.64,163.74 483.68,165.22 483.72,166.43 483.77,165.82 483.81,168.58 483.85,169.81 483.90,171.51 483.94,171.38 483.98,173.49 484.03,176.48 484.07,172.30 484.12,174.96" class="pk"/>
<polyline points="524.78,178.11 524.82,176.17 524.87,176.69 524.91,175.47 524.95,174.28 525.00,173.04 525.04,171.62 525.08,170.06 525.13,168.35 525.17,166.49 525.21,164.77 525.26,163.17 525.30,161.44 525.35,159.59 525.39,157.62 525.43,155.55 525.48,153.39 525.52,151.16 525.56,148.89 525.61,146.63 525.65,144.41 525.69,142.30 525.74,140.36 525.78,138.67 525.82,137.31 525.87,136.32 525.91,135.78 525.95,135.70 526.00,136.09 526.04,136.93 526.09,138.18 526.13,139.77 526.17,141.63 526.22,143.69 526.26,145.88 526.30,148.14 526.35,150.41 526.39,152.65 526.43,154.84 526.48,156.94 526.52,158.95 526.56,160.84 526.61,162.61 526.65,164.26 526.69,165.77 526.74,166.17 526.78,165.18 526.83,167.36 526.87,166.76 526.91,169.55 526.96,167.49 527.00,168.17 527.04,167.27 527.09,168.28" class="pk"/>
<polygon points="134.90,79.25 139.50,79.25 137.20,83.39" class="mk"/>
<polygon points="134.60,93.05 139.20,93.05 136.90,88.91" class="mk"/>
<rect x="144.96" y="94.16" width="3.68" height="3.68" class="mk"/>
<polygon points="142.00,114.00 142.61,115.46 144.19,115.59 142.98,116.62 143.35,118.16 142.00,117.33 140.65,118.16 141.02,116.62 139.81,115.59 141.39,115.46" class="mk"/>
<polygon points="140.20,125.34 144.80,125.34 142.50,129.48" class="mk"/>
<polygon points="124.50,148.26 129.10,148.26 126.80,144.12" class="mk"/>
<polygon points="129.30,134.04 133.90,134.04 131.60,138.19" class="mk"/>
<circle cx="154.60" cy="44.20" r="1.72" class="mk"/>
<rect x="151.86" y="33.16" width="3.68" height="3.68" class="mk"/>
<polygon points="154.87,21.37 159.93,21.37 157.40,17.00" fill="#000" stroke="#000" stroke-width="0.4"/>
<polygon points="173.00,93.60 175.07,95.90 173.00,98.20 170.93,95.90" class="mk"/>
<polygon points="165.30,137.16 169.90,137.16 167.60,133.01" class="mk"/>
<polygon points="214.67,106.17 219.73,106.17 217.20,101.80" fill="#000" stroke="#000" stroke-width="0.4"/>
<polygon points="263.77,143.37 268.83,143.37 266.30,139.00" fill="#000" stroke="#000" stroke-width="0.4"/>
<polygon points="426.10,143.96 430.70,143.96 428.40,139.81" class="mk"/>
<polygon points="434.60,134.24 439.20,134.24 436.90,138.38" class="mk"/>
<polygon points="449.40,90.25 454.00,90.25 451.70,94.39" class="mk"/>
<polygon points="451.20,79.40 451.81,80.86 453.39,80.99 452.18,82.02 452.55,83.56 451.20,82.73 449.85,83.56 450.22,82.02 449.01,80.99 450.59,80.86" class="mk"/>
<rect x="455.06" y="108.96" width="3.68" height="3.68" class="mk"/>
<circle cx="463.50" cy="47.90" r="1.72" class="mk"/>
<rect x="462.06" y="55.16" width="3.68" height="3.68" class="mk"/>
<polygon points="464.47,24.87 469.53,24.87 467.00,20.50" fill="#000" stroke="#000" stroke-width="0.4"/>
<polygon points="475.20,113.16 479.80,113.16 477.50,109.02" class="mk"/>
<polygon points="483.50,126.80 485.57,129.10 483.50,131.40 481.43,129.10" class="mk"/>
<polygon points="523.77,125.77 528.83,125.77 526.30,121.40" fill="#000" stroke="#000" stroke-width="0.4"/>
<rect x="222.5" y="7.1" width="62.00" height="97.70" fill="#fff" stroke="#888" stroke-width="0.9"/>
<text transform="translate(223.91,18.04) scale(0.1613,0.1719)" font-size="40" style="font-family:'Noto Sans CJK SC','DejaVu Sans',sans-serif" class="sy">△</text>
<text x="230.6" y="18.0" font-size="9.4" class="lg" textLength="17.50" lengthAdjust="spacing"><tspan y="18.00">-WC</tspan></text>
<text transform="translate(223.90,29.44) scale(0.1640,0.1781)" font-size="40" style="font-family:'Noto Sans CJK SC','DejaVu Sans',sans-serif" class="sy">▽</text>
<text x="230.3" y="30.0" font-size="9.4" class="lg" textLength="22.40" lengthAdjust="spacing"><tspan y="30.00">-W</tspan><tspan font-size="8.65" y="31.70">2</tspan><tspan y="30.00">C</tspan></text>
<text transform="translate(223.98,43.68) scale(0.1124,0.1126)" font-size="40" style="font-family:'Noto Sans CJK SC','DejaVu Sans',sans-serif" class="sy">○</text>
<text x="229.1" y="44.6" font-size="9.4" class="lg" textLength="27.90" lengthAdjust="spacing"><tspan y="44.60">-Cr</tspan><tspan font-size="8.65" y="46.30">7</tspan><tspan y="44.60">C</tspan><tspan font-size="8.65" y="46.30">3</tspan></text>
<text transform="translate(224.21,57.82) scale(0.1079,0.1198)" font-size="40" style="font-family:'Noto Sans CJK SC','DejaVu Sans',sans-serif" class="sy">◇</text>
<text x="228.5" y="59.4" font-size="9.4" class="lg" textLength="53.90" lengthAdjust="spacing"><tspan y="59.40">-(Cr，Fe)</tspan><tspan font-size="8.65" y="61.10">7</tspan><tspan y="59.40">C</tspan><tspan font-size="8.65" y="61.10">3</tspan></text>
<text transform="translate(223.94,72.81) scale(0.1139,0.1080)" font-size="40" style="font-family:'Noto Sans CJK SC','DejaVu Sans',sans-serif" class="sy">□</text>
<text x="228.4" y="73.5" font-size="9.4" class="lg" textLength="33.10" lengthAdjust="spacing"><tspan y="73.50">-Cr</tspan><tspan font-size="8.65" y="75.20">23</tspan><tspan y="73.50">C</tspan><tspan font-size="8.65" y="75.20">6</tspan></text>
<text transform="translate(224.21,86.79) scale(0.1209,0.1307)" font-size="40" style="font-family:'Noto Sans CJK SC','DejaVu Sans',sans-serif" class="sy">☆</text>
<text x="229.0" y="87.4" font-size="9.4" class="lg" textLength="37.70" lengthAdjust="spacing"><tspan y="87.40">-Fe</tspan><tspan font-size="8.65" y="89.10">3</tspan><tspan y="87.40">W</tspan><tspan font-size="8.65" y="89.10">3</tspan><tspan y="87.40">C</tspan></text>
<text transform="translate(224.81,101.63) scale(0.1613,0.1656)" font-size="40" style="font-family:'Noto Sans CJK SC','DejaVu Sans',sans-serif" class="sy">▲</text>
<text x="232.2" y="101.5" font-size="9.4" class="lg" textLength="37.90" lengthAdjust="spacing"><tspan y="101.50">-(Fe，Cr)</tspan></text>
<rect x="519.4" y="10.7" width="74.80" height="101.00" fill="#fff" stroke="#888" stroke-width="0.9"/>
<text transform="translate(520.81,21.37) scale(0.1586,0.1547)" font-size="40" style="font-family:'Noto Sans CJK SC','DejaVu Sans',sans-serif" class="sy">△</text>
<text x="527.5" y="21.5" font-size="9.0" class="lg" textLength="17.60" lengthAdjust="spacing"><tspan y="21.50">-WC</tspan></text>
<text transform="translate(520.81,33.27) scale(0.1586,0.1656)" font-size="40" style="font-family:'Noto Sans CJK SC','DejaVu Sans',sans-serif" class="sy">▽</text>
<text x="527.2" y="34.3" font-size="9.0" class="lg" textLength="22.70" lengthAdjust="spacing"><tspan y="34.30">-W</tspan><tspan font-size="8.28" y="36.00">2</tspan><tspan y="34.30">C</tspan></text>
<text transform="translate(521.08,48.30) scale(0.1124,0.1071)" font-size="40" style="font-family:'Noto Sans CJK SC','DejaVu Sans',sans-serif" class="sy">○</text>
<text x="526.6" y="49.0" font-size="9.0" class="lg" textLength="27.60" lengthAdjust="spacing"><tspan y="49.00">-Cr</tspan><tspan font-size="8.28" y="50.70">7</tspan><tspan y="49.00">C</tspan><tspan font-size="8.28" y="50.70">3</tspan></text>
<text transform="translate(520.89,62.75) scale(0.1395,0.1380)" font-size="40" style="font-family:'Noto Sans CJK SC','DejaVu Sans',sans-serif" class="sy">◇</text>
<text x="527.2" y="63.7" font-size="9.0" class="lg" textLength="65.10" lengthAdjust="spacing"><tspan y="63.70">-（Cr，Fe）</tspan><tspan font-size="8.28" y="65.40">7</tspan><tspan y="63.70">C</tspan><tspan font-size="8.28" y="65.40">3</tspan></text>
<text transform="translate(521.17,78.31) scale(0.1329,0.1142)" font-size="40" style="font-family:'Noto Sans CJK SC','DejaVu Sans',sans-serif" class="sy">□</text>
<text x="526.0" y="78.9" font-size="9.0" class="lg" textLength="32.70" lengthAdjust="spacing"><tspan y="78.90">-Cr</tspan><tspan font-size="8.28" y="80.60">23</tspan><tspan y="78.90">C</tspan><tspan font-size="8.28" y="80.60">6</tspan></text>
<text transform="translate(521.52,92.28) scale(0.1154,0.1335)" font-size="40" style="font-family:'Noto Sans CJK SC','DejaVu Sans',sans-serif" class="sy">☆</text>
<text x="526.5" y="93.0" font-size="9.0" class="lg" textLength="37.00" lengthAdjust="spacing"><tspan y="93.00">-Fe</tspan><tspan font-size="8.28" y="94.70">3</tspan><tspan y="93.00">W</tspan><tspan font-size="8.28" y="94.70">3</tspan><tspan y="93.00">C</tspan></text>
<text transform="translate(521.90,107.75) scale(0.1640,0.1875)" font-size="40" style="font-family:'Noto Sans CJK SC','DejaVu Sans',sans-serif" class="sy">▲</text>
<text x="529.5" y="107.6" font-size="9.0" class="lg" textLength="42.50" lengthAdjust="spacing"><tspan y="107.60">-(Fe，Cr）</tspan></text>
<text transform="translate(13.3,129.6) rotate(-90)" class="ax" font-size="18.2">Intensity</text>
<text transform="translate(322.2,130.4) rotate(-90)" class="ax" font-size="17.8">Intensity</text>
<text x="130.2" y="233.7" class="ax" font-size="17">2θ/Degree</text>
<text x="439.7" y="230.7" class="ax" font-size="17">2θ/Degree</text>
<text x="138.0" y="253.6" class="ax" font-size="18">(a)</text>
<text x="446.5" y="250.0" class="ax" font-size="18">(b)</text>
</svg>
</body></html>
